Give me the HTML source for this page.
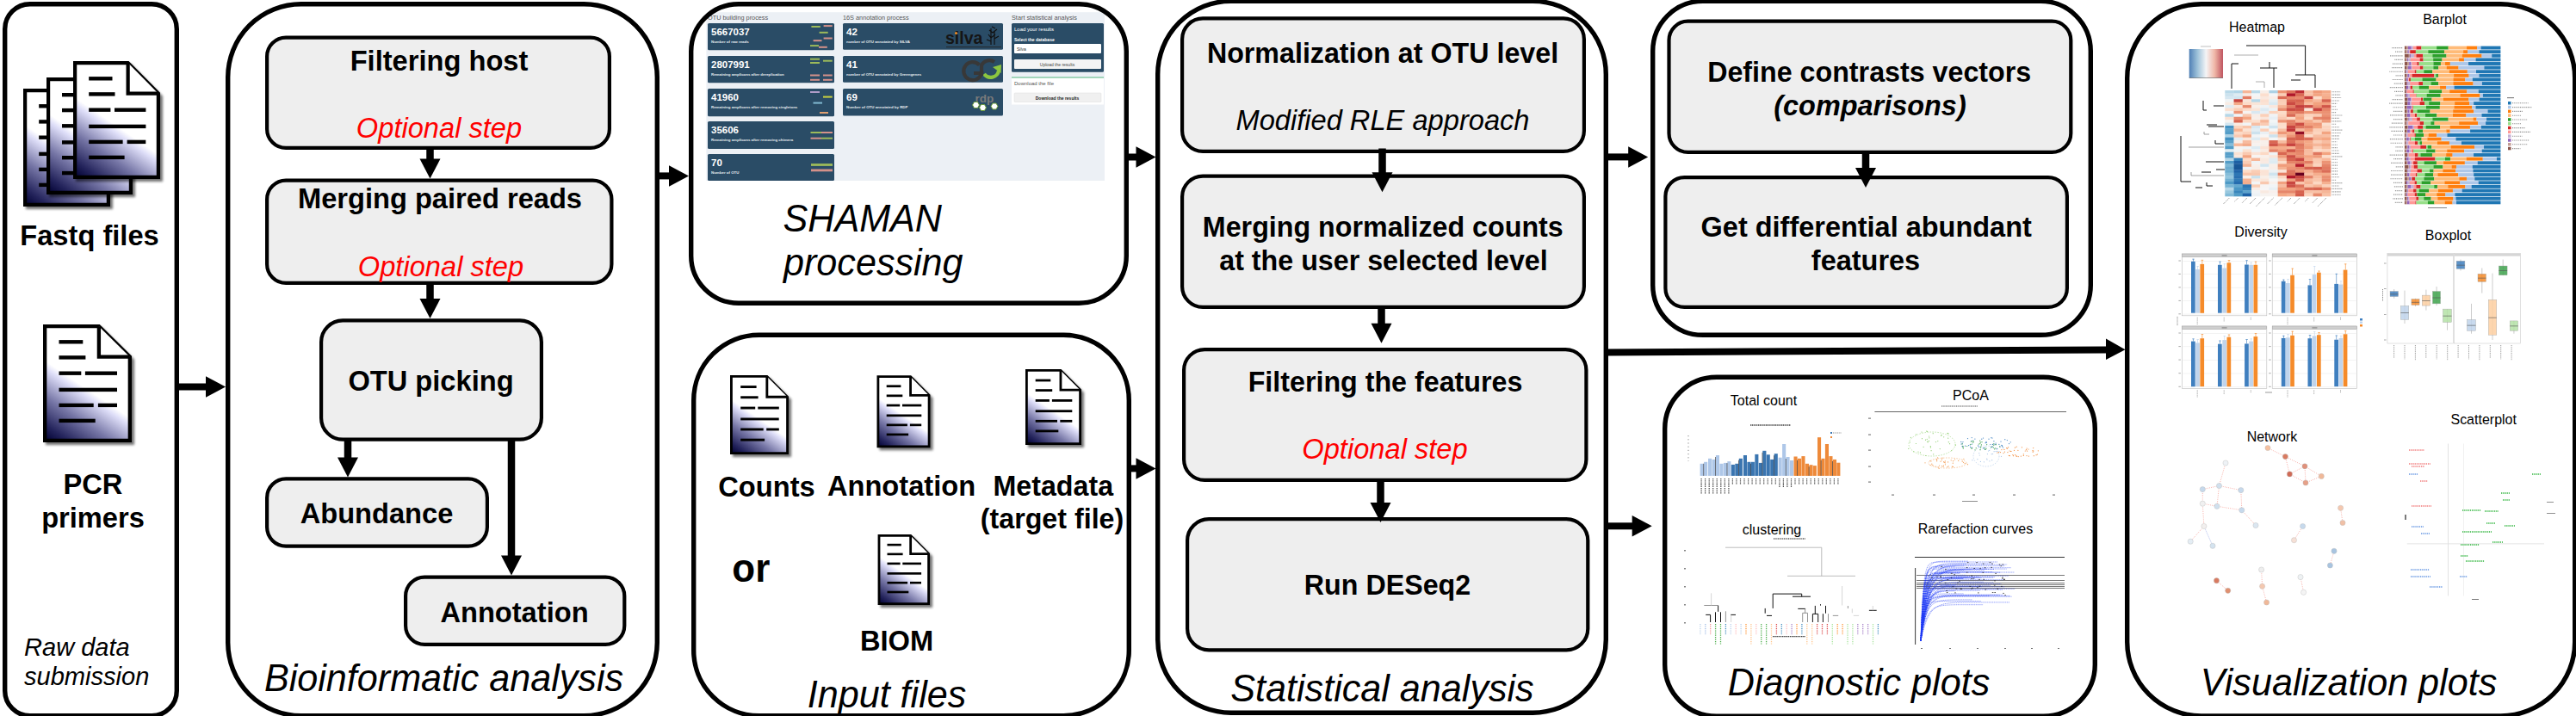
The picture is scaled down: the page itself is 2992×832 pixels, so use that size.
<!DOCTYPE html>
<html><head><meta charset="utf-8"><style>html,body{margin:0;padding:0;background:#fff;overflow:hidden}svg{display:block}</style></head><body><svg width="2992" height="832" viewBox="0 0 2992 832">
<defs>
<linearGradient id="docg" x1="0.28" y1="0.44" x2="0" y2="1">
<stop offset="0" stop-color="#ffffff"/>
<stop offset="0.1" stop-color="#dedef8"/>
<stop offset="0.45" stop-color="#7676a6"/>
<stop offset="0.8" stop-color="#24245c"/>
<stop offset="1" stop-color="#000032"/>
</linearGradient>
<clipPath id="p3clip"><rect x="805" y="7" width="501" height="343" rx="50" ry="50"/></clipPath>
<filter id="blur" x="-20%" y="-20%" width="140%" height="140%"><feGaussianBlur stdDeviation="1.5"/></filter>
<linearGradient id="hmkey" x1="0" y1="0" x2="1" y2="0">
<stop offset="0" stop-color="#4f7fb5"/>
<stop offset="0.25" stop-color="#9fc3da"/>
<stop offset="0.5" stop-color="#f4f4f6"/>
<stop offset="0.75" stop-color="#f0b8a8"/>
<stop offset="1" stop-color="#c05560"/>
</linearGradient>
</defs>
<rect x="0" y="0" width="2992" height="832" fill="#fff"/>
<rect x="5.7" y="4.7" width="199.6" height="827.0" rx="29" ry="29" fill="none" stroke="#000" stroke-width="5.4"/>
<path d="M30,106 L93.63,106 L131,143.675 L131,243 L30,243 Z" fill="#000" opacity="0.55" filter="url(#blur)"/>
<path d="M29.121,105.121 L90.63,105.121 L125.879,140.675 L125.879,237.879 L29.121,237.879 Z" fill="url(#docg)" stroke="#000" stroke-width="4.242" stroke-linejoin="miter"/>
<path d="M90.63,105.121 L90.63,140.675 L125.879,140.675" fill="#fff" stroke="#000" stroke-width="4.242"/>
<rect x="45.2" y="121.1" width="27.3" height="4.4" fill="#000"/>
<rect x="45.2" y="139.2" width="30.3" height="4.4" fill="#000"/>
<rect x="45.2" y="157.5" width="25.2" height="4.4" fill="#000"/>
<rect x="75.0" y="157.5" width="36.4" height="4.4" fill="#000"/>
<rect x="45.2" y="176.7" width="66.2" height="4.4" fill="#000"/>
<rect x="45.2" y="194.7" width="39.4" height="4.4" fill="#000"/>
<rect x="89.6" y="194.7" width="21.7" height="4.4" fill="#000"/>
<rect x="45.2" y="212.7" width="41.4" height="4.4" fill="#000"/>
<path d="M57,93 L120.0,93 L157,130.4 L157,229 L57,229 Z" fill="#000" opacity="0.55" filter="url(#blur)"/>
<path d="M56.1,92.1 L117.0,92.1 L151.9,127.4 L151.9,223.9 L56.1,223.9 Z" fill="url(#docg)" stroke="#000" stroke-width="4.2" stroke-linejoin="miter"/>
<path d="M117.0,92.1 L117.0,127.4 L151.9,127.4" fill="#fff" stroke="#000" stroke-width="4.2"/>
<rect x="72.0" y="108.0" width="27.0" height="4.4" fill="#000"/>
<rect x="72.0" y="125.9" width="30.0" height="4.4" fill="#000"/>
<rect x="72.0" y="144.1" width="25.0" height="4.4" fill="#000"/>
<rect x="101.5" y="144.1" width="36.0" height="4.4" fill="#000"/>
<rect x="72.0" y="163.2" width="65.5" height="4.4" fill="#000"/>
<rect x="72.0" y="181.0" width="39.0" height="4.4" fill="#000"/>
<rect x="116.0" y="181.0" width="21.5" height="4.4" fill="#000"/>
<rect x="72.0" y="198.9" width="41.0" height="4.4" fill="#000"/>
<path d="M88,74 L151.63,74 L189,111.67500000000001 L189,211 L88,211 Z" fill="#000" opacity="0.55" filter="url(#blur)"/>
<path d="M87.121,73.121 L148.63,73.121 L183.879,108.67500000000001 L183.879,205.879 L87.121,205.879 Z" fill="url(#docg)" stroke="#000" stroke-width="4.242" stroke-linejoin="miter"/>
<path d="M148.63,73.121 L148.63,108.67500000000001 L183.879,108.67500000000001" fill="#fff" stroke="#000" stroke-width="4.242"/>
<rect x="103.2" y="89.1" width="27.3" height="4.4" fill="#000"/>
<rect x="103.2" y="107.2" width="30.3" height="4.4" fill="#000"/>
<rect x="103.2" y="125.5" width="25.2" height="4.4" fill="#000"/>
<rect x="133.0" y="125.5" width="36.4" height="4.4" fill="#000"/>
<rect x="103.2" y="144.7" width="66.2" height="4.4" fill="#000"/>
<rect x="103.2" y="162.7" width="39.4" height="4.4" fill="#000"/>
<rect x="147.6" y="162.7" width="21.7" height="4.4" fill="#000"/>
<rect x="103.2" y="180.7" width="41.4" height="4.4" fill="#000"/>
<text x="104" y="285.3" font-family="Liberation Sans, sans-serif" font-size="32.64" font-weight="bold" font-style="normal" fill="#000" text-anchor="middle" transform="translate(0,285.3) scale(1,1.025) translate(0,-285.3)" >Fastq files</text>
<path d="M53,380 L117.89,380 L156,417.675 L156,517 L53,517 Z" fill="#000" opacity="0.55" filter="url(#blur)"/>
<path d="M52.163,379.163 L114.89,379.163 L150.837,414.675 L150.837,511.837 L52.163,511.837 Z" fill="url(#docg)" stroke="#000" stroke-width="4.3260000000000005" stroke-linejoin="miter"/>
<path d="M114.89,379.163 L114.89,414.675 L150.837,414.675" fill="#fff" stroke="#000" stroke-width="4.3260000000000005"/>
<rect x="68.5" y="395.1" width="27.8" height="4.4" fill="#000"/>
<rect x="68.5" y="413.2" width="30.9" height="4.4" fill="#000"/>
<rect x="68.5" y="431.5" width="25.8" height="4.4" fill="#000"/>
<rect x="98.9" y="431.5" width="37.1" height="4.4" fill="#000"/>
<rect x="68.5" y="450.7" width="67.5" height="4.4" fill="#000"/>
<rect x="68.5" y="468.7" width="40.2" height="4.4" fill="#000"/>
<rect x="113.9" y="468.7" width="22.1" height="4.4" fill="#000"/>
<rect x="68.5" y="486.7" width="42.2" height="4.4" fill="#000"/>
<text x="108" y="574.3" font-family="Liberation Sans, sans-serif" font-size="32.64" font-weight="bold" font-style="normal" fill="#000" text-anchor="middle" transform="translate(0,574.3) scale(1,1.025) translate(0,-574.3)" >PCR</text>
<text x="108" y="613.3" font-family="Liberation Sans, sans-serif" font-size="32.64" font-weight="bold" font-style="normal" fill="#000" text-anchor="middle" transform="translate(0,613.3) scale(1,1.025) translate(0,-613.3)" >primers</text>
<text x="28" y="762.3" font-family="Liberation Sans, sans-serif" font-size="29.07" font-weight="normal" font-style="italic" fill="#000" text-anchor="start" transform="translate(0,762.3) scale(1,1.025) translate(0,-762.3)" >Raw data</text>
<text x="28" y="796.3" font-family="Liberation Sans, sans-serif" font-size="29.07" font-weight="normal" font-style="italic" fill="#000" text-anchor="start" transform="translate(0,796.3) scale(1,1.025) translate(0,-796.3)" >submission</text>
<rect x="205" y="445.5" width="35" height="8" fill="#000"/>
<polygon points="239,437.25 239,461.75 262,449.5" fill="#000"/>
<rect x="264.7" y="4.7" width="498.6" height="827.0" rx="85" ry="85" fill="none" stroke="#000" stroke-width="5.4"/>
<rect x="310.1" y="43.6" width="397.8" height="128.3" rx="22" ry="22" fill="#eeeeee" stroke="#000" stroke-width="4.2"/>
<text x="510" y="81.8" font-family="Liberation Sans, sans-serif" font-size="32.64" font-weight="bold" font-style="normal" fill="#000" text-anchor="middle" transform="translate(0,81.8) scale(1,1.025) translate(0,-81.8)" >Filtering host</text>
<text x="510" y="160.3" font-family="Liberation Sans, sans-serif" font-size="32.64" font-weight="normal" font-style="italic" fill="#ff0000" text-anchor="middle" transform="translate(0,160.3) scale(1,1.025) translate(0,-160.3)" >Optional step</text>
<rect x="310.1" y="209.6" width="400.3" height="119.3" rx="22" ry="22" fill="#eeeeee" stroke="#000" stroke-width="4.2"/>
<text x="511" y="242.3" font-family="Liberation Sans, sans-serif" font-size="32.64" font-weight="bold" font-style="normal" fill="#000" text-anchor="middle" transform="translate(0,242.3) scale(1,1.025) translate(0,-242.3)" >Merging paired reads</text>
<text x="512" y="320.8" font-family="Liberation Sans, sans-serif" font-size="32.64" font-weight="normal" font-style="italic" fill="#ff0000" text-anchor="middle" transform="translate(0,320.8) scale(1,1.025) translate(0,-320.8)" >Optional step</text>
<rect x="373.1" y="372.40000000000003" width="255.8" height="138.29999999999995" rx="25" ry="25" fill="#eeeeee" stroke="#000" stroke-width="4.2"/>
<text x="500.5" y="454.3" font-family="Liberation Sans, sans-serif" font-size="32.64" font-weight="bold" font-style="normal" fill="#000" text-anchor="middle" transform="translate(0,454.3) scale(1,1.025) translate(0,-454.3)" >OTU picking</text>
<rect x="310.1" y="556.4" width="255.8" height="78.20000000000009" rx="22" ry="22" fill="#eeeeee" stroke="#000" stroke-width="4.2"/>
<text x="437.5" y="608.3" font-family="Liberation Sans, sans-serif" font-size="32.64" font-weight="bold" font-style="normal" fill="#000" text-anchor="middle" transform="translate(0,608.3) scale(1,1.025) translate(0,-608.3)" >Abundance</text>
<rect x="471.1" y="670.6" width="254.2" height="78.3" rx="22" ry="22" fill="#eeeeee" stroke="#000" stroke-width="4.2"/>
<text x="597.5" y="722.5999999999999" font-family="Liberation Sans, sans-serif" font-size="32.64" font-weight="bold" font-style="normal" fill="#000" text-anchor="middle" transform="translate(0,722.5999999999999) scale(1,1.025) translate(0,-722.5999999999999)" >Annotation</text>
<rect x="495.25" y="172" width="8.5" height="13.5" fill="#000"/>
<polygon points="487.5,184.5 511.5,184.5 499.5,207.5" fill="#000"/>
<rect x="495.25" y="329" width="8.5" height="19" fill="#000"/>
<polygon points="487.5,347 511.5,347 499.5,370" fill="#000"/>
<rect x="399.75" y="511" width="8.5" height="21.5" fill="#000"/>
<polygon points="392.0,531.5 416.0,531.5 404,554.5" fill="#000"/>
<rect x="589.75" y="511" width="8.5" height="135.5" fill="#000"/>
<polygon points="582.0,645.5 606.0,645.5 594,668.5" fill="#000"/>
<text x="515.5" y="803.2" font-family="Liberation Sans, sans-serif" font-size="43.13" font-weight="normal" font-style="italic" fill="#000" text-anchor="middle" transform="translate(0,803.2) scale(1,1.04) translate(0,-803.2)" >Bioinformatic analysis</text>
<rect x="763" y="200.4" width="15" height="8" fill="#000"/>
<polygon points="777,192.15 777,216.65 800,204.4" fill="#000"/>
<g clip-path="url(#p3clip)"><rect x="820.4" y="14.2" width="462.6" height="195.8" fill="#ecf0f5"/>
<text x="822" y="22.5" font-family="Liberation Sans, sans-serif" font-size="7.3" font-weight="normal" fill="#555" text-anchor="start">OTU building process</text>
<text x="979" y="22.5" font-family="Liberation Sans, sans-serif" font-size="7.3" font-weight="normal" fill="#555" text-anchor="start">16S annotation process</text>
<text x="1175" y="22.5" font-family="Liberation Sans, sans-serif" font-size="7.3" font-weight="normal" fill="#555" text-anchor="start">Start statistical analysis</text>
<rect x="822" y="27" width="147" height="31.200000000000003" rx="1.5" fill="#2a4c66"/>
<text x="826" y="41.2" font-family="Liberation Sans, sans-serif" font-size="11.5" font-weight="bold" fill="#fff" text-anchor="start">5667037</text>
<text x="826" y="49.5" font-family="Liberation Sans, sans-serif" font-size="4.4" font-weight="bold" fill="#e8ecf0" text-anchor="start">Number of raw reads</text>
<rect x="822" y="65" width="147" height="31.200000000000003" rx="1.5" fill="#2a4c66"/>
<text x="826" y="79.2" font-family="Liberation Sans, sans-serif" font-size="11.5" font-weight="bold" fill="#fff" text-anchor="start">2807991</text>
<text x="826" y="87.5" font-family="Liberation Sans, sans-serif" font-size="4.4" font-weight="bold" fill="#e8ecf0" text-anchor="start">Remaining amplicons after dereplication</text>
<rect x="822" y="103" width="147" height="32.19999999999999" rx="1.5" fill="#2a4c66"/>
<text x="826" y="117.2" font-family="Liberation Sans, sans-serif" font-size="11.5" font-weight="bold" fill="#fff" text-anchor="start">41960</text>
<text x="826" y="125.5" font-family="Liberation Sans, sans-serif" font-size="4.4" font-weight="bold" fill="#e8ecf0" text-anchor="start">Remaining amplicons after removing singletons</text>
<rect x="822" y="141" width="147" height="32" rx="1.5" fill="#2a4c66"/>
<text x="826" y="155.2" font-family="Liberation Sans, sans-serif" font-size="11.5" font-weight="bold" fill="#fff" text-anchor="start">35606</text>
<text x="826" y="163.5" font-family="Liberation Sans, sans-serif" font-size="4.4" font-weight="bold" fill="#e8ecf0" text-anchor="start">Remaining amplicons after removing chimera</text>
<rect x="822" y="179" width="147" height="31" rx="1.5" fill="#2a4c66"/>
<text x="826" y="193.2" font-family="Liberation Sans, sans-serif" font-size="11.5" font-weight="bold" fill="#fff" text-anchor="start">70</text>
<text x="826" y="201.5" font-family="Liberation Sans, sans-serif" font-size="4.4" font-weight="bold" fill="#e8ecf0" text-anchor="start">Number of OTU</text>
<rect x="942.4" y="30.0" width="10.399999999999977" height="2" fill="#9cba5a"/>
<rect x="956.6" y="29.1" width="10.100000000000023" height="2" fill="#d4918a"/>
<rect x="951.6" y="36.8" width="10.100000000000023" height="2" fill="#9cba5a"/>
<rect x="956.6" y="43.5" width="10.100000000000023" height="2" fill="#d4918a"/>
<rect x="944.6" y="46.2" width="9.899999999999977" height="2" fill="#d4918a"/>
<rect x="941" y="52.1" width="10" height="2" fill="#9cba5a"/>
<rect x="951" y="53.8" width="9.799999999999955" height="2" fill="#d4918a"/>
<rect x="941" y="67.7" width="11" height="2" fill="#9cba5a"/>
<rect x="941" y="72.0" width="11" height="2" fill="#9cba5a"/>
<rect x="956" y="69.7" width="10.700000000000045" height="2" fill="#9cba5a"/>
<rect x="941" y="86.5" width="11" height="2" fill="#d4918a"/>
<rect x="941" y="91.8" width="11" height="2" fill="#d4918a"/>
<rect x="956" y="86.5" width="10.700000000000045" height="2" fill="#d4918a"/>
<rect x="956" y="91.8" width="10.700000000000045" height="2" fill="#d4918a"/>
<rect x="941" y="106.0" width="11" height="2" fill="#b09cc8"/>
<rect x="956" y="111.6" width="10.700000000000045" height="2" fill="#c8d040"/>
<rect x="944.5" y="118.6" width="10.5" height="2" fill="#80b8d0"/>
<rect x="952" y="130.0" width="10" height="2" fill="#e0a070"/>
<rect x="941.5" y="153.0" width="12.5" height="2" fill="#9cba5a"/>
<rect x="954" y="153.0" width="13" height="2" fill="#d4918a"/>
<rect x="941.5" y="159.7" width="12.5" height="2" fill="#d4918a"/>
<rect x="954" y="159.7" width="13" height="2" fill="#9cba5a"/>
<rect x="942" y="190.1" width="25" height="2.8" fill="#9cba5a"/>
<rect x="942" y="196.5" width="25" height="2.8" fill="#d4918a"/>
<rect x="979" y="27" width="186" height="30.700000000000003" rx="1.5" fill="#2a4c66"/>
<text x="983" y="41.2" font-family="Liberation Sans, sans-serif" font-size="11.5" font-weight="bold" fill="#fff" text-anchor="start">42</text>
<text x="983" y="49.5" font-family="Liberation Sans, sans-serif" font-size="4.4" font-weight="bold" fill="#e8ecf0" text-anchor="start">number of OTU annotated by SILVA</text>
<rect x="979" y="65" width="186" height="30.700000000000003" rx="1.5" fill="#2a4c66"/>
<text x="983" y="79.2" font-family="Liberation Sans, sans-serif" font-size="11.5" font-weight="bold" fill="#fff" text-anchor="start">41</text>
<text x="983" y="87.5" font-family="Liberation Sans, sans-serif" font-size="4.4" font-weight="bold" fill="#e8ecf0" text-anchor="start">number of OTU annotated by Greengenes</text>
<rect x="979" y="103" width="186" height="31.599999999999994" rx="1.5" fill="#2a4c66"/>
<text x="983" y="117.2" font-family="Liberation Sans, sans-serif" font-size="11.5" font-weight="bold" fill="#fff" text-anchor="start">69</text>
<text x="983" y="125.5" font-family="Liberation Sans, sans-serif" font-size="4.4" font-weight="bold" fill="#e8ecf0" text-anchor="start">Number of OTU annotated by RDP</text>
<text x="1098" y="51" font-family="Liberation Sans, sans-serif" font-size="19.5" font-weight="bold" fill="#151515" text-anchor="start">silva</text>
<circle cx="1110.5" cy="38.5" r="1.5" fill="#f08a24"/>
<g stroke="#111" stroke-width="1.2" fill="none"><path d="M1151,52 L1151,33 M1155,52 L1155,36 M1148,40 L1151,44 L1156,40 M1146,46 L1151,48 M1155,45 L1160,42 M1149,35 L1153,38 L1158,34 M1152,31 L1156,33"/></g>
<rect x="1099" y="54" width="64" height="1.2" fill="#222" opacity="0.7"/>
<path d="M1137.5,75.5 A10.5,10.5 0 1 0 1140,85 L1131,85" fill="none" stroke="#383838" stroke-width="4.2"/>
<path d="M1158,76 A10,10 0 1 0 1160,85.5" fill="none" stroke="#383838" stroke-width="4.2" opacity="0"/>
<path d="M1143,86 A9.5,9.5 0 0 0 1160,82" fill="none" stroke="#8cc63f" stroke-width="4.2"/>
<path d="M1140,88 L1140,76 A10,10 0 0 1 1155,72" fill="none" stroke="#383838" stroke-width="4.2"/>
<polygon points="1153,78 1163,75 1162.5,85" fill="#8cc63f"/>
<text x="1132.5" y="119" font-family="Liberation Sans, sans-serif" font-size="13.5" font-weight="bold" fill="#7a7a7a" text-anchor="start">rdp</text>
<polygon points="1129.5,122 1131.5,118.5 1135.5,118.5 1137.5,122 1135.5,125.5 1131.5,125.5" fill="#fff" stroke="#6a9a3a" stroke-width="1"/>
<polygon points="1137.5,125 1139.5,121.5 1143.5,121.5 1145.5,125 1143.5,128.5 1139.5,128.5" fill="#fff" stroke="#6a9a3a" stroke-width="1"/>
<polygon points="1151,123.5 1153,120.0 1157,120.0 1159,123.5 1157,127.0 1153,127.0" fill="#fff" stroke="#6a9a3a" stroke-width="1"/>
<rect x="1175" y="27" width="107" height="56.7" rx="1.5" fill="#2a4c66"/>
<text x="1178" y="36" font-family="Liberation Sans, sans-serif" font-size="6" font-weight="normal" fill="#fff" text-anchor="start">Load your results</text>
<text x="1178" y="48" font-family="Liberation Sans, sans-serif" font-size="5" font-weight="bold" fill="#fff" text-anchor="start">Select the database</text>
<rect x="1178" y="51" width="101" height="11" rx="1" fill="#fff"/>
<text x="1181" y="58.5" font-family="Liberation Sans, sans-serif" font-size="5" font-weight="normal" fill="#333" text-anchor="start">Silva</text>
<rect x="1178" y="69" width="101" height="11" rx="1" fill="#f4f4f4"/>
<text x="1228" y="77" font-family="Liberation Sans, sans-serif" font-size="5" font-weight="normal" fill="#444" text-anchor="middle">Upload the results</text>
<rect x="1175" y="89.5" width="107" height="32" fill="#fff"/>
<rect x="1175" y="89.5" width="107" height="1" fill="#4caf7a"/>
<text x="1178" y="99" font-family="Liberation Sans, sans-serif" font-size="6" font-weight="normal" fill="#555" text-anchor="start">Download the file</text>
<rect x="1178" y="108" width="101" height="10.5" rx="1" fill="#f0f0f0" stroke="#ddd" stroke-width="0.5"/>
<text x="1228" y="115.5" font-family="Liberation Sans, sans-serif" font-size="5" font-weight="bold" fill="#222" text-anchor="middle">Download the results</text></g>
<rect x="802.7" y="4.7" width="505.6" height="347.6" rx="55" ry="55" fill="none" stroke="#000" stroke-width="5.4"/>
<text x="909.5" y="268.7" font-family="Liberation Sans, sans-serif" font-size="43.13" font-weight="normal" font-style="italic" fill="#000" text-anchor="start" transform="translate(0,268.7) scale(1,1.04) translate(0,-268.7)" >SHAMAN</text>
<text x="910" y="319.7" font-family="Liberation Sans, sans-serif" font-size="43.13" font-weight="normal" font-style="italic" fill="#000" text-anchor="start" transform="translate(0,319.7) scale(1,1.04) translate(0,-319.7)" >processing</text>
<rect x="1308" y="178.5" width="12.5" height="8" fill="#000"/>
<polygon points="1319.5,170.25 1319.5,194.75 1342.5,182.5" fill="#000"/>
<rect x="805.7" y="389.2" width="505.6" height="442.5" rx="76" ry="76" fill="none" stroke="#000" stroke-width="5.4"/>
<path d="M851,439 L893.84,439 L919,464.3 L919,531 L851,531 Z" fill="#000" opacity="0.55" filter="url(#blur)"/>
<path d="M849.428,437.428 L890.84,437.428 L914.572,461.3 L914.572,526.572 L849.428,526.572 Z" fill="url(#docg)" stroke="#000" stroke-width="2.8560000000000003" stroke-linejoin="miter"/>
<path d="M890.84,437.428 L890.84,461.3 L914.572,461.3" fill="#fff" stroke="#000" stroke-width="2.8560000000000003"/>
<rect x="860.2" y="448.1" width="18.4" height="2.9" fill="#000"/>
<rect x="860.2" y="460.3" width="20.4" height="2.9" fill="#000"/>
<rect x="860.2" y="472.6" width="17.0" height="2.9" fill="#000"/>
<rect x="880.3" y="472.6" width="24.5" height="2.9" fill="#000"/>
<rect x="860.2" y="485.5" width="44.5" height="2.9" fill="#000"/>
<rect x="860.2" y="497.5" width="26.5" height="2.9" fill="#000"/>
<rect x="890.2" y="497.5" width="14.6" height="2.9" fill="#000"/>
<rect x="860.2" y="509.7" width="27.9" height="2.9" fill="#000"/>
<path d="M1021.5,439.3 L1060.56,439.3 L1083.5,462.40000000000003 L1083.5,523.3 L1021.5,523.3 Z" fill="#000" opacity="0.55" filter="url(#blur)"/>
<path d="M1019.9,437.7 L1057.56,437.7 L1079.1,459.40000000000003 L1079.1,518.9 L1019.9,518.9 Z" fill="url(#docg)" stroke="#000" stroke-width="2.8" stroke-linejoin="miter"/>
<path d="M1057.56,437.7 L1057.56,459.40000000000003 L1079.1,459.40000000000003" fill="#fff" stroke="#000" stroke-width="2.8"/>
<rect x="1029.7" y="447.4" width="16.7" height="2.7" fill="#000"/>
<rect x="1029.7" y="458.5" width="18.6" height="2.7" fill="#000"/>
<rect x="1029.7" y="469.7" width="15.5" height="2.7" fill="#000"/>
<rect x="1048.0" y="469.7" width="22.3" height="2.7" fill="#000"/>
<rect x="1029.7" y="481.5" width="40.6" height="2.7" fill="#000"/>
<rect x="1029.7" y="492.5" width="24.2" height="2.7" fill="#000"/>
<rect x="1056.9" y="492.5" width="13.3" height="2.7" fill="#000"/>
<rect x="1029.7" y="503.6" width="25.4" height="2.7" fill="#000"/>
<path d="M1194,432 L1234.95,432 L1259,456.2 L1259,520 L1194,520 Z" fill="#000" opacity="0.55" filter="url(#blur)"/>
<path d="M1192.4,430.4 L1231.95,430.4 L1254.6,453.2 L1254.6,515.6 L1192.4,515.6 Z" fill="url(#docg)" stroke="#000" stroke-width="2.8" stroke-linejoin="miter"/>
<path d="M1231.95,430.4 L1231.95,453.2 L1254.6,453.2" fill="#fff" stroke="#000" stroke-width="2.8"/>
<rect x="1202.7" y="440.6" width="17.6" height="2.8" fill="#000"/>
<rect x="1202.7" y="452.2" width="19.5" height="2.8" fill="#000"/>
<rect x="1202.7" y="464.0" width="16.2" height="2.8" fill="#000"/>
<rect x="1221.9" y="464.0" width="23.4" height="2.8" fill="#000"/>
<rect x="1202.7" y="476.3" width="42.6" height="2.8" fill="#000"/>
<rect x="1202.7" y="487.9" width="25.3" height="2.8" fill="#000"/>
<rect x="1231.3" y="487.9" width="14.0" height="2.8" fill="#000"/>
<rect x="1202.7" y="499.5" width="26.6" height="2.8" fill="#000"/>
<path d="M1022.6,624 L1060.652,624 L1083.0,646.55 L1083.0,706 L1022.6,706 Z" fill="#000" opacity="0.55" filter="url(#blur)"/>
<path d="M1021.0,622.4 L1057.652,622.4 L1078.6,643.55 L1078.6,701.6 L1021.0,701.6 Z" fill="url(#docg)" stroke="#000" stroke-width="2.8" stroke-linejoin="miter"/>
<path d="M1057.652,622.4 L1057.652,643.55 L1078.6,643.55" fill="#fff" stroke="#000" stroke-width="2.8"/>
<rect x="1030.5" y="631.8" width="16.3" height="2.6" fill="#000"/>
<rect x="1030.5" y="642.6" width="18.1" height="2.6" fill="#000"/>
<rect x="1030.5" y="653.6" width="15.1" height="2.6" fill="#000"/>
<rect x="1048.3" y="653.6" width="21.7" height="2.6" fill="#000"/>
<rect x="1030.5" y="665.1" width="39.6" height="2.6" fill="#000"/>
<rect x="1030.5" y="675.9" width="23.6" height="2.6" fill="#000"/>
<rect x="1057.0" y="675.9" width="13.0" height="2.6" fill="#000"/>
<rect x="1030.5" y="686.7" width="24.8" height="2.6" fill="#000"/>
<text x="890.5" y="577.1999999999999" font-family="Liberation Sans, sans-serif" font-size="32.64" font-weight="bold" font-style="normal" fill="#000" text-anchor="middle" transform="translate(0,577.1999999999999) scale(1,1.025) translate(0,-577.1999999999999)" >Counts</text>
<text x="1047" y="576.4" font-family="Liberation Sans, sans-serif" font-size="32.64" font-weight="bold" font-style="normal" fill="#000" text-anchor="middle" transform="translate(0,576.4) scale(1,1.025) translate(0,-576.4)" >Annotation</text>
<text x="1223.3" y="575.9" font-family="Liberation Sans, sans-serif" font-size="32.23" font-weight="bold" font-style="normal" fill="#000" text-anchor="middle" transform="translate(0,575.9) scale(1,1.025) translate(0,-575.9)" >Metadata</text>
<text x="1222" y="614.0" font-family="Liberation Sans, sans-serif" font-size="32.23" font-weight="bold" font-style="normal" fill="#000" text-anchor="middle" transform="translate(0,614.0) scale(1,1.025) translate(0,-614.0)" >(target file)</text>
<text x="872.3" y="676.5" font-family="Liberation Sans, sans-serif" font-size="43.94" font-weight="bold" font-style="normal" fill="#000" text-anchor="middle" transform="translate(0,676.5) scale(1,1.04) translate(0,-676.5)" >or</text>
<text x="1041.5" y="756.3" font-family="Liberation Sans, sans-serif" font-size="32.64" font-weight="bold" font-style="normal" fill="#000" text-anchor="middle" transform="translate(0,756.3) scale(1,1.025) translate(0,-756.3)" >BIOM</text>
<text x="1030" y="821.7" font-family="Liberation Sans, sans-serif" font-size="43.13" font-weight="normal" font-style="italic" fill="#000" text-anchor="middle" transform="translate(0,821.7) scale(1,1.04) translate(0,-821.7)" >Input files</text>
<rect x="1311" y="540.4" width="9.5" height="8" fill="#000"/>
<polygon points="1319.5,532.15 1319.5,556.65 1342.5,544.4" fill="#000"/>
<rect x="1344.7" y="1.3000000000000003" width="520.6" height="827.0" rx="85" ry="85" fill="none" stroke="#000" stroke-width="5.4"/>
<rect x="1373.1" y="21.400000000000002" width="466.8" height="154.5" rx="24" ry="24" fill="#eeeeee" stroke="#000" stroke-width="4.2"/>
<text x="1606" y="73.3" font-family="Liberation Sans, sans-serif" font-size="32.23" font-weight="bold" font-style="normal" fill="#000" text-anchor="middle" transform="translate(0,73.3) scale(1,1.025) translate(0,-73.3)" >Normalization at OTU level</text>
<text x="1606" y="151.0" font-family="Liberation Sans, sans-serif" font-size="32.64" font-weight="normal" font-style="italic" fill="#000" text-anchor="middle" transform="translate(0,151.0) scale(1,1.025) translate(0,-151.0)" >Modified RLE approach</text>
<rect x="1373.1" y="204.6" width="466.8" height="152.3" rx="24" ry="24" fill="#eeeeee" stroke="#000" stroke-width="4.2"/>
<text x="1606.3" y="275.3" font-family="Liberation Sans, sans-serif" font-size="32.23" font-weight="bold" font-style="normal" fill="#000" text-anchor="middle" transform="translate(0,275.3) scale(1,1.025) translate(0,-275.3)" >Merging normalized counts</text>
<text x="1607" y="314.5" font-family="Liberation Sans, sans-serif" font-size="32.23" font-weight="bold" font-style="normal" fill="#000" text-anchor="middle" transform="translate(0,314.5) scale(1,1.025) translate(0,-314.5)" >at the user selected level</text>
<rect x="1375.1" y="406.1" width="467.3" height="151.8" rx="24" ry="24" fill="#eeeeee" stroke="#000" stroke-width="4.2"/>
<text x="1609" y="455.0" font-family="Liberation Sans, sans-serif" font-size="32.23" font-weight="bold" font-style="normal" fill="#000" text-anchor="middle" transform="translate(0,455.0) scale(1,1.025) translate(0,-455.0)" >Filtering the features</text>
<text x="1608.5" y="532.5999999999999" font-family="Liberation Sans, sans-serif" font-size="32.64" font-weight="normal" font-style="italic" fill="#ff0000" text-anchor="middle" transform="translate(0,532.5999999999999) scale(1,1.025) translate(0,-532.5999999999999)" >Optional step</text>
<rect x="1379.1" y="603.1" width="465.2000000000001" height="152.3" rx="25" ry="25" fill="#eeeeee" stroke="#000" stroke-width="4.2"/>
<text x="1611.5" y="691.1999999999999" font-family="Liberation Sans, sans-serif" font-size="32.23" font-weight="bold" font-style="normal" fill="#000" text-anchor="middle" transform="translate(0,691.1999999999999) scale(1,1.025) translate(0,-691.1999999999999)" >Run DESeq2</text>
<rect x="1601.25" y="172.5" width="8.5" height="28.69999999999999" fill="#000"/>
<polygon points="1593.5,200.2 1617.5,200.2 1605.5,223.2" fill="#000"/>
<rect x="1600.25" y="357" width="8.5" height="19.80000000000001" fill="#000"/>
<polygon points="1592.5,375.8 1616.5,375.8 1604.5,398.8" fill="#000"/>
<rect x="1599.25" y="558" width="8.5" height="27" fill="#000"/>
<polygon points="1591.5,584 1615.5,584 1603.5,607" fill="#000"/>
<text x="1605.5" y="814.6" font-family="Liberation Sans, sans-serif" font-size="43.13" font-weight="normal" font-style="italic" fill="#000" text-anchor="middle" transform="translate(0,814.6) scale(1,1.04) translate(0,-814.6)" >Statistical analysis</text>
<rect x="1866" y="178.4" width="26.200000000000045" height="8" fill="#000"/>
<polygon points="1891.2,170.15 1891.2,194.65 1914.2,182.4" fill="#000"/>
<rect x="1866" y="607.3" width="30.700000000000045" height="8" fill="#000"/>
<polygon points="1895.7,599.05 1895.7,623.55 1918.7,611.3" fill="#000"/>
<polygon points="1866,405.5 2447,402.4 2447,410.4 1866,413.5" fill="#000"/>
<polygon points="2446,393.5 2446,418 2468.5,406.2" fill="#000"/>
<rect x="1919.7" y="1.3000000000000003" width="508.6" height="388.0" rx="58" ry="58" fill="none" stroke="#000" stroke-width="5.4"/>
<rect x="1938.5" y="24.700000000000003" width="466.8" height="152.20000000000002" rx="22" ry="22" fill="#eeeeee" stroke="#000" stroke-width="4.2"/>
<text x="2171.2" y="95.3" font-family="Liberation Sans, sans-serif" font-size="32.23" font-weight="bold" font-style="normal" fill="#000" text-anchor="middle" transform="translate(0,95.3) scale(1,1.025) translate(0,-95.3)" >Define contrasts vectors</text>
<text x="2172" y="134.0" font-family="Liberation Sans, sans-serif" font-size="32.44" font-weight="bold" font-style="italic" fill="#000" text-anchor="middle" transform="translate(0,134.0) scale(1,1.025) translate(0,-134.0)" >(comparisons)</text>
<rect x="1934.3999999999999" y="206.1" width="466.50000000000006" height="150.8" rx="22" ry="22" fill="#eeeeee" stroke="#000" stroke-width="4.2"/>
<text x="2167.7" y="275.5" font-family="Liberation Sans, sans-serif" font-size="32.49" font-weight="bold" font-style="normal" fill="#000" text-anchor="middle" transform="translate(0,275.5) scale(1,1.025) translate(0,-275.5)" >Get differential abundant</text>
<text x="2167" y="313.8" font-family="Liberation Sans, sans-serif" font-size="32.49" font-weight="bold" font-style="normal" fill="#000" text-anchor="middle" transform="translate(0,313.8) scale(1,1.025) translate(0,-313.8)" >features</text>
<rect x="2162.75" y="177" width="8.5" height="19" fill="#000"/>
<polygon points="2155.0,195 2179.0,195 2167,218" fill="#000"/>
<rect x="1933.7" y="438.2" width="499.6" height="394.1" rx="60" ry="60" fill="none" stroke="#000" stroke-width="5.4"/>
<rect x="1974.6" y="538.8" width="4.1" height="14.1" fill="#aec7e8"/>
<rect x="1979.1" y="536.8" width="4.1" height="16.1" fill="#aec7e8"/>
<rect x="1978.5" y="538.8" width="0.6" height="14.1" fill="#222"/>
<rect x="1984.0" y="532.8" width="4.1" height="20.1" fill="#aec7e8"/>
<rect x="1988.5" y="533.9" width="4.1" height="19.0" fill="#aec7e8"/>
<rect x="1992.9" y="529.0" width="4.1" height="23.9" fill="#aec7e8"/>
<rect x="1992.3" y="531.0" width="0.6" height="21.9" fill="#222"/>
<rect x="1997.4" y="538.8" width="4.1" height="14.1" fill="#aec7e8"/>
<rect x="2001.9" y="537.9" width="4.1" height="15.0" fill="#aec7e8"/>
<rect x="2006.3" y="536.1" width="4.1" height="16.8" fill="#aec7e8"/>
<rect x="2005.7" y="538.1" width="0.6" height="14.8" fill="#222"/>
<rect x="2010.8" y="539.9" width="4.1" height="13.0" fill="#3a75b0"/>
<rect x="2015.3" y="538.8" width="4.1" height="14.1" fill="#3a75b0"/>
<rect x="2019.8" y="532.8" width="4.1" height="20.1" fill="#3a75b0"/>
<rect x="2019.2" y="534.8" width="0.6" height="18.1" fill="#222"/>
<rect x="2024.9" y="529.0" width="4.1" height="23.9" fill="#3a75b0"/>
<rect x="2029.4" y="536.8" width="4.1" height="16.1" fill="#3a75b0"/>
<rect x="2033.8" y="536.8" width="4.1" height="16.1" fill="#3a75b0"/>
<rect x="2033.2" y="538.8" width="0.6" height="14.1" fill="#222"/>
<rect x="2038.3" y="527.9" width="4.1" height="25.0" fill="#3a75b0"/>
<rect x="2042.8" y="537.9" width="4.1" height="15.0" fill="#3a75b0"/>
<rect x="2047.3" y="523.8" width="4.1" height="29.1" fill="#3a75b0"/>
<rect x="2046.7" y="525.8" width="0.6" height="27.1" fill="#222"/>
<rect x="2051.7" y="528.3" width="4.1" height="24.6" fill="#3a75b0"/>
<rect x="2056.2" y="533.9" width="4.1" height="19.0" fill="#3a75b0"/>
<rect x="2060.7" y="527.2" width="4.1" height="25.7" fill="#3a75b0"/>
<rect x="2060.1" y="529.2" width="0.6" height="23.7" fill="#222"/>
<rect x="2065.6" y="531.7" width="4.1" height="21.2" fill="#aec7e8"/>
<rect x="2070.1" y="516.0" width="4.1" height="36.9" fill="#aec7e8"/>
<rect x="2074.5" y="531.0" width="4.1" height="21.9" fill="#aec7e8"/>
<rect x="2073.9" y="533.0" width="0.6" height="19.9" fill="#222"/>
<rect x="2079.0" y="535.0" width="4.1" height="17.9" fill="#aec7e8"/>
<rect x="2083.5" y="530.5" width="4.1" height="22.4" fill="#ee8a3a"/>
<rect x="2087.9" y="532.8" width="4.1" height="20.1" fill="#ee8a3a"/>
<rect x="2087.3" y="534.8" width="0.6" height="18.1" fill="#222"/>
<rect x="2092.4" y="530.1" width="4.1" height="22.8" fill="#ee8a3a"/>
<rect x="2096.9" y="538.8" width="4.1" height="14.1" fill="#ee8a3a"/>
<rect x="2101.4" y="540.2" width="4.1" height="12.7" fill="#ee8a3a"/>
<rect x="2100.8" y="542.2" width="0.6" height="10.7" fill="#222"/>
<rect x="2105.8" y="541.1" width="4.1" height="11.8" fill="#ee8a3a"/>
<rect x="2111.0" y="508.2" width="4.1" height="44.7" fill="#ee8a3a"/>
<rect x="2115.4" y="532.8" width="4.1" height="20.1" fill="#ee8a3a"/>
<rect x="2114.8" y="534.8" width="0.6" height="18.1" fill="#222"/>
<rect x="2119.9" y="516.0" width="4.1" height="36.9" fill="#ee8a3a"/>
<rect x="2124.4" y="530.1" width="4.1" height="22.8" fill="#ee8a3a"/>
<rect x="2128.9" y="533.9" width="4.1" height="19.0" fill="#ee8a3a"/>
<rect x="2128.3" y="535.9" width="0.6" height="17.0" fill="#222"/>
<rect x="2133.3" y="537.7" width="4.1" height="15.2" fill="#ee8a3a"/>
<line x1="2033" y1="494" x2="2080" y2="494" stroke="#111" stroke-width="1.5" stroke-dasharray="1.2,0.6" opacity="0.8"/>
<rect x="2126" y="502" width="2" height="2" fill="#3a75b0"/><rect x="2126" y="507" width="2" height="2" fill="#ee8a3a"/>
<line x1="2129" y1="503" x2="2139" y2="503" stroke="#444" stroke-width="1" stroke-dasharray="1,0.7" opacity="0.6"/>
<line x1="1961" y1="506" x2="1961" y2="536" stroke="#333" stroke-width="1" stroke-dasharray="1.2,3" opacity="0.6"/>
<line x1="1976.1" y1="556" x2="1976.1" y2="574" stroke="#111" stroke-width="1.2" stroke-dasharray="1.3,0.9" opacity="0.8"/>
<line x1="1980.6" y1="556" x2="1980.6" y2="574" stroke="#111" stroke-width="1.2" stroke-dasharray="1.3,0.9" opacity="0.8"/>
<line x1="1985.2" y1="556" x2="1985.2" y2="574" stroke="#111" stroke-width="1.2" stroke-dasharray="1.3,0.9" opacity="0.8"/>
<line x1="1989.7" y1="556" x2="1989.7" y2="574" stroke="#111" stroke-width="1.2" stroke-dasharray="1.3,0.9" opacity="0.8"/>
<line x1="1994.2" y1="556" x2="1994.2" y2="574" stroke="#111" stroke-width="1.2" stroke-dasharray="1.3,0.9" opacity="0.8"/>
<line x1="1998.8" y1="556" x2="1998.8" y2="574" stroke="#111" stroke-width="1.2" stroke-dasharray="1.3,0.9" opacity="0.8"/>
<line x1="2003.3" y1="556" x2="2003.3" y2="574" stroke="#111" stroke-width="1.2" stroke-dasharray="1.3,0.9" opacity="0.8"/>
<line x1="2007.9" y1="556" x2="2007.9" y2="574" stroke="#111" stroke-width="1.2" stroke-dasharray="1.3,0.9" opacity="0.8"/>
<line x1="2012.4" y1="556" x2="2012.4" y2="563" stroke="#111" stroke-width="1.2" stroke-dasharray="1.3,0.9" opacity="0.8"/>
<line x1="2016.9" y1="556" x2="2016.9" y2="563" stroke="#111" stroke-width="1.2" stroke-dasharray="1.3,0.9" opacity="0.8"/>
<line x1="2021.5" y1="556" x2="2021.5" y2="563" stroke="#111" stroke-width="1.2" stroke-dasharray="1.3,0.9" opacity="0.8"/>
<line x1="2026.0" y1="556" x2="2026.0" y2="563" stroke="#111" stroke-width="1.2" stroke-dasharray="1.3,0.9" opacity="0.8"/>
<line x1="2030.6" y1="556" x2="2030.6" y2="563" stroke="#111" stroke-width="1.2" stroke-dasharray="1.3,0.9" opacity="0.8"/>
<line x1="2035.1" y1="556" x2="2035.1" y2="563" stroke="#111" stroke-width="1.2" stroke-dasharray="1.3,0.9" opacity="0.8"/>
<line x1="2039.6" y1="556" x2="2039.6" y2="563" stroke="#111" stroke-width="1.2" stroke-dasharray="1.3,0.9" opacity="0.8"/>
<line x1="2044.2" y1="556" x2="2044.2" y2="563" stroke="#111" stroke-width="1.2" stroke-dasharray="1.3,0.9" opacity="0.8"/>
<line x1="2048.7" y1="556" x2="2048.7" y2="563" stroke="#111" stroke-width="1.2" stroke-dasharray="1.3,0.9" opacity="0.8"/>
<line x1="2053.2" y1="556" x2="2053.2" y2="563" stroke="#111" stroke-width="1.2" stroke-dasharray="1.3,0.9" opacity="0.8"/>
<line x1="2057.8" y1="556" x2="2057.8" y2="563" stroke="#111" stroke-width="1.2" stroke-dasharray="1.3,0.9" opacity="0.8"/>
<line x1="2062.3" y1="556" x2="2062.3" y2="563" stroke="#111" stroke-width="1.2" stroke-dasharray="1.3,0.9" opacity="0.8"/>
<line x1="2066.9" y1="556" x2="2066.9" y2="566" stroke="#111" stroke-width="1.2" stroke-dasharray="1.3,0.9" opacity="0.8"/>
<line x1="2071.4" y1="556" x2="2071.4" y2="566" stroke="#111" stroke-width="1.2" stroke-dasharray="1.3,0.9" opacity="0.8"/>
<line x1="2075.9" y1="556" x2="2075.9" y2="566" stroke="#111" stroke-width="1.2" stroke-dasharray="1.3,0.9" opacity="0.8"/>
<line x1="2080.5" y1="556" x2="2080.5" y2="566" stroke="#111" stroke-width="1.2" stroke-dasharray="1.3,0.9" opacity="0.8"/>
<line x1="2085.0" y1="556" x2="2085.0" y2="563" stroke="#111" stroke-width="1.2" stroke-dasharray="1.3,0.9" opacity="0.8"/>
<line x1="2089.6" y1="556" x2="2089.6" y2="563" stroke="#111" stroke-width="1.2" stroke-dasharray="1.3,0.9" opacity="0.8"/>
<line x1="2094.1" y1="556" x2="2094.1" y2="563" stroke="#111" stroke-width="1.2" stroke-dasharray="1.3,0.9" opacity="0.8"/>
<line x1="2098.6" y1="556" x2="2098.6" y2="563" stroke="#111" stroke-width="1.2" stroke-dasharray="1.3,0.9" opacity="0.8"/>
<line x1="2103.2" y1="556" x2="2103.2" y2="563" stroke="#111" stroke-width="1.2" stroke-dasharray="1.3,0.9" opacity="0.8"/>
<line x1="2107.7" y1="556" x2="2107.7" y2="563" stroke="#111" stroke-width="1.2" stroke-dasharray="1.3,0.9" opacity="0.8"/>
<line x1="2112.2" y1="556" x2="2112.2" y2="563" stroke="#111" stroke-width="1.2" stroke-dasharray="1.3,0.9" opacity="0.8"/>
<line x1="2116.8" y1="556" x2="2116.8" y2="563" stroke="#111" stroke-width="1.2" stroke-dasharray="1.3,0.9" opacity="0.8"/>
<line x1="2121.3" y1="556" x2="2121.3" y2="563" stroke="#111" stroke-width="1.2" stroke-dasharray="1.3,0.9" opacity="0.8"/>
<line x1="2125.9" y1="556" x2="2125.9" y2="563" stroke="#111" stroke-width="1.2" stroke-dasharray="1.3,0.9" opacity="0.8"/>
<line x1="2130.4" y1="556" x2="2130.4" y2="563" stroke="#111" stroke-width="1.2" stroke-dasharray="1.3,0.9" opacity="0.8"/>
<line x1="2134.9" y1="556" x2="2134.9" y2="563" stroke="#111" stroke-width="1.2" stroke-dasharray="1.3,0.9" opacity="0.8"/>
<rect x="2177.4" y="478" width="222.6" height="1" fill="#666"/>
<line x1="2255" y1="472" x2="2297" y2="472" stroke="#222" stroke-width="1.5" stroke-dasharray="1,0.7" opacity="0.55"/>
<ellipse cx="2244" cy="516" rx="27" ry="14" fill="none" stroke="#a6d98c" stroke-width="0.7" stroke-dasharray="1.5,1.5"/>
<circle cx="2245.7" cy="527.8" r="0.6" fill="#8fce70"/>
<circle cx="2228.0" cy="525.1" r="0.6" fill="#8fce70"/>
<circle cx="2238.6" cy="513.1" r="0.6" fill="#8fce70"/>
<circle cx="2271.4" cy="517.2" r="0.6" fill="#8fce70"/>
<circle cx="2243.1" cy="523.7" r="0.6" fill="#8fce70"/>
<circle cx="2264.6" cy="515.7" r="0.6" fill="#8fce70"/>
<circle cx="2254.7" cy="506.5" r="0.6" fill="#8fce70"/>
<circle cx="2236.5" cy="511.2" r="0.6" fill="#8fce70"/>
<circle cx="2225.5" cy="504.8" r="0.6" fill="#8fce70"/>
<circle cx="2218.4" cy="514.0" r="0.6" fill="#8fce70"/>
<circle cx="2240.4" cy="512.4" r="0.6" fill="#8fce70"/>
<circle cx="2245.2" cy="503.7" r="0.6" fill="#8fce70"/>
<circle cx="2242.3" cy="518.7" r="0.6" fill="#8fce70"/>
<circle cx="2257.7" cy="507.8" r="0.6" fill="#8fce70"/>
<circle cx="2238.5" cy="501.3" r="0.6" fill="#8fce70"/>
<circle cx="2237.6" cy="501.0" r="0.6" fill="#8fce70"/>
<circle cx="2222.8" cy="524.8" r="0.6" fill="#8fce70"/>
<circle cx="2216.7" cy="521.3" r="0.6" fill="#8fce70"/>
<circle cx="2250.8" cy="512.6" r="0.6" fill="#8fce70"/>
<circle cx="2253.2" cy="521.6" r="0.6" fill="#8fce70"/>
<circle cx="2263.3" cy="513.7" r="0.6" fill="#8fce70"/>
<circle cx="2232.5" cy="509.7" r="0.6" fill="#8fce70"/>
<circle cx="2225.4" cy="515.5" r="0.6" fill="#8fce70"/>
<circle cx="2230.4" cy="525.9" r="0.6" fill="#8fce70"/>
<circle cx="2219.4" cy="508.3" r="0.6" fill="#8fce70"/>
<circle cx="2232.0" cy="502.0" r="0.6" fill="#8fce70"/>
<circle cx="2262.5" cy="503.5" r="0.6" fill="#8fce70"/>
<circle cx="2238.2" cy="510.3" r="0.6" fill="#8fce70"/>
<circle cx="2262.9" cy="503.9" r="0.6" fill="#8fce70"/>
<circle cx="2262.7" cy="509.2" r="0.6" fill="#8fce70"/>
<circle cx="2240.9" cy="508.8" r="0.6" fill="#8fce70"/>
<circle cx="2255.1" cy="505.4" r="0.6" fill="#8fce70"/>
<circle cx="2242.4" cy="519.9" r="0.6" fill="#8fce70"/>
<circle cx="2262.1" cy="503.4" r="0.6" fill="#8fce70"/>
<circle cx="2266.8" cy="523.6" r="0.6" fill="#8fce70"/>
<circle cx="2234.1" cy="519.3" r="0.6" fill="#8fce70"/>
<circle cx="2236.8" cy="529.5" r="0.6" fill="#8fce70"/>
<circle cx="2248.4" cy="513.6" r="0.6" fill="#8fce70"/>
<circle cx="2239.2" cy="513.8" r="0.6" fill="#8fce70"/>
<circle cx="2240.6" cy="507.0" r="0.6" fill="#8fce70"/>
<ellipse cx="2262" cy="538" rx="22" ry="6" fill="none" stroke="#f4b37a" stroke-width="0.7" stroke-dasharray="1.5,1.5"/>
<circle cx="2280.9" cy="533.3" r="0.6" fill="#f29a50"/>
<circle cx="2236.0" cy="537.8" r="0.6" fill="#f29a50"/>
<circle cx="2259.4" cy="539.8" r="0.6" fill="#f29a50"/>
<circle cx="2258.3" cy="537.3" r="0.6" fill="#f29a50"/>
<circle cx="2267.4" cy="542.2" r="0.6" fill="#f29a50"/>
<circle cx="2254.1" cy="536.2" r="0.6" fill="#f29a50"/>
<circle cx="2285.4" cy="539.7" r="0.6" fill="#f29a50"/>
<circle cx="2252.1" cy="544.3" r="0.6" fill="#f29a50"/>
<circle cx="2274.7" cy="535.4" r="0.6" fill="#f29a50"/>
<circle cx="2243.8" cy="539.2" r="0.6" fill="#f29a50"/>
<circle cx="2249.6" cy="533.8" r="0.6" fill="#f29a50"/>
<circle cx="2242.9" cy="536.0" r="0.6" fill="#f29a50"/>
<circle cx="2279.2" cy="536.2" r="0.6" fill="#f29a50"/>
<circle cx="2242.0" cy="540.5" r="0.6" fill="#f29a50"/>
<circle cx="2263.1" cy="541.8" r="0.6" fill="#f29a50"/>
<circle cx="2280.6" cy="537.3" r="0.6" fill="#f29a50"/>
<circle cx="2259.3" cy="537.8" r="0.6" fill="#f29a50"/>
<circle cx="2244.9" cy="540.7" r="0.6" fill="#f29a50"/>
<circle cx="2282.2" cy="538.7" r="0.6" fill="#f29a50"/>
<circle cx="2257.7" cy="536.7" r="0.6" fill="#f29a50"/>
<circle cx="2249.6" cy="534.6" r="0.6" fill="#f29a50"/>
<circle cx="2255.4" cy="534.2" r="0.6" fill="#f29a50"/>
<circle cx="2256.0" cy="532.2" r="0.6" fill="#f29a50"/>
<circle cx="2268.3" cy="538.2" r="0.6" fill="#f29a50"/>
<circle cx="2250.6" cy="531.9" r="0.6" fill="#f29a50"/>
<circle cx="2261.9" cy="542.7" r="0.6" fill="#f29a50"/>
<circle cx="2249.7" cy="535.8" r="0.6" fill="#f29a50"/>
<circle cx="2252.5" cy="541.0" r="0.6" fill="#f29a50"/>
<circle cx="2248.3" cy="542.0" r="0.6" fill="#f29a50"/>
<circle cx="2257.0" cy="542.1" r="0.6" fill="#f29a50"/>
<circle cx="2262.6" cy="536.9" r="0.6" fill="#f29a50"/>
<circle cx="2241.8" cy="535.5" r="0.6" fill="#f29a50"/>
<circle cx="2257.5" cy="541.1" r="0.6" fill="#f29a50"/>
<circle cx="2266.2" cy="534.8" r="0.6" fill="#f29a50"/>
<circle cx="2268.6" cy="542.3" r="0.6" fill="#f29a50"/>
<circle cx="2259.3" cy="535.9" r="0.6" fill="#f29a50"/>
<circle cx="2255.4" cy="541.6" r="0.6" fill="#f29a50"/>
<circle cx="2270.6" cy="534.0" r="0.6" fill="#f29a50"/>
<circle cx="2268.6" cy="535.7" r="0.6" fill="#f29a50"/>
<circle cx="2251.1" cy="542.8" r="0.6" fill="#f29a50"/>
<ellipse cx="2307" cy="530" rx="15" ry="12" fill="none" stroke="#b4cce8" stroke-width="0.7" stroke-dasharray="1.5,1.5"/>
<circle cx="2316.1" cy="524.7" r="0.6" fill="#a9c4e6"/>
<circle cx="2308.0" cy="534.1" r="0.6" fill="#a9c4e6"/>
<circle cx="2299.3" cy="529.0" r="0.6" fill="#a9c4e6"/>
<circle cx="2312.8" cy="519.7" r="0.6" fill="#a9c4e6"/>
<circle cx="2310.9" cy="535.8" r="0.6" fill="#a9c4e6"/>
<circle cx="2312.1" cy="521.0" r="0.6" fill="#a9c4e6"/>
<circle cx="2310.7" cy="523.4" r="0.6" fill="#a9c4e6"/>
<circle cx="2313.7" cy="534.7" r="0.6" fill="#a9c4e6"/>
<circle cx="2309.5" cy="524.0" r="0.6" fill="#a9c4e6"/>
<circle cx="2300.4" cy="536.4" r="0.6" fill="#a9c4e6"/>
<circle cx="2296.9" cy="533.7" r="0.6" fill="#a9c4e6"/>
<circle cx="2313.2" cy="527.7" r="0.6" fill="#a9c4e6"/>
<circle cx="2324.5" cy="530.3" r="0.6" fill="#a9c4e6"/>
<circle cx="2320.0" cy="521.8" r="0.6" fill="#a9c4e6"/>
<circle cx="2290.9" cy="534.7" r="0.6" fill="#a9c4e6"/>
<circle cx="2314.6" cy="527.5" r="0.6" fill="#a9c4e6"/>
<circle cx="2306.5" cy="519.0" r="0.6" fill="#a9c4e6"/>
<circle cx="2300.3" cy="522.6" r="0.6" fill="#a9c4e6"/>
<circle cx="2304.4" cy="536.8" r="0.6" fill="#a9c4e6"/>
<circle cx="2307.7" cy="533.1" r="0.6" fill="#a9c4e6"/>
<circle cx="2298.8" cy="526.6" r="0.6" fill="#a9c4e6"/>
<circle cx="2308.4" cy="527.6" r="0.6" fill="#a9c4e6"/>
<circle cx="2319.3" cy="524.3" r="0.6" fill="#a9c4e6"/>
<circle cx="2322.1" cy="524.8" r="0.6" fill="#a9c4e6"/>
<circle cx="2318.0" cy="524.6" r="0.6" fill="#a9c4e6"/>
<circle cx="2333.5" cy="515.6" r="0.6" fill="#3d80c0"/>
<circle cx="2314.3" cy="518.9" r="0.6" fill="#3d80c0"/>
<circle cx="2293.9" cy="510.1" r="0.6" fill="#3d80c0"/>
<circle cx="2279.4" cy="519.0" r="0.6" fill="#3d80c0"/>
<circle cx="2291.8" cy="512.0" r="0.6" fill="#3d80c0"/>
<circle cx="2305.5" cy="522.4" r="0.6" fill="#3d80c0"/>
<circle cx="2278.0" cy="516.0" r="0.6" fill="#3d80c0"/>
<circle cx="2297.5" cy="517.9" r="0.6" fill="#3d80c0"/>
<circle cx="2277.8" cy="513.4" r="0.6" fill="#3d80c0"/>
<circle cx="2319.5" cy="521.3" r="0.6" fill="#3d80c0"/>
<circle cx="2331.3" cy="511.6" r="0.6" fill="#3d80c0"/>
<circle cx="2307.2" cy="514.4" r="0.6" fill="#3d80c0"/>
<circle cx="2285.5" cy="509.6" r="0.6" fill="#3d80c0"/>
<circle cx="2321.9" cy="516.3" r="0.6" fill="#3d80c0"/>
<circle cx="2303.3" cy="520.8" r="0.6" fill="#3d80c0"/>
<circle cx="2286.5" cy="517.6" r="0.6" fill="#3d80c0"/>
<circle cx="2306.2" cy="514.7" r="0.6" fill="#3d80c0"/>
<circle cx="2316.7" cy="516.0" r="0.6" fill="#3d80c0"/>
<circle cx="2311.9" cy="516.5" r="0.6" fill="#3d80c0"/>
<circle cx="2335.2" cy="513.8" r="0.6" fill="#3d80c0"/>
<circle cx="2325.4" cy="517.9" r="0.6" fill="#3d80c0"/>
<circle cx="2298.8" cy="519.1" r="0.6" fill="#3d80c0"/>
<circle cx="2290.7" cy="520.2" r="0.6" fill="#3d80c0"/>
<circle cx="2289.6" cy="512.5" r="0.6" fill="#3d80c0"/>
<circle cx="2312.6" cy="519.3" r="0.6" fill="#3d80c0"/>
<circle cx="2323.0" cy="519.2" r="0.6" fill="#3d80c0"/>
<circle cx="2301.8" cy="510.2" r="0.6" fill="#3d80c0"/>
<circle cx="2317.9" cy="516.6" r="0.6" fill="#3d80c0"/>
<circle cx="2288.6" cy="519.4" r="0.6" fill="#3d80c0"/>
<circle cx="2310.0" cy="510.2" r="0.6" fill="#3d80c0"/>
<circle cx="2314.0" cy="509.0" r="0.6" fill="#3d80c0"/>
<circle cx="2288.2" cy="517.0" r="0.6" fill="#3d80c0"/>
<circle cx="2279.2" cy="515.2" r="0.6" fill="#3d80c0"/>
<circle cx="2282.6" cy="518.2" r="0.6" fill="#3d80c0"/>
<circle cx="2290.6" cy="516.0" r="0.6" fill="#3d80c0"/>
<circle cx="2280.0" cy="513.5" r="0.6" fill="#3d80c0"/>
<circle cx="2324.8" cy="517.3" r="0.6" fill="#3d80c0"/>
<circle cx="2279.2" cy="518.4" r="0.6" fill="#3d80c0"/>
<circle cx="2324.0" cy="513.1" r="0.6" fill="#3d80c0"/>
<circle cx="2328.8" cy="510.7" r="0.6" fill="#3d80c0"/>
<circle cx="2304.3" cy="520.4" r="0.6" fill="#3d80c0"/>
<circle cx="2326.6" cy="520.0" r="0.6" fill="#3d80c0"/>
<circle cx="2290.2" cy="508.6" r="0.6" fill="#3d80c0"/>
<circle cx="2312.9" cy="508.7" r="0.6" fill="#3d80c0"/>
<circle cx="2303.5" cy="509.0" r="0.6" fill="#3d80c0"/>
<circle cx="2325.6" cy="518.7" r="0.6" fill="#3d80c0"/>
<circle cx="2318.1" cy="515.1" r="0.6" fill="#3d80c0"/>
<circle cx="2307.0" cy="513.3" r="0.6" fill="#3d80c0"/>
<circle cx="2314.5" cy="516.4" r="0.6" fill="#3d80c0"/>
<circle cx="2315.9" cy="512.7" r="0.6" fill="#3d80c0"/>
<circle cx="2322.7" cy="518.8" r="0.6" fill="#3fa34d"/>
<circle cx="2316.6" cy="521.8" r="0.6" fill="#3fa34d"/>
<circle cx="2289.4" cy="513.1" r="0.6" fill="#3fa34d"/>
<circle cx="2318.2" cy="516.7" r="0.6" fill="#3fa34d"/>
<circle cx="2301.4" cy="516.9" r="0.6" fill="#3fa34d"/>
<circle cx="2302.0" cy="513.7" r="0.6" fill="#3fa34d"/>
<circle cx="2298.2" cy="516.1" r="0.6" fill="#3fa34d"/>
<circle cx="2299.8" cy="512.2" r="0.6" fill="#3fa34d"/>
<circle cx="2313.2" cy="519.3" r="0.6" fill="#3fa34d"/>
<circle cx="2279.1" cy="515.9" r="0.6" fill="#3fa34d"/>
<circle cx="2300.5" cy="520.5" r="0.6" fill="#3fa34d"/>
<circle cx="2300.0" cy="522.7" r="0.6" fill="#3fa34d"/>
<circle cx="2300.3" cy="514.2" r="0.6" fill="#3fa34d"/>
<circle cx="2289.4" cy="520.8" r="0.6" fill="#3fa34d"/>
<circle cx="2290.5" cy="521.1" r="0.6" fill="#3fa34d"/>
<circle cx="2315.3" cy="520.1" r="0.6" fill="#3fa34d"/>
<circle cx="2315.8" cy="517.3" r="0.6" fill="#3fa34d"/>
<circle cx="2299.8" cy="515.6" r="0.6" fill="#3fa34d"/>
<circle cx="2292.1" cy="513.1" r="0.6" fill="#3fa34d"/>
<circle cx="2291.7" cy="514.2" r="0.6" fill="#3fa34d"/>
<circle cx="2280.1" cy="518.5" r="0.6" fill="#3fa34d"/>
<circle cx="2307.7" cy="516.6" r="0.6" fill="#3fa34d"/>
<circle cx="2317.8" cy="520.9" r="0.6" fill="#3fa34d"/>
<circle cx="2315.6" cy="515.8" r="0.6" fill="#3fa34d"/>
<circle cx="2280.1" cy="519.8" r="0.6" fill="#3fa34d"/>
<circle cx="2305.1" cy="520.9" r="0.6" fill="#3fa34d"/>
<circle cx="2306.0" cy="522.4" r="0.6" fill="#3fa34d"/>
<circle cx="2295.2" cy="520.7" r="0.6" fill="#3fa34d"/>
<circle cx="2291.2" cy="512.5" r="0.6" fill="#3fa34d"/>
<circle cx="2294.0" cy="522.8" r="0.6" fill="#3fa34d"/>
<circle cx="2280.3" cy="520.9" r="0.6" fill="#3fa34d"/>
<circle cx="2288.9" cy="516.4" r="0.6" fill="#3fa34d"/>
<circle cx="2300.8" cy="518.9" r="0.6" fill="#3fa34d"/>
<circle cx="2284.7" cy="518.5" r="0.6" fill="#3fa34d"/>
<circle cx="2307.0" cy="521.2" r="0.6" fill="#3fa34d"/>
<circle cx="2334.2" cy="529.7" r="0.6" fill="#f08a3a"/>
<circle cx="2362.3" cy="529.7" r="0.6" fill="#f08a3a"/>
<circle cx="2323.5" cy="525.6" r="0.6" fill="#f08a3a"/>
<circle cx="2319.9" cy="526.1" r="0.6" fill="#f08a3a"/>
<circle cx="2354.1" cy="521.0" r="0.6" fill="#f08a3a"/>
<circle cx="2321.4" cy="525.6" r="0.6" fill="#f08a3a"/>
<circle cx="2356.0" cy="522.0" r="0.6" fill="#f08a3a"/>
<circle cx="2342.2" cy="519.2" r="0.6" fill="#f08a3a"/>
<circle cx="2331.9" cy="525.6" r="0.6" fill="#f08a3a"/>
<circle cx="2347.3" cy="530.1" r="0.6" fill="#f08a3a"/>
<circle cx="2332.6" cy="519.8" r="0.6" fill="#f08a3a"/>
<circle cx="2353.4" cy="522.7" r="0.6" fill="#f08a3a"/>
<circle cx="2350.3" cy="527.8" r="0.6" fill="#f08a3a"/>
<circle cx="2354.0" cy="529.6" r="0.6" fill="#f08a3a"/>
<circle cx="2361.7" cy="520.6" r="0.6" fill="#f08a3a"/>
<circle cx="2344.2" cy="530.6" r="0.6" fill="#f08a3a"/>
<circle cx="2337.9" cy="528.6" r="0.6" fill="#f08a3a"/>
<circle cx="2343.9" cy="523.3" r="0.6" fill="#f08a3a"/>
<circle cx="2366.4" cy="528.0" r="0.6" fill="#f08a3a"/>
<circle cx="2340.7" cy="528.5" r="0.6" fill="#f08a3a"/>
<circle cx="2324.9" cy="522.6" r="0.6" fill="#f08a3a"/>
<circle cx="2361.2" cy="525.2" r="0.6" fill="#f08a3a"/>
<circle cx="2327.0" cy="526.6" r="0.6" fill="#f08a3a"/>
<circle cx="2350.3" cy="529.4" r="0.6" fill="#f08a3a"/>
<circle cx="2361.8" cy="524.0" r="0.6" fill="#f08a3a"/>
<circle cx="2335.7" cy="524.4" r="0.6" fill="#f08a3a"/>
<circle cx="2341.5" cy="529.8" r="0.6" fill="#f08a3a"/>
<circle cx="2365.1" cy="528.7" r="0.6" fill="#f08a3a"/>
<circle cx="2352.3" cy="524.0" r="0.6" fill="#f08a3a"/>
<circle cx="2361.0" cy="523.7" r="0.6" fill="#f08a3a"/>
<circle cx="2348.4" cy="519.8" r="0.6" fill="#f08a3a"/>
<circle cx="2338.5" cy="529.7" r="0.6" fill="#f08a3a"/>
<circle cx="2330.7" cy="520.6" r="0.6" fill="#f08a3a"/>
<circle cx="2342.6" cy="530.2" r="0.6" fill="#f08a3a"/>
<circle cx="2367.3" cy="523.8" r="0.6" fill="#f08a3a"/>
<circle cx="2335.8" cy="524.5" r="0.6" fill="#f08a3a"/>
<circle cx="2328.4" cy="525.1" r="0.6" fill="#f08a3a"/>
<circle cx="2340.4" cy="520.2" r="0.6" fill="#f08a3a"/>
<circle cx="2334.1" cy="524.0" r="0.6" fill="#f08a3a"/>
<circle cx="2331.4" cy="521.2" r="0.6" fill="#f08a3a"/>
<circle cx="2356.4" cy="530.1" r="0.6" fill="#f08a3a"/>
<circle cx="2339.5" cy="523.3" r="0.6" fill="#f08a3a"/>
<circle cx="2354.6" cy="524.1" r="0.6" fill="#f08a3a"/>
<circle cx="2333.4" cy="529.4" r="0.6" fill="#f08a3a"/>
<circle cx="2327.9" cy="522.4" r="0.6" fill="#f08a3a"/>
<rect x="2170" y="485.5" width="3" height="1.2" fill="#444" opacity="0.7"/>
<rect x="2170" y="504.5" width="3" height="1.2" fill="#444" opacity="0.7"/>
<rect x="2170" y="522.5" width="3" height="1.2" fill="#444" opacity="0.7"/>
<rect x="2170" y="541.5" width="3" height="1.2" fill="#444" opacity="0.7"/>
<rect x="2170" y="559.5" width="3" height="1.2" fill="#444" opacity="0.7"/>
<rect x="2197" y="574.5" width="3" height="1.2" fill="#444" opacity="0.7"/>
<rect x="2245" y="574.5" width="3" height="1.2" fill="#444" opacity="0.7"/>
<rect x="2291" y="574.5" width="3" height="1.2" fill="#444" opacity="0.7"/>
<rect x="2338" y="574.5" width="3" height="1.2" fill="#444" opacity="0.7"/>
<rect x="2384" y="574.5" width="3" height="1.2" fill="#444" opacity="0.7"/>
<rect x="2279" y="582" width="18" height="1" fill="#444" opacity="0.6"/>
<g fill="none" stroke="#aaa" stroke-width="0.8"><path d="M2004,636.2 L2115.8,636.2 L2115.8,669.3 M2076,669.3 L2155,669.3"/></g>
<path d="M2059.2,690.1 L2059.2,706.9 M2059.2,690.1 L2092.7,690.1 M2092.7,690.1 L2092.7,693.2 M2082,693.2 L2103,693.2 M2050.2,706.9 L2050.2,712.7 M2052,715.4 L2058,715.4 M2088.3,707.4 L2097.1,707.4 M2108.3,703.9 L2108.3,713.4 M2105.4,713.4 L2111.7,713.4 M2105.4,713.4 L2105.4,723 M2111.7,713.4 L2111.7,723 M2120.5,703.9 L2120.5,712.7 M2117.4,713.2 L2117.4,723 M2114.5,702.2 L2114.5,703.6 M2170.9,709.3 L2179.7,709.3 M1995.6,703.5 L1995.6,710.8 M1981.2,714.4 L1986.6,714.4 M1986.6,714.4 L1986.6,723 M1992.5,711.3 L1992.5,723 M1998.5,711.3 L1998.5,723 M2010,714.4 L2016,714.4" fill="none" stroke="#111" stroke-width="1"/>
<path d="M1979.3,703.5 L1995.9,703.5 M2004.4,710.3 L2004.4,723 M2096.6,707.4 L2096.6,712.3 M2093.7,712.3 L2099.5,712.3 M2093.7,712.3 L2093.7,723 M2099.5,712.3 L2099.5,723 M2123.5,713.2 L2123.5,723 M2128.8,715.4 L2135.2,715.4 M2146.4,704 L2146.4,707" fill="none" stroke="#888" stroke-width="0.9"/>
<path d="M1987.6,689.3 L1987.6,703.5 M2139.6,681 L2139.6,703.5 M2010.6,714.4 L2010.6,723 M2152.8,715.4 L2159.1,715.4 M2175.3,704 L2175.3,709.3 M2151.3,707.4 L2151.3,712.3" fill="none" stroke="#ccc" stroke-width="0.8"/>
<line x1="1974.9" y1="725" x2="1974.9" y2="737.7" stroke="#aec7e8" stroke-width="1.3" stroke-dasharray="1.2,1.3" opacity="0.85"/>
<line x1="1980.8" y1="725" x2="1980.8" y2="737.7" stroke="#8fb0e0" stroke-width="1.3" stroke-dasharray="1.2,1.3" opacity="0.85"/>
<line x1="1986.7" y1="725" x2="1986.7" y2="737.7" stroke="#f08080" stroke-width="1.3" stroke-dasharray="1.2,1.3" opacity="0.85"/>
<line x1="1992.6" y1="725" x2="1992.6" y2="748.4" stroke="#2ca02c" stroke-width="1.3" stroke-dasharray="1.2,1.3" opacity="0.85"/>
<line x1="1998.5" y1="725" x2="1998.5" y2="748.4" stroke="#2ca02c" stroke-width="1.3" stroke-dasharray="1.2,1.3" opacity="0.85"/>
<line x1="2004.4" y1="725" x2="2004.4" y2="737.7" stroke="#1f77b4" stroke-width="1.3" stroke-dasharray="1.2,1.3" opacity="0.85"/>
<line x1="2010.3" y1="725" x2="2010.3" y2="737.7" stroke="#aec7e8" stroke-width="1.3" stroke-dasharray="1.2,1.3" opacity="0.85"/>
<line x1="2016.2" y1="725" x2="2016.2" y2="737.7" stroke="#ffb0b0" stroke-width="1.3" stroke-dasharray="1.2,1.3" opacity="0.85"/>
<line x1="2022.1" y1="725" x2="2022.1" y2="737.7" stroke="#aec7e8" stroke-width="1.3" stroke-dasharray="1.2,1.3" opacity="0.85"/>
<line x1="2028.0" y1="725" x2="2028.0" y2="737.7" stroke="#ff7f0e" stroke-width="1.3" stroke-dasharray="1.2,1.3" opacity="0.85"/>
<line x1="2033.9" y1="725" x2="2033.9" y2="748.4" stroke="#ffbb78" stroke-width="1.3" stroke-dasharray="1.2,1.3" opacity="0.85"/>
<line x1="2039.8" y1="725" x2="2039.8" y2="737.7" stroke="#ffb0b0" stroke-width="1.3" stroke-dasharray="1.2,1.3" opacity="0.85"/>
<line x1="2045.7" y1="725" x2="2045.7" y2="748.4" stroke="#2ca02c" stroke-width="1.3" stroke-dasharray="1.2,1.3" opacity="0.85"/>
<line x1="2051.6" y1="725" x2="2051.6" y2="748.4" stroke="#2ca02c" stroke-width="1.3" stroke-dasharray="1.2,1.3" opacity="0.85"/>
<line x1="2057.5" y1="725" x2="2057.5" y2="748.4" stroke="#ffbb78" stroke-width="1.3" stroke-dasharray="1.2,1.3" opacity="0.85"/>
<line x1="2063.4" y1="725" x2="2063.4" y2="737.7" stroke="#d62728" stroke-width="1.3" stroke-dasharray="1.2,1.3" opacity="0.85"/>
<line x1="2069.3" y1="725" x2="2069.3" y2="737.7" stroke="#1f77b4" stroke-width="1.3" stroke-dasharray="1.2,1.3" opacity="0.85"/>
<line x1="2075.2" y1="725" x2="2075.2" y2="737.7" stroke="#ffb0b0" stroke-width="1.3" stroke-dasharray="1.2,1.3" opacity="0.85"/>
<line x1="2081.1" y1="725" x2="2081.1" y2="737.7" stroke="#9467bd" stroke-width="1.3" stroke-dasharray="1.2,1.3" opacity="0.85"/>
<line x1="2087.0" y1="725" x2="2087.0" y2="737.7" stroke="#ff7f0e" stroke-width="1.3" stroke-dasharray="1.2,1.3" opacity="0.85"/>
<line x1="2092.9" y1="725" x2="2092.9" y2="737.7" stroke="#1f77b4" stroke-width="1.3" stroke-dasharray="1.2,1.3" opacity="0.85"/>
<line x1="2098.8" y1="725" x2="2098.8" y2="748.4" stroke="#ffbb78" stroke-width="1.3" stroke-dasharray="1.2,1.3" opacity="0.85"/>
<line x1="2104.7" y1="725" x2="2104.7" y2="748.4" stroke="#ffbb78" stroke-width="1.3" stroke-dasharray="1.2,1.3" opacity="0.85"/>
<line x1="2110.6" y1="725" x2="2110.6" y2="737.7" stroke="#d62728" stroke-width="1.3" stroke-dasharray="1.2,1.3" opacity="0.85"/>
<line x1="2116.5" y1="725" x2="2116.5" y2="737.7" stroke="#d62728" stroke-width="1.3" stroke-dasharray="1.2,1.3" opacity="0.85"/>
<line x1="2122.4" y1="725" x2="2122.4" y2="737.7" stroke="#d62728" stroke-width="1.3" stroke-dasharray="1.2,1.3" opacity="0.85"/>
<line x1="2128.3" y1="725" x2="2128.3" y2="748.4" stroke="#98df8a" stroke-width="1.3" stroke-dasharray="1.2,1.3" opacity="0.85"/>
<line x1="2134.2" y1="725" x2="2134.2" y2="737.7" stroke="#ff7f0e" stroke-width="1.3" stroke-dasharray="1.2,1.3" opacity="0.85"/>
<line x1="2140.1" y1="725" x2="2140.1" y2="737.7" stroke="#ff7f0e" stroke-width="1.3" stroke-dasharray="1.2,1.3" opacity="0.85"/>
<line x1="2146.0" y1="725" x2="2146.0" y2="748.4" stroke="#98df8a" stroke-width="1.3" stroke-dasharray="1.2,1.3" opacity="0.85"/>
<line x1="2151.9" y1="725" x2="2151.9" y2="748.4" stroke="#98df8a" stroke-width="1.3" stroke-dasharray="1.2,1.3" opacity="0.85"/>
<line x1="2157.8" y1="725" x2="2157.8" y2="737.7" stroke="#9467bd" stroke-width="1.3" stroke-dasharray="1.2,1.3" opacity="0.85"/>
<line x1="2163.7" y1="725" x2="2163.7" y2="737.7" stroke="#9467bd" stroke-width="1.3" stroke-dasharray="1.2,1.3" opacity="0.85"/>
<line x1="2169.6" y1="725" x2="2169.6" y2="737.7" stroke="#9467bd" stroke-width="1.3" stroke-dasharray="1.2,1.3" opacity="0.85"/>
<line x1="2175.5" y1="725" x2="2175.5" y2="748.4" stroke="#98df8a" stroke-width="1.3" stroke-dasharray="1.2,1.3" opacity="0.85"/>
<line x1="2181.4" y1="725" x2="2181.4" y2="737.7" stroke="#1f77b4" stroke-width="1.3" stroke-dasharray="1.2,1.3" opacity="0.85"/>
<line x1="2059" y1="739.6" x2="2097" y2="739.6" stroke="#111" stroke-width="1.3" stroke-dasharray="1.5,0.7" opacity="0.8"/>
<rect x="1956" y="639" width="2" height="1.5" fill="#333" opacity="0.6"/>
<rect x="1956" y="660" width="2" height="1.5" fill="#333" opacity="0.6"/>
<rect x="1956" y="681" width="2" height="1.5" fill="#333" opacity="0.6"/>
<rect x="1956" y="702" width="2" height="1.5" fill="#333" opacity="0.6"/>
<rect x="1956" y="723" width="2" height="1.5" fill="#333" opacity="0.6"/>
<line x1="2060" y1="626" x2="2097" y2="626" stroke="#111" stroke-width="1.3" stroke-dasharray="1,0.7" opacity="0.7"/>
<rect x="2224" y="647" width="174" height="1" fill="#333"/>
<rect x="2224.2" y="660" width="0.9" height="89" fill="#222"/>
<rect x="2226" y="668" width="172" height="0.8" fill="#555"/>
<rect x="2226" y="674" width="172" height="0.8" fill="#555"/>
<rect x="2226" y="677" width="172" height="0.8" fill="#555"/>
<rect x="2226" y="679" width="172" height="0.8" fill="#555"/>
<rect x="2226" y="681" width="172" height="0.8" fill="#555"/>
<rect x="2226" y="683" width="172" height="0.8" fill="#555"/>
<path d="M2231.0,745.0 L2231.1,743.7 L2231.4,739.9 L2231.8,734.0 L2232.4,726.5 L2233.2,718.0 L2234.2,709.2 L2235.3,700.5 L2236.6,692.5 L2238.1,685.5 L2239.8,679.6 L2241.7,674.9 L2243.7,671.2 L2245.9,668.5 L2248.3,666.6 L2250.8,665.2 L2253.6,664.4 L2256.5,663.8 L2259.5,663.4 L2262.8,663.2 L2266.2,663.1 L2269.9,663.0 L2273.6,663.0 L2277.6,663.0 L2281.8,663.0 L2286.1,663.0 L2290.6,663.0 L2295.2,663.0 L2300.1,663.0 L2305.1,663.0 M2231.0,745.0 L2231.1,743.8 L2231.5,740.2 L2232.0,734.7 L2232.8,727.7 L2233.9,719.9 L2235.1,711.9 L2236.6,704.2 L2238.3,697.2 L2240.3,691.2 L2242.4,686.3 L2244.8,682.5 L2247.4,679.6 L2250.3,677.5 L2253.4,676.1 L2256.7,675.1 L2260.2,674.5 L2264.0,674.2 L2268.0,674.0 L2272.2,673.8 L2276.7,673.8 L2281.4,673.7 L2286.3,673.7 L2291.4,673.7 L2296.8,673.7 L2302.4,673.7 L2308.2,673.7 L2314.3,673.7 L2320.5,673.7 L2327.1,673.7 M2231.0,745.0 L2231.1,741.8 L2231.5,732.8 L2232.0,720.0 L2232.9,705.6 L2233.9,691.8 L2235.2,680.3 L2236.7,671.5 L2238.4,665.5 L2240.4,661.8 L2242.6,659.6 L2245.0,658.5 L2247.7,658.0 L2250.6,657.7 L2253.7,657.6 L2257.0,657.6 L2260.6,657.6 L2264.5,657.6 L2268.5,657.6 L2272.8,657.6 L2277.3,657.6 L2282.0,657.6 L2287.0,657.6 L2292.2,657.6 L2297.7,657.6 L2303.3,657.6 L2309.2,657.6 L2315.4,657.6 L2321.7,657.6 L2328.3,657.6 M2231.0,745.0 L2231.1,744.0 L2231.4,741.2 L2231.9,736.7 L2232.6,730.9 L2233.5,724.0 L2234.7,716.5 L2236.0,708.8 L2237.5,701.3 L2239.2,694.2 L2241.1,687.7 L2243.3,682.1 L2245.6,677.2 L2248.2,673.3 L2250.9,670.1 L2253.8,667.6 L2257.0,665.8 L2260.3,664.4 L2263.9,663.4 L2267.6,662.7 L2271.6,662.3 L2275.8,662.0 L2280.1,661.8 L2284.7,661.6 L2289.5,661.6 L2294.4,661.5 L2299.6,661.5 L2305.0,661.5 L2310.6,661.5 L2316.4,661.5 M2231.0,745.0 L2231.0,744.5 L2231.2,743.2 L2231.4,741.0 L2231.8,738.0 L2232.2,734.5 L2232.7,730.5 L2233.3,726.2 L2234.0,721.8 L2234.8,717.3 L2235.7,713.0 L2236.7,709.0 L2237.8,705.2 L2239.0,701.9 L2240.2,698.9 L2241.6,696.4 L2243.0,694.3 L2244.6,692.5 L2246.3,691.1 L2248.0,689.9 L2249.8,689.1 L2251.8,688.4 L2253.8,687.9 L2255.9,687.5 L2258.1,687.2 L2260.4,687.0 L2262.8,686.9 L2265.3,686.8 L2267.9,686.7 L2270.6,686.7 M2231.0,745.0 L2231.1,744.1 L2231.3,741.6 L2231.7,737.6 L2232.3,732.6 L2233.0,726.8 L2234.0,720.6 L2235.0,714.6 L2236.2,708.9 L2237.6,703.9 L2239.2,699.5 L2240.9,696.0 L2242.8,693.1 L2244.8,691.0 L2247.1,689.4 L2249.4,688.3 L2252.0,687.5 L2254.7,687.0 L2257.6,686.7 L2260.6,686.5 L2263.8,686.4 L2267.1,686.3 L2270.7,686.3 L2274.4,686.2 L2278.2,686.2 L2282.2,686.2 L2286.4,686.2 L2290.7,686.2 L2295.2,686.2 L2299.9,686.2 M2231.0,745.0 L2231.1,743.7 L2231.4,739.9 L2231.9,734.0 L2232.6,726.5 L2233.6,718.2 L2234.7,709.7 L2236.0,701.6 L2237.5,694.3 L2239.3,688.0 L2241.2,683.0 L2243.4,679.0 L2245.7,676.1 L2248.3,674.0 L2251.0,672.6 L2254.0,671.7 L2257.2,671.1 L2260.6,670.8 L2264.1,670.6 L2267.9,670.5 L2271.9,670.4 L2276.1,670.4 L2280.5,670.4 L2285.1,670.4 L2289.9,670.4 L2294.9,670.4 L2300.1,670.4 L2305.6,670.4 L2311.2,670.4 L2317.0,670.4 M2231.0,745.0 L2231.1,743.9 L2231.5,740.7 L2232.1,735.6 L2232.9,729.0 L2234.0,721.4 L2235.3,713.2 L2236.8,705.0 L2238.6,697.1 L2240.6,689.8 L2242.9,683.5 L2245.3,678.0 L2248.1,673.6 L2251.0,670.1 L2254.2,667.4 L2257.7,665.4 L2261.3,663.9 L2265.3,662.9 L2269.4,662.2 L2273.8,661.8 L2278.4,661.5 L2283.3,661.3 L2288.4,661.2 L2293.7,661.1 L2299.3,661.1 L2305.1,661.1 L2311.1,661.1 L2317.4,661.1 L2323.9,661.1 L2330.7,661.1 M2231.0,745.0 L2231.0,744.3 L2231.2,742.3 L2231.4,739.0 L2231.8,734.7 L2232.2,729.7 L2232.7,724.1 L2233.4,718.4 L2234.1,712.7 L2234.9,707.3 L2235.8,702.4 L2236.8,698.0 L2237.9,694.2 L2239.1,691.0 L2240.4,688.5 L2241.8,686.4 L2243.3,684.9 L2244.9,683.7 L2246.6,682.9 L2248.3,682.2 L2250.2,681.8 L2252.2,681.5 L2254.3,681.3 L2256.4,681.2 L2258.7,681.1 L2261.0,681.1 L2263.5,681.1 L2266.0,681.1 L2268.7,681.0 L2271.4,681.0 M2231.0,745.0 L2231.1,743.0 L2231.5,737.2 L2232.2,728.4 L2233.1,717.9 L2234.2,707.0 L2235.7,696.6 L2237.3,687.6 L2239.3,680.3 L2241.5,674.9 L2243.9,671.0 L2246.6,668.5 L2249.6,666.9 L2252.9,666.0 L2256.3,665.5 L2260.1,665.2 L2264.1,665.1 L2268.4,665.0 L2272.9,665.0 L2277.7,665.0 L2282.7,665.0 L2288.0,665.0 L2293.6,665.0 L2299.4,665.0 L2305.5,665.0 L2311.8,665.0 L2318.4,665.0 L2325.3,665.0 L2332.4,665.0 L2339.8,665.0 M2231.0,745.0 L2231.1,744.4 L2231.3,742.5 L2231.8,739.5 L2232.4,735.6 L2233.1,730.9 L2234.0,725.7 L2235.1,720.3 L2236.4,714.9 L2237.9,709.6 L2239.5,704.8 L2241.2,700.3 L2243.2,696.5 L2245.3,693.1 L2247.6,690.4 L2250.0,688.1 L2252.7,686.4 L2255.5,685.0 L2258.4,684.0 L2261.6,683.2 L2264.9,682.7 L2268.3,682.3 L2272.0,682.0 L2275.8,681.9 L2279.8,681.7 L2283.9,681.7 L2288.2,681.6 L2292.7,681.6 L2297.4,681.6 L2302.2,681.6 M2231.0,745.0 L2231.1,744.0 L2231.5,741.0 L2232.0,736.4 L2232.8,730.6 L2233.8,724.1 L2235.1,717.4 L2236.5,711.0 L2238.2,705.1 L2240.1,700.1 L2242.3,695.9 L2244.7,692.6 L2247.3,690.2 L2250.1,688.4 L2253.1,687.2 L2256.4,686.4 L2259.9,685.8 L2263.6,685.5 L2267.6,685.3 L2271.8,685.2 L2276.2,685.2 L2280.8,685.1 L2285.6,685.1 L2290.7,685.1 L2296.0,685.1 L2301.6,685.1 L2307.3,685.1 L2313.3,685.1 L2319.5,685.1 L2325.9,685.1 M2231.0,745.0 L2231.1,744.2 L2231.4,741.7 L2232.0,737.8 L2232.8,732.8 L2233.8,726.9 L2235.0,720.6 L2236.4,714.2 L2238.1,708.0 L2240.0,702.2 L2242.1,697.1 L2244.4,692.7 L2247.0,689.1 L2249.8,686.2 L2252.8,683.9 L2256.0,682.2 L2259.4,681.0 L2263.1,680.1 L2267.0,679.5 L2271.1,679.0 L2275.4,678.8 L2280.0,678.6 L2284.7,678.5 L2289.7,678.4 L2294.9,678.4 L2300.4,678.4 L2306.1,678.4 L2311.9,678.4 L2318.0,678.4 L2324.4,678.4 M2231.0,745.0 L2231.0,743.7 L2231.2,740.0 L2231.4,734.1 L2231.8,726.5 L2232.2,717.9 L2232.7,708.9 L2233.3,699.9 L2234.0,691.5 L2234.8,684.0 L2235.7,677.6 L2236.7,672.3 L2237.8,668.2 L2239.0,665.0 L2240.2,662.7 L2241.6,661.1 L2243.1,659.9 L2244.6,659.2 L2246.3,658.7 L2248.0,658.4 L2249.8,658.3 L2251.8,658.1 L2253.8,658.1 L2255.9,658.1 L2258.1,658.0 L2260.4,658.0 L2262.8,658.0 L2265.3,658.0 L2267.9,658.0 L2270.6,658.0 M2231.0,745.0 L2231.1,744.2 L2231.2,741.9 L2231.5,738.2 L2231.9,733.4 L2232.5,727.7 L2233.1,721.4 L2233.9,714.9 L2234.8,708.5 L2235.8,702.4 L2236.9,696.8 L2238.1,691.8 L2239.5,687.5 L2241.0,683.9 L2242.6,681.0 L2244.3,678.7 L2246.1,676.9 L2248.1,675.5 L2250.1,674.6 L2252.3,673.9 L2254.6,673.4 L2257.1,673.0 L2259.6,672.8 L2262.3,672.7 L2265.0,672.6 L2267.9,672.5 L2270.9,672.5 L2274.1,672.5 L2277.3,672.5 L2280.7,672.5 M2231.0,745.0 L2231.1,743.2 L2231.3,738.0 L2231.7,730.2 L2232.3,720.7 L2233.0,710.7 L2233.9,701.1 L2234.9,692.6 L2236.1,685.7 L2237.5,680.5 L2239.0,676.6 L2240.7,674.1 L2242.5,672.4 L2244.5,671.4 L2246.7,670.9 L2249.0,670.6 L2251.5,670.4 L2254.2,670.3 L2257.0,670.3 L2259.9,670.3 L2263.1,670.3 L2266.3,670.3 L2269.8,670.3 L2273.4,670.3 L2277.2,670.3 L2281.1,670.3 L2285.2,670.3 L2289.4,670.3 L2293.8,670.3 L2298.4,670.3 M2231.0,745.0 L2231.1,744.3 L2231.3,742.1 L2231.6,738.5 L2232.1,733.8 L2232.7,728.2 L2233.5,722.0 L2234.4,715.3 L2235.4,708.6 L2236.6,701.9 L2237.9,695.6 L2239.4,689.8 L2241.0,684.5 L2242.7,680.0 L2244.6,676.0 L2246.6,672.8 L2248.8,670.1 L2251.1,667.9 L2253.5,666.3 L2256.1,665.0 L2258.8,664.0 L2261.6,663.3 L2264.6,662.8 L2267.7,662.5 L2271.0,662.2 L2274.4,662.1 L2278.0,661.9 L2281.6,661.9 L2285.5,661.8 L2289.4,661.8 M2231.0,745.0 L2231.1,744.2 L2231.4,741.7 L2231.9,737.8 L2232.6,732.7 L2233.5,726.7 L2234.6,720.3 L2235.9,713.8 L2237.4,707.5 L2239.1,701.6 L2241.0,696.4 L2243.1,691.9 L2245.5,688.1 L2248.0,685.1 L2250.7,682.7 L2253.6,680.9 L2256.7,679.6 L2260.0,678.6 L2263.5,678.0 L2267.2,677.5 L2271.2,677.2 L2275.3,677.0 L2279.6,676.9 L2284.1,676.8 L2288.8,676.8 L2293.7,676.8 L2298.9,676.8 L2304.2,676.8 L2309.7,676.8 L2315.4,676.8 M2231.0,745.0 L2231.1,743.5 L2231.3,739.0 L2231.6,732.0 L2232.0,723.1 L2232.6,713.1 L2233.3,702.8 L2234.2,692.9 L2235.2,683.8 L2236.3,675.9 L2237.5,669.4 L2238.9,664.3 L2240.4,660.4 L2242.0,657.5 L2243.8,655.5 L2245.7,654.2 L2247.7,653.3 L2249.9,652.8 L2252.1,652.5 L2254.6,652.3 L2257.1,652.2 L2259.8,652.1 L2262.6,652.1 L2265.5,652.1 L2268.6,652.1 L2271.8,652.1 L2275.1,652.1 L2278.6,652.1 L2282.2,652.1 L2285.9,652.1 M2231.0,745.0 L2231.0,743.9 L2231.2,740.7 L2231.4,735.8 L2231.8,729.6 L2232.2,722.5 L2232.8,715.2 L2233.4,708.2 L2234.2,701.8 L2235.0,696.2 L2236.0,691.6 L2237.0,688.0 L2238.2,685.2 L2239.4,683.2 L2240.8,681.8 L2242.2,680.8 L2243.8,680.2 L2245.4,679.8 L2247.2,679.6 L2249.0,679.5 L2250.9,679.4 L2253.0,679.3 L2255.1,679.3 L2257.4,679.3 L2259.7,679.3 L2262.2,679.3 L2264.7,679.3 L2267.4,679.3 L2270.1,679.3 L2272.9,679.3 M2231.0,745.0 L2231.1,743.8 L2231.3,740.2 L2231.7,734.6 L2232.3,727.5 L2233.1,719.6 L2234.0,711.4 L2235.1,703.5 L2236.3,696.3 L2237.7,690.1 L2239.3,684.9 L2241.1,680.9 L2243.0,677.8 L2245.0,675.6 L2247.3,674.0 L2249.7,673.0 L2252.3,672.3 L2255.0,671.9 L2257.9,671.7 L2261.0,671.5 L2264.2,671.5 L2267.7,671.4 L2271.2,671.4 L2275.0,671.4 L2278.9,671.4 L2282.9,671.4 L2287.2,671.4 L2291.6,671.4 L2296.2,671.4 L2300.9,671.4 M2231.0,745.0 L2231.1,744.5 L2231.2,742.9 L2231.5,740.4 L2231.9,737.1 L2232.5,733.0 L2233.1,728.4 L2233.9,723.4 L2234.7,718.1 L2235.7,712.8 L2236.8,707.7 L2238.1,702.7 L2239.4,698.0 L2240.9,693.8 L2242.4,689.9 L2244.1,686.6 L2245.9,683.7 L2247.9,681.2 L2249.9,679.2 L2252.1,677.5 L2254.3,676.2 L2256.7,675.1 L2259.2,674.3 L2261.9,673.7 L2264.6,673.2 L2267.5,672.9 L2270.4,672.6 L2273.5,672.5 L2276.8,672.3 L2280.1,672.2 M2231.0,745.0 L2231.1,744.2 L2231.2,741.9 L2231.5,738.3 L2231.9,733.7 L2232.5,728.4 L2233.1,722.8 L2233.9,717.2 L2234.8,712.0 L2235.8,707.2 L2236.9,703.1 L2238.1,699.7 L2239.5,696.9 L2241.0,694.8 L2242.6,693.2 L2244.3,692.1 L2246.1,691.3 L2248.0,690.8 L2250.1,690.4 L2252.3,690.2 L2254.6,690.1 L2257.0,690.0 L2259.6,690.0 L2262.2,689.9 L2265.0,689.9 L2267.9,689.9 L2270.9,689.9 L2274.0,689.9 L2277.3,689.9 L2280.6,689.9 M2231.0,745.0 L2231.1,744.4 L2231.5,742.5 L2232.1,739.6 L2233.0,735.9 L2234.1,731.6 L2235.4,727.0 L2237.0,722.5 L2238.8,718.2 L2240.9,714.3 L2243.2,710.9 L2245.8,708.0 L2248.6,705.8 L2251.7,704.0 L2255.0,702.7 L2258.5,701.7 L2262.3,701.1 L2266.4,700.6 L2270.7,700.3 L2275.2,700.1 L2280.0,700.0 L2285.0,699.9 L2290.2,699.9 L2295.7,699.9 L2301.5,699.9 L2307.5,699.9 L2313.7,699.9 L2320.2,699.9 L2327.0,699.9 L2333.9,699.9 M2231.0,745.0 L2231.1,742.2 L2231.5,734.6 L2232.2,724.0 L2233.1,712.8 L2234.2,703.0 L2235.7,695.4 L2237.4,690.3 L2239.3,687.3 L2241.5,685.6 L2244.0,684.8 L2246.7,684.5 L2249.7,684.4 L2252.9,684.3 L2256.4,684.3 L2260.2,684.3 L2264.2,684.3 L2268.5,684.3 L2273.0,684.3 L2277.8,684.3 L2282.9,684.3 L2288.2,684.3 L2293.8,684.3 L2299.6,684.3 L2305.7,684.3 L2312.1,684.3 L2318.7,684.3 L2325.6,684.3 L2332.7,684.3 L2340.1,684.3 M2231.0,745.0 L2231.1,744.2 L2231.4,741.9 L2231.9,738.2 L2232.5,733.5 L2233.4,727.9 L2234.5,721.9 L2235.7,715.8 L2237.2,709.8 L2238.8,704.3 L2240.6,699.3 L2242.6,695.0 L2244.9,691.4 L2247.3,688.5 L2249.9,686.2 L2252.7,684.4 L2255.6,683.1 L2258.8,682.2 L2262.2,681.5 L2265.7,681.1 L2269.5,680.8 L2273.4,680.6 L2277.6,680.5 L2281.9,680.4 L2286.4,680.4 L2291.1,680.3 L2296.1,680.3 L2301.2,680.3 L2306.4,680.3 L2311.9,680.3 M2231.0,745.0 L2231.1,743.4 L2231.3,738.8 L2231.6,731.7 L2232.0,722.9 L2232.6,713.4 L2233.3,704.0 L2234.1,695.4 L2235.0,688.0 L2236.1,682.0 L2237.3,677.5 L2238.6,674.2 L2240.0,671.9 L2241.6,670.4 L2243.3,669.5 L2245.1,668.9 L2247.0,668.6 L2249.1,668.4 L2251.3,668.4 L2253.6,668.3 L2256.0,668.3 L2258.6,668.3 L2261.3,668.3 L2264.1,668.3 L2267.0,668.3 L2270.1,668.3 L2273.3,668.3 L2276.6,668.3 L2280.0,668.3 L2283.6,668.3 M2231.0,745.0 L2231.1,743.5 L2231.5,739.3 L2232.1,733.1 L2233.0,725.7 L2234.1,718.2 L2235.5,711.4 L2237.2,705.6 L2239.0,701.2 L2241.2,698.1 L2243.6,696.0 L2246.2,694.7 L2249.1,694.0 L2252.2,693.6 L2255.6,693.3 L2259.3,693.2 L2263.2,693.2 L2267.3,693.2 L2271.7,693.2 L2276.3,693.2 L2281.2,693.2 L2286.4,693.2 L2291.8,693.2 L2297.4,693.2 L2303.4,693.2 L2309.5,693.2 L2315.9,693.2 L2322.6,693.2 L2329.5,693.2 L2336.6,693.2 M2231.0,745.0 L2231.0,744.4 L2231.2,742.8 L2231.4,740.1 L2231.8,736.5 L2232.2,732.2 L2232.7,727.5 L2233.3,722.4 L2234.0,717.2 L2234.8,712.0 L2235.7,707.1 L2236.7,702.6 L2237.8,698.5 L2239.0,694.8 L2240.2,691.7 L2241.6,689.1 L2243.1,686.9 L2244.6,685.2 L2246.3,683.8 L2248.0,682.8 L2249.9,682.0 L2251.8,681.4 L2253.8,680.9 L2255.9,680.6 L2258.2,680.4 L2260.5,680.3 L2262.9,680.2 L2265.4,680.1 L2268.0,680.1 L2270.7,680.0 M2231.0,745.0 L2231.1,743.4 L2231.3,738.8 L2231.7,731.8 L2232.2,723.1 L2232.9,713.9 L2233.7,704.8 L2234.7,696.6 L2235.8,689.6 L2237.1,684.1 L2238.5,680.0 L2240.0,677.0 L2241.8,675.1 L2243.6,673.8 L2245.7,673.0 L2247.8,672.6 L2250.1,672.4 L2252.6,672.2 L2255.2,672.2 L2258.0,672.1 L2260.9,672.1 L2264.0,672.1 L2267.2,672.1 L2270.6,672.1 L2274.1,672.1 L2277.7,672.1 L2281.5,672.1 L2285.5,672.1 L2289.6,672.1 L2293.9,672.1 M2231.0,745.0 L2231.1,744.3 L2231.4,742.2 L2231.9,738.9 L2232.5,734.7 L2233.4,729.9 L2234.4,724.7 L2235.7,719.5 L2237.1,714.5 L2238.7,709.9 L2240.5,706.0 L2242.5,702.6 L2244.7,699.9 L2247.1,697.8 L2249.6,696.1 L2252.4,694.9 L2255.4,694.1 L2258.5,693.5 L2261.8,693.1 L2265.3,692.9 L2269.1,692.7 L2273.0,692.6 L2277.0,692.6 L2281.3,692.5 L2285.8,692.5 L2290.5,692.5 L2295.3,692.5 L2300.3,692.5 L2305.6,692.5 L2311.0,692.5 M2231.0,745.0 L2231.1,741.0 L2231.5,730.2 L2232.1,715.2 L2233.0,699.4 L2234.1,685.6 L2235.5,675.0 L2237.1,667.9 L2239.0,663.7 L2241.1,661.5 L2243.5,660.4 L2246.1,660.0 L2249.0,659.8 L2252.1,659.7 L2255.5,659.7 L2259.1,659.7 L2263.0,659.7 L2267.1,659.7 L2271.5,659.7 L2276.1,659.7 L2281.0,659.7 L2286.1,659.7 L2291.5,659.7 L2297.1,659.7 L2303.0,659.7 L2309.1,659.7 L2315.5,659.7 L2322.1,659.7 L2329.0,659.7 L2336.1,659.7 M2231.0,745.0 L2231.1,744.5 L2231.3,742.9 L2231.8,740.3 L2232.4,737.1 L2233.1,733.3 L2234.1,729.2 L2235.2,725.1 L2236.5,721.2 L2237.9,717.5 L2239.6,714.3 L2241.4,711.5 L2243.4,709.2 L2245.5,707.4 L2247.8,706.0 L2250.3,705.0 L2253.0,704.2 L2255.8,703.7 L2258.8,703.3 L2262.0,703.1 L2265.3,702.9 L2268.8,702.8 L2272.5,702.7 L2276.4,702.7 L2280.4,702.7 L2284.6,702.7 L2289.0,702.7 L2293.5,702.7 L2298.2,702.7 L2303.1,702.7 M2231.0,745.0 L2231.1,742.5 L2231.4,735.3 L2231.8,724.8 L2232.5,712.4 L2233.3,700.0 L2234.3,688.9 L2235.5,679.7 L2236.9,672.8 L2238.4,668.0 L2240.2,664.9 L2242.1,663.1 L2244.2,662.0 L2246.5,661.5 L2249.0,661.2 L2251.6,661.1 L2254.5,661.0 L2257.5,661.0 L2260.7,661.0 L2264.1,661.0 L2267.6,661.0 L2271.4,661.0 L2275.3,661.0 L2279.5,661.0 L2283.8,661.0 L2288.3,661.0 L2292.9,661.0 L2297.8,661.0 L2302.8,661.0 L2308.0,661.0 M2231.0,745.0 L2231.1,744.1 L2231.5,741.6 L2232.0,737.7 L2232.8,732.8 L2233.9,727.1 L2235.1,721.3 L2236.6,715.6 L2238.3,710.3 L2240.3,705.7 L2242.4,701.9 L2244.8,698.8 L2247.5,696.5 L2250.3,694.7 L2253.4,693.5 L2256.7,692.6 L2260.2,692.1 L2264.0,691.7 L2268.0,691.5 L2272.2,691.4 L2276.7,691.3 L2281.4,691.2 L2286.3,691.2 L2291.4,691.2 L2296.8,691.2 L2302.4,691.2 L2308.2,691.2 L2314.3,691.2 L2320.6,691.2 L2327.1,691.2 M2231.0,745.0 L2231.1,743.9 L2231.5,740.7 L2232.1,735.7 L2232.9,729.3 L2234.0,721.9 L2235.4,714.1 L2236.9,706.4 L2238.8,699.1 L2240.8,692.6 L2243.1,686.9 L2245.7,682.3 L2248.5,678.5 L2251.5,675.7 L2254.8,673.6 L2258.3,672.1 L2262.1,671.0 L2266.1,670.3 L2270.3,669.9 L2274.8,669.6 L2279.5,669.4 L2284.5,669.3 L2289.7,669.3 L2295.2,669.2 L2300.9,669.2 L2306.9,669.2 L2313.0,669.2 L2319.5,669.2 L2326.2,669.2 L2333.1,669.2 M2231.0,745.0 L2231.1,743.7 L2231.4,740.0 L2231.9,734.3 L2232.6,726.9 L2233.5,718.6 L2234.6,710.0 L2235.8,701.5 L2237.3,693.7 L2239.0,686.8 L2240.9,681.0 L2243.0,676.3 L2245.2,672.7 L2247.7,670.0 L2250.4,668.1 L2253.2,666.8 L2256.3,665.9 L2259.6,665.4 L2263.0,665.0 L2266.7,664.8 L2270.5,664.7 L2274.6,664.6 L2278.8,664.6 L2283.3,664.6 L2287.9,664.6 L2292.8,664.6 L2297.8,664.6 L2303.1,664.6 L2308.5,664.6 L2314.1,664.5 M2231.0,745.0 L2231.1,742.6 L2231.4,735.8 L2231.9,726.0 L2232.6,714.6 L2233.5,703.4 L2234.6,693.6 L2235.9,685.7 L2237.4,680.0 L2239.1,676.2 L2241.0,673.9 L2243.1,672.5 L2245.4,671.8 L2247.9,671.4 L2250.6,671.3 L2253.5,671.2 L2256.6,671.2 L2259.9,671.2 L2263.5,671.2 L2267.2,671.2 L2271.1,671.2 L2275.2,671.2 L2279.5,671.2 L2284.0,671.2 L2288.7,671.2 L2293.6,671.2 L2298.7,671.2 L2304.0,671.2 L2309.5,671.2 L2315.2,671.2 M2231.0,745.0 L2231.1,743.8 L2231.4,740.5 L2232.0,735.5 L2232.7,729.3 L2233.7,722.6 L2234.9,715.9 L2236.3,709.9 L2238.0,704.7 L2239.8,700.6 L2241.9,697.5 L2244.2,695.2 L2246.7,693.7 L2249.4,692.7 L2252.3,692.1 L2255.5,691.8 L2258.9,691.6 L2262.5,691.5 L2266.3,691.4 L2270.3,691.4 L2274.6,691.4 L2279.0,691.4 L2283.7,691.4 L2288.6,691.3 L2293.7,691.3 L2299.1,691.3 L2304.6,691.3 L2310.4,691.3 L2316.4,691.3 L2322.6,691.3 M2231.0,745.0 L2231.1,742.2 L2231.4,734.2 L2232.0,722.8 L2232.8,709.9 L2233.8,697.5 L2235.0,686.9 L2236.4,678.7 L2238.1,673.1 L2239.9,669.4 L2242.0,667.3 L2244.3,666.2 L2246.9,665.6 L2249.6,665.4 L2252.6,665.3 L2255.8,665.2 L2259.2,665.2 L2262.9,665.2 L2266.7,665.2 L2270.8,665.2 L2275.1,665.2 L2279.6,665.2 L2284.4,665.2 L2289.4,665.2 L2294.5,665.2 L2299.9,665.2 L2305.6,665.2 L2311.4,665.2 L2317.5,665.2 L2323.8,665.2 M2231.0,745.0 L2231.1,744.0 L2231.3,741.1 L2231.6,736.4 L2232.0,730.3 L2232.6,723.2 L2233.3,715.3 L2234.1,707.2 L2235.0,699.2 L2236.1,691.6 L2237.3,684.7 L2238.6,678.5 L2240.0,673.2 L2241.6,668.8 L2243.3,665.3 L2245.1,662.5 L2247.1,660.4 L2249.1,658.8 L2251.3,657.6 L2253.6,656.8 L2256.1,656.2 L2258.6,655.8 L2261.3,655.6 L2264.2,655.4 L2267.1,655.3 L2270.2,655.3 L2273.4,655.2 L2276.7,655.2 L2280.2,655.2 L2283.7,655.2 M2231.0,745.0 L2231.1,744.4 L2231.3,742.8 L2231.6,740.1 L2232.0,736.5 L2232.6,732.1 L2233.3,727.2 L2234.2,721.8 L2235.2,716.3 L2236.3,710.8 L2237.5,705.4 L2238.9,700.3 L2240.4,695.5 L2242.0,691.3 L2243.7,687.5 L2245.6,684.2 L2247.7,681.4 L2249.8,679.1 L2252.1,677.2 L2254.5,675.7 L2257.0,674.5 L2259.7,673.5 L2262.5,672.8 L2265.4,672.3 L2268.5,671.9 L2271.7,671.6 L2275.0,671.4 L2278.4,671.3 L2282.0,671.2 L2285.7,671.1 M2231.0,745.0 L2231.1,744.2 L2231.2,742.0 L2231.5,738.4 L2232.0,733.6 L2232.5,727.9 L2233.2,721.5 L2233.9,714.6 L2234.9,707.6 L2235.9,700.8 L2237.0,694.2 L2238.3,688.1 L2239.7,682.5 L2241.2,677.7 L2242.8,673.4 L2244.5,669.9 L2246.4,667.0 L2248.4,664.6 L2250.5,662.8 L2252.7,661.4 L2255.1,660.3 L2257.5,659.5 L2260.1,658.9 L2262.8,658.5 L2265.7,658.2 L2268.6,658.0 L2271.7,657.8 L2274.9,657.7 L2278.2,657.7 L2281.6,657.6 M2231.0,745.0 L2231.1,743.8 L2231.5,740.4 L2232.1,735.2 L2233.0,728.9 L2234.1,722.1 L2235.4,715.5 L2237.0,709.5 L2238.9,704.5 L2241.0,700.6 L2243.3,697.7 L2245.9,695.7 L2248.7,694.4 L2251.8,693.5 L2255.2,693.0 L2258.7,692.7 L2262.6,692.6 L2266.6,692.5 L2270.9,692.5 L2275.5,692.5 L2280.3,692.4 L2285.4,692.4 L2290.7,692.4 L2296.2,692.4 L2302.0,692.4 L2308.0,692.4 L2314.3,692.4 L2320.9,692.4 L2327.6,692.4 L2334.7,692.4 M2231.0,745.0 L2231.1,743.6 L2231.5,739.7 L2232.0,733.8 L2232.8,726.4 L2233.9,718.5 L2235.2,710.7 L2236.7,703.6 L2238.4,697.5 L2240.3,692.7 L2242.5,689.0 L2245.0,686.4 L2247.6,684.6 L2250.5,683.4 L2253.6,682.7 L2257.0,682.3 L2260.5,682.1 L2264.4,682.0 L2268.4,681.9 L2272.7,681.9 L2277.2,681.8 L2281.9,681.8 L2286.9,681.8 L2292.1,681.8 L2297.5,681.8 L2303.1,681.8 L2309.0,681.8 L2315.1,681.8 L2321.5,681.8 L2328.1,681.8 M2231.0,745.0 L2231.1,744.5 L2231.3,742.9 L2231.6,740.4 L2232.1,737.1 L2232.8,733.2 L2233.5,729.0 L2234.5,724.6 L2235.5,720.3 L2236.7,716.2 L2238.1,712.5 L2239.5,709.2 L2241.2,706.4 L2242.9,704.1 L2244.8,702.2 L2246.9,700.7 L2249.1,699.6 L2251.4,698.7 L2253.9,698.1 L2256.5,697.7 L2259.2,697.4 L2262.1,697.2 L2265.2,697.1 L2268.3,697.0 L2271.7,696.9 L2275.1,696.9 L2278.7,696.9 L2282.5,696.9 L2286.3,696.9 L2290.4,696.9 M2231.0,745.0 L2231.1,743.7 L2231.5,739.8 L2232.1,733.7 L2232.9,726.0 L2234.0,717.1 L2235.3,707.8 L2236.8,698.6 L2238.6,690.0 L2240.7,682.4 L2242.9,675.8 L2245.4,670.5 L2248.2,666.3 L2251.2,663.0 L2254.4,660.7 L2257.8,659.1 L2261.5,657.9 L2265.5,657.2 L2269.7,656.7 L2274.1,656.4 L2278.7,656.2 L2283.6,656.1 L2288.8,656.1 L2294.1,656.1 L2299.7,656.0 L2305.6,656.0 L2311.7,656.0 L2318.0,656.0 L2324.5,656.0 L2331.4,656.0 M2231.0,745.0 L2231.1,743.9 L2231.3,740.9 L2231.7,736.3 L2232.3,730.7 L2233.1,724.7 L2234.0,718.8 L2235.1,713.6 L2236.3,709.2 L2237.7,705.8 L2239.3,703.2 L2241.0,701.4 L2242.9,700.3 L2245.0,699.5 L2247.2,699.1 L2249.6,698.8 L2252.2,698.7 L2255.0,698.6 L2257.9,698.6 L2260.9,698.6 L2264.2,698.6 L2267.5,698.6 L2271.1,698.6 L2274.8,698.6 L2278.7,698.6 L2282.8,698.6 L2287.0,698.6 L2291.4,698.6 L2296.0,698.6 L2300.7,698.6 M2231.0,745.0 L2231.1,744.1 L2231.3,741.5 L2231.8,737.3 L2232.4,731.9 L2233.2,725.6 L2234.1,719.0 L2235.3,712.2 L2236.6,705.7 L2238.0,699.8 L2239.7,694.6 L2241.5,690.1 L2243.5,686.5 L2245.7,683.6 L2248.0,681.4 L2250.5,679.7 L2253.2,678.6 L2256.1,677.7 L2259.1,677.2 L2262.3,676.8 L2265.7,676.6 L2269.3,676.4 L2273.0,676.4 L2276.9,676.3 L2281.0,676.3 L2285.3,676.3 L2289.7,676.2 L2294.3,676.2 L2299.1,676.2 L2304.0,676.2 M2231.0,745.0 L2231.0,744.3 L2231.2,742.1 L2231.4,738.6 L2231.8,733.9 L2232.2,728.3 L2232.7,722.1 L2233.4,715.5 L2234.1,708.7 L2234.9,702.1 L2235.8,695.8 L2236.9,689.9 L2238.0,684.6 L2239.2,680.0 L2240.5,676.0 L2241.9,672.7 L2243.4,670.0 L2245.0,667.8 L2246.7,666.1 L2248.5,664.8 L2250.4,663.8 L2252.4,663.1 L2254.5,662.6 L2256.6,662.2 L2258.9,662.0 L2261.3,661.8 L2263.8,661.7 L2266.3,661.6 L2269.0,661.5 L2271.8,661.5 M2231.0,745.0 L2231.1,741.5 L2231.4,731.9 L2232.0,718.1 L2232.7,702.7 L2233.7,688.2 L2234.8,676.1 L2236.2,667.0 L2237.8,660.9 L2239.6,657.1 L2241.6,655.0 L2243.9,653.9 L2246.3,653.4 L2249.0,653.2 L2251.9,653.1 L2255.0,653.0 L2258.3,653.0 L2261.8,653.0 L2265.5,653.0 L2269.4,653.0 L2273.6,653.0 L2278.0,653.0 L2282.5,653.0 L2287.3,653.0 L2292.3,653.0 L2297.6,653.0 L2303.0,653.0 L2308.6,653.0 L2314.5,653.0 L2320.6,653.0 M2231.0,745.0 L2231.1,743.4 L2231.2,738.8 L2231.5,731.7 L2231.9,722.9 L2232.4,713.4 L2232.9,703.9 L2233.6,695.1 L2234.5,687.4 L2235.4,681.2 L2236.4,676.4 L2237.5,672.9 L2238.8,670.5 L2240.1,668.8 L2241.6,667.8 L2243.2,667.2 L2244.8,666.8 L2246.6,666.6 L2248.5,666.5 L2250.5,666.5 L2252.6,666.4 L2254.8,666.4 L2257.2,666.4 L2259.6,666.4 L2262.1,666.4 L2264.8,666.4 L2267.5,666.4 L2270.4,666.4 L2273.4,666.4 L2276.5,666.4 M2231.0,745.0 L2231.1,743.9 L2231.2,740.8 L2231.5,735.9 L2231.9,729.6 L2232.4,722.2 L2233.0,714.4 L2233.7,706.5 L2234.5,699.0 L2235.4,692.1 L2236.5,686.1 L2237.6,681.0 L2238.9,676.8 L2240.2,673.6 L2241.7,671.1 L2243.3,669.3 L2245.0,668.0 L2246.8,667.0 L2248.7,666.4 L2250.7,666.0 L2252.8,665.8 L2255.0,665.6 L2257.4,665.5 L2259.8,665.5 L2262.4,665.5 L2265.1,665.4 L2267.9,665.4 L2270.7,665.4 L2273.7,665.4 L2276.8,665.4 M2231.0,745.0 L2231.1,743.4 L2231.4,738.6 L2231.9,731.3 L2232.6,722.1 L2233.5,711.8 L2234.6,701.4 L2235.9,691.5 L2237.4,682.7 L2239.0,675.3 L2240.9,669.3 L2243.0,664.7 L2245.3,661.3 L2247.8,659.0 L2250.5,657.4 L2253.3,656.4 L2256.4,655.8 L2259.7,655.4 L2263.2,655.2 L2266.8,655.1 L2270.7,655.0 L2274.8,655.0 L2279.1,655.0 L2283.5,655.0 L2288.2,655.0 L2293.1,655.0 L2298.1,655.0 L2303.4,655.0 L2308.8,655.0 L2314.5,655.0 M2231.0,745.0 L2231.1,744.3 L2231.2,742.2 L2231.5,738.8 L2232.0,734.3 L2232.5,728.9 L2233.2,722.9 L2233.9,716.4 L2234.8,709.9 L2235.8,703.3 L2237.0,697.1 L2238.2,691.3 L2239.6,686.1 L2241.1,681.4 L2242.7,677.4 L2244.5,674.0 L2246.3,671.2 L2248.3,669.0 L2250.4,667.2 L2252.6,665.8 L2254.9,664.7 L2257.4,663.9 L2260.0,663.4 L2262.7,662.9 L2265.5,662.7 L2268.4,662.5 L2271.5,662.3 L2274.6,662.2 L2277.9,662.2 L2281.3,662.1" fill="none" stroke="#1f3af5" stroke-width="0.55" stroke-dasharray="1.2,0.7" opacity="0.9"/>
<rect x="2283.8" y="659.1" width="1.6" height="1" fill="#111" opacity="0.7"/>
<rect x="2242.9" y="670.9" width="1.6" height="1" fill="#111" opacity="0.7"/>
<rect x="2304.8" y="659.2" width="1.6" height="1" fill="#111" opacity="0.7"/>
<rect x="2266.0" y="665.8" width="1.6" height="1" fill="#111" opacity="0.7"/>
<rect x="2303.4" y="672.8" width="1.6" height="1" fill="#111" opacity="0.7"/>
<rect x="2296.1" y="682.2" width="1.6" height="1" fill="#111" opacity="0.7"/>
<rect x="2276.6" y="683.7" width="1.6" height="1" fill="#111" opacity="0.7"/>
<rect x="2321.7" y="655.5" width="1.6" height="1" fill="#111" opacity="0.7"/>
<rect x="2324.1" y="680.9" width="1.6" height="1" fill="#111" opacity="0.7"/>
<rect x="2253.4" y="670.1" width="1.6" height="1" fill="#111" opacity="0.7"/>
<rect x="2297.0" y="688.4" width="1.6" height="1" fill="#111" opacity="0.7"/>
<rect x="2275.2" y="674.8" width="1.6" height="1" fill="#111" opacity="0.7"/>
<rect x="2319.4" y="683.9" width="1.6" height="1" fill="#111" opacity="0.7"/>
<rect x="2325.1" y="670.5" width="1.6" height="1" fill="#111" opacity="0.7"/>
<rect x="2299.3" y="660.2" width="1.6" height="1" fill="#111" opacity="0.7"/>
<rect x="2305.5" y="684.7" width="1.6" height="1" fill="#111" opacity="0.7"/>
<rect x="2298.5" y="680.7" width="1.6" height="1" fill="#111" opacity="0.7"/>
<rect x="2260.8" y="688.0" width="1.6" height="1" fill="#111" opacity="0.7"/>
<rect x="2328.3" y="691.1" width="1.6" height="1" fill="#111" opacity="0.7"/>
<rect x="2289.3" y="683.6" width="1.6" height="1" fill="#111" opacity="0.7"/>
<rect x="2270.2" y="688.4" width="1.6" height="1" fill="#111" opacity="0.7"/>
<rect x="2317.3" y="665.9" width="1.6" height="1" fill="#111" opacity="0.7"/>
<rect x="2249.3" y="669.6" width="1.6" height="1" fill="#111" opacity="0.7"/>
<rect x="2290.4" y="682.7" width="1.6" height="1" fill="#111" opacity="0.7"/>
<rect x="2284.9" y="653.1" width="1.6" height="1" fill="#111" opacity="0.7"/>
<rect x="2313.2" y="654.6" width="1.6" height="1" fill="#111" opacity="0.7"/>
<rect x="2312.4" y="658.9" width="1.6" height="1" fill="#111" opacity="0.7"/>
<rect x="2271.5" y="683.5" width="1.6" height="1" fill="#111" opacity="0.7"/>
<rect x="2254.4" y="657.9" width="1.6" height="1" fill="#111" opacity="0.7"/>
<rect x="2287.5" y="680.9" width="1.6" height="1" fill="#111" opacity="0.7"/>
<rect x="2315.9" y="679.6" width="1.6" height="1" fill="#111" opacity="0.7"/>
<rect x="2325.2" y="671.7" width="1.6" height="1" fill="#111" opacity="0.7"/>
<rect x="2325.5" y="655.4" width="1.6" height="1" fill="#111" opacity="0.7"/>
<rect x="2261.5" y="673.1" width="1.6" height="1" fill="#111" opacity="0.7"/>
<rect x="2267.5" y="681.2" width="1.6" height="1" fill="#111" opacity="0.7"/>
<rect x="2298.2" y="672.9" width="1.6" height="1" fill="#111" opacity="0.7"/>
<rect x="2316.2" y="674.4" width="1.6" height="1" fill="#111" opacity="0.7"/>
<rect x="2269.4" y="667.2" width="1.6" height="1" fill="#111" opacity="0.7"/>
<rect x="2316.4" y="688.0" width="1.6" height="1" fill="#111" opacity="0.7"/>
<rect x="2260.3" y="686.0" width="1.6" height="1" fill="#111" opacity="0.7"/>
<rect x="2327.2" y="673.0" width="1.6" height="1" fill="#111" opacity="0.7"/>
<rect x="2292.4" y="660.0" width="1.6" height="1" fill="#111" opacity="0.7"/>
<rect x="2289.2" y="672.1" width="1.6" height="1" fill="#111" opacity="0.7"/>
<rect x="2295.3" y="653.1" width="1.6" height="1" fill="#111" opacity="0.7"/>
<rect x="2327.3" y="672.6" width="1.6" height="1" fill="#111" opacity="0.7"/>
<rect x="2277.3" y="684.0" width="1.6" height="1" fill="#111" opacity="0.7"/>
<rect x="2291.5" y="671.6" width="1.6" height="1" fill="#111" opacity="0.7"/>
<rect x="2302.8" y="654.6" width="1.6" height="1" fill="#111" opacity="0.7"/>
<rect x="2289.4" y="668.6" width="1.6" height="1" fill="#111" opacity="0.7"/>
<rect x="2326.2" y="688.9" width="1.6" height="1" fill="#111" opacity="0.7"/>
<rect x="2265.7" y="670.9" width="1.6" height="1" fill="#111" opacity="0.7"/>
<rect x="2253.2" y="669.3" width="1.6" height="1" fill="#111" opacity="0.7"/>
<rect x="2313.8" y="688.0" width="1.6" height="1" fill="#111" opacity="0.7"/>
<rect x="2283.9" y="664.7" width="1.6" height="1" fill="#111" opacity="0.7"/>
<rect x="2258.8" y="676.7" width="1.6" height="1" fill="#111" opacity="0.7"/>
<rect x="2323.4" y="657.2" width="1.6" height="1" fill="#111" opacity="0.7"/>
<rect x="2310.6" y="652.9" width="1.6" height="1" fill="#111" opacity="0.7"/>
<rect x="2259.1" y="661.1" width="1.6" height="1" fill="#111" opacity="0.7"/>
<rect x="2302.5" y="664.9" width="1.6" height="1" fill="#111" opacity="0.7"/>
<rect x="2273.3" y="676.8" width="1.6" height="1" fill="#111" opacity="0.7"/>
<rect x="2231" y="753" width="2" height="1" fill="#333" opacity="0.7"/>
<rect x="2264" y="753" width="2" height="1" fill="#333" opacity="0.7"/>
<rect x="2296" y="753" width="2" height="1" fill="#333" opacity="0.7"/>
<rect x="2328" y="753" width="2" height="1" fill="#333" opacity="0.7"/>
<rect x="2359" y="753" width="2" height="1" fill="#333" opacity="0.7"/>
<rect x="2390" y="753" width="2" height="1" fill="#333" opacity="0.7"/>
<text x="2048.5" y="470.8" font-family="Liberation Sans, sans-serif" font-size="16.00" font-weight="normal" font-style="normal" fill="#000" text-anchor="middle" transform="translate(0,470.8) scale(1,1.02) translate(0,-470.8)" >Total count</text>
<text x="2289" y="464.9" font-family="Liberation Sans, sans-serif" font-size="16.00" font-weight="normal" font-style="normal" fill="#000" text-anchor="middle" transform="translate(0,464.9) scale(1,1.02) translate(0,-464.9)" >PCoA</text>
<text x="2058" y="621.3" font-family="Liberation Sans, sans-serif" font-size="16.00" font-weight="normal" font-style="normal" fill="#000" text-anchor="middle" transform="translate(0,621.3) scale(1,1.02) translate(0,-621.3)" >clustering</text>
<text x="2294.5" y="620.1" font-family="Liberation Sans, sans-serif" font-size="16.00" font-weight="normal" font-style="normal" fill="#000" text-anchor="middle" transform="translate(0,620.1) scale(1,1.02) translate(0,-620.1)" >Rarefaction curves</text>
<text x="2159" y="807.7" font-family="Liberation Sans, sans-serif" font-size="43.13" font-weight="normal" font-style="italic" fill="#000" text-anchor="middle" transform="translate(0,807.7) scale(1,1.04) translate(0,-807.7)" >Diagnostic plots</text>
<rect x="2470.7" y="4.7" width="520.0000000000001" height="827.2" rx="86" ry="86" fill="none" stroke="#000" stroke-width="5.4"/>
<rect x="2542.7" y="57" width="39.3" height="33.5" fill="url(#hmkey)"/>
<rect x="2556" y="53.5" width="12" height="1" fill="#444" opacity="0.35"/><rect x="2542.7" y="90" width="39.3" height="0.8" fill="#333" opacity="0.6"/>
<rect x="2584.30" y="105.00" width="10.52" height="3.72" fill="rgb(185, 217, 233)"/>
<rect x="2594.53" y="105.00" width="10.52" height="3.72" fill="rgb(177, 213, 231)"/>
<rect x="2604.75" y="105.00" width="10.52" height="3.72" fill="rgb(246, 182, 151)"/>
<rect x="2614.98" y="105.00" width="10.52" height="3.72" fill="rgb(187, 218, 233)"/>
<rect x="2625.20" y="105.00" width="10.52" height="3.72" fill="rgb(248, 238, 232)"/>
<rect x="2635.43" y="105.00" width="10.52" height="3.72" fill="rgb(173, 210, 229)"/>
<rect x="2645.65" y="105.00" width="10.52" height="3.72" fill="rgb(237, 150, 118)"/>
<rect x="2655.88" y="105.00" width="10.52" height="3.72" fill="rgb(222, 114, 91)"/>
<rect x="2666.10" y="105.00" width="10.52" height="3.72" fill="rgb(189, 46, 53)"/>
<rect x="2676.32" y="105.00" width="10.52" height="3.72" fill="rgb(248, 193, 166)"/>
<rect x="2686.55" y="105.00" width="10.52" height="3.72" fill="rgb(239, 154, 121)"/>
<rect x="2696.78" y="105.00" width="10.52" height="3.72" fill="rgb(244, 169, 135)"/>
<rect x="2584.30" y="108.42" width="10.52" height="3.72" fill="rgb(203, 226, 238)"/>
<rect x="2594.53" y="108.42" width="10.52" height="3.72" fill="rgb(222, 235, 242)"/>
<rect x="2604.75" y="108.42" width="10.52" height="3.72" fill="rgb(249, 234, 226)"/>
<rect x="2614.98" y="108.42" width="10.52" height="3.72" fill="rgb(243, 245, 246)"/>
<rect x="2625.20" y="108.42" width="10.52" height="3.72" fill="rgb(252, 223, 206)"/>
<rect x="2635.43" y="108.42" width="10.52" height="3.72" fill="rgb(244, 245, 246)"/>
<rect x="2645.65" y="108.42" width="10.52" height="3.72" fill="rgb(250, 206, 182)"/>
<rect x="2655.88" y="108.42" width="10.52" height="3.72" fill="rgb(176, 23, 42)"/>
<rect x="2666.10" y="108.42" width="10.52" height="3.72" fill="rgb(218, 107, 85)"/>
<rect x="2676.32" y="108.42" width="10.52" height="3.72" fill="rgb(249, 196, 170)"/>
<rect x="2686.55" y="108.42" width="10.52" height="3.72" fill="rgb(243, 164, 129)"/>
<rect x="2696.78" y="108.42" width="10.52" height="3.72" fill="rgb(246, 177, 146)"/>
<rect x="2584.30" y="111.83" width="10.52" height="3.72" fill="rgb(214, 231, 241)"/>
<rect x="2594.53" y="111.83" width="10.52" height="3.72" fill="rgb(209, 229, 240)"/>
<rect x="2604.75" y="111.83" width="10.52" height="3.72" fill="rgb(227, 125, 99)"/>
<rect x="2614.98" y="111.83" width="10.52" height="3.72" fill="rgb(247, 242, 239)"/>
<rect x="2625.20" y="111.83" width="10.52" height="3.72" fill="rgb(250, 232, 222)"/>
<rect x="2635.43" y="111.83" width="10.52" height="3.72" fill="rgb(249, 237, 230)"/>
<rect x="2645.65" y="111.83" width="10.52" height="3.72" fill="rgb(219, 109, 87)"/>
<rect x="2655.88" y="111.83" width="10.52" height="3.72" fill="rgb(230, 133, 105)"/>
<rect x="2666.10" y="111.83" width="10.52" height="3.72" fill="rgb(232, 137, 109)"/>
<rect x="2676.32" y="111.83" width="10.52" height="3.72" fill="rgb(199, 66, 63)"/>
<rect x="2686.55" y="111.83" width="10.52" height="3.72" fill="rgb(252, 220, 201)"/>
<rect x="2696.78" y="111.83" width="10.52" height="3.72" fill="rgb(245, 172, 139)"/>
<rect x="2584.30" y="115.25" width="10.52" height="3.72" fill="rgb(240, 244, 245)"/>
<rect x="2594.53" y="115.25" width="10.52" height="3.72" fill="rgb(200, 68, 63)"/>
<rect x="2604.75" y="115.25" width="10.52" height="3.72" fill="rgb(250, 229, 216)"/>
<rect x="2614.98" y="115.25" width="10.52" height="3.72" fill="rgb(182, 215, 232)"/>
<rect x="2625.20" y="115.25" width="10.52" height="3.72" fill="rgb(251, 223, 207)"/>
<rect x="2635.43" y="115.25" width="10.52" height="3.72" fill="rgb(230, 239, 243)"/>
<rect x="2645.65" y="115.25" width="10.52" height="3.72" fill="rgb(250, 205, 181)"/>
<rect x="2655.88" y="115.25" width="10.52" height="3.72" fill="rgb(217, 102, 82)"/>
<rect x="2666.10" y="115.25" width="10.52" height="3.72" fill="rgb(215, 99, 79)"/>
<rect x="2676.32" y="115.25" width="10.52" height="3.72" fill="rgb(244, 165, 130)"/>
<rect x="2686.55" y="115.25" width="10.52" height="3.72" fill="rgb(247, 185, 156)"/>
<rect x="2696.78" y="115.25" width="10.52" height="3.72" fill="rgb(215, 100, 80)"/>
<rect x="2584.30" y="118.67" width="10.52" height="3.72" fill="rgb(249, 236, 228)"/>
<rect x="2594.53" y="118.67" width="10.52" height="3.72" fill="rgb(244, 169, 135)"/>
<rect x="2604.75" y="118.67" width="10.52" height="3.72" fill="rgb(252, 220, 201)"/>
<rect x="2614.98" y="118.67" width="10.52" height="3.72" fill="rgb(250, 229, 216)"/>
<rect x="2625.20" y="118.67" width="10.52" height="3.72" fill="rgb(251, 227, 212)"/>
<rect x="2635.43" y="118.67" width="10.52" height="3.72" fill="rgb(217, 233, 241)"/>
<rect x="2645.65" y="118.67" width="10.52" height="3.72" fill="rgb(251, 208, 185)"/>
<rect x="2655.88" y="118.67" width="10.52" height="3.72" fill="rgb(203, 75, 67)"/>
<rect x="2666.10" y="118.67" width="10.52" height="3.72" fill="rgb(221, 114, 90)"/>
<rect x="2676.32" y="118.67" width="10.52" height="3.72" fill="rgb(247, 187, 158)"/>
<rect x="2686.55" y="118.67" width="10.52" height="3.72" fill="rgb(242, 162, 127)"/>
<rect x="2696.78" y="118.67" width="10.52" height="3.72" fill="rgb(241, 159, 125)"/>
<rect x="2584.30" y="122.08" width="10.52" height="3.72" fill="rgb(224, 236, 242)"/>
<rect x="2594.53" y="122.08" width="10.52" height="3.72" fill="rgb(250, 228, 216)"/>
<rect x="2604.75" y="122.08" width="10.52" height="3.72" fill="rgb(232, 138, 109)"/>
<rect x="2614.98" y="122.08" width="10.52" height="3.72" fill="rgb(248, 239, 233)"/>
<rect x="2625.20" y="122.08" width="10.52" height="3.72" fill="rgb(240, 243, 245)"/>
<rect x="2635.43" y="122.08" width="10.52" height="3.72" fill="rgb(250, 231, 221)"/>
<rect x="2645.65" y="122.08" width="10.52" height="3.72" fill="rgb(246, 181, 150)"/>
<rect x="2655.88" y="122.08" width="10.52" height="3.72" fill="rgb(225, 122, 97)"/>
<rect x="2666.10" y="122.08" width="10.52" height="3.72" fill="rgb(196, 61, 60)"/>
<rect x="2676.32" y="122.08" width="10.52" height="3.72" fill="rgb(204, 76, 67)"/>
<rect x="2686.55" y="122.08" width="10.52" height="3.72" fill="rgb(236, 147, 116)"/>
<rect x="2696.78" y="122.08" width="10.52" height="3.72" fill="rgb(209, 86, 72)"/>
<rect x="2584.30" y="125.50" width="10.52" height="3.72" fill="rgb(251, 224, 208)"/>
<rect x="2594.53" y="125.50" width="10.52" height="3.72" fill="rgb(250, 206, 182)"/>
<rect x="2604.75" y="125.50" width="10.52" height="3.72" fill="rgb(252, 221, 203)"/>
<rect x="2614.98" y="125.50" width="10.52" height="3.72" fill="rgb(250, 228, 215)"/>
<rect x="2625.20" y="125.50" width="10.52" height="3.72" fill="rgb(220, 234, 242)"/>
<rect x="2635.43" y="125.50" width="10.52" height="3.72" fill="rgb(236, 242, 245)"/>
<rect x="2645.65" y="125.50" width="10.52" height="3.72" fill="rgb(233, 141, 111)"/>
<rect x="2655.88" y="125.50" width="10.52" height="3.72" fill="rgb(203, 75, 67)"/>
<rect x="2666.10" y="125.50" width="10.52" height="3.72" fill="rgb(207, 83, 70)"/>
<rect x="2676.32" y="125.50" width="10.52" height="3.72" fill="rgb(250, 231, 219)"/>
<rect x="2686.55" y="125.50" width="10.52" height="3.72" fill="rgb(198, 65, 62)"/>
<rect x="2696.78" y="125.50" width="10.52" height="3.72" fill="rgb(230, 133, 105)"/>
<rect x="2584.30" y="128.92" width="10.52" height="3.72" fill="rgb(243, 245, 246)"/>
<rect x="2594.53" y="128.92" width="10.52" height="3.72" fill="rgb(237, 149, 118)"/>
<rect x="2604.75" y="128.92" width="10.52" height="3.72" fill="rgb(247, 243, 240)"/>
<rect x="2614.98" y="128.92" width="10.52" height="3.72" fill="rgb(217, 232, 241)"/>
<rect x="2625.20" y="128.92" width="10.52" height="3.72" fill="rgb(232, 239, 244)"/>
<rect x="2635.43" y="128.92" width="10.52" height="3.72" fill="rgb(251, 211, 188)"/>
<rect x="2645.65" y="128.92" width="10.52" height="3.72" fill="rgb(252, 220, 200)"/>
<rect x="2655.88" y="128.92" width="10.52" height="3.72" fill="rgb(230, 134, 106)"/>
<rect x="2666.10" y="128.92" width="10.52" height="3.72" fill="rgb(224, 121, 96)"/>
<rect x="2676.32" y="128.92" width="10.52" height="3.72" fill="rgb(238, 153, 120)"/>
<rect x="2686.55" y="128.92" width="10.52" height="3.72" fill="rgb(237, 149, 118)"/>
<rect x="2696.78" y="128.92" width="10.52" height="3.72" fill="rgb(235, 146, 115)"/>
<rect x="2584.30" y="132.33" width="10.52" height="3.72" fill="rgb(182, 215, 232)"/>
<rect x="2594.53" y="132.33" width="10.52" height="3.72" fill="rgb(241, 244, 246)"/>
<rect x="2604.75" y="132.33" width="10.52" height="3.72" fill="rgb(249, 199, 174)"/>
<rect x="2614.98" y="132.33" width="10.52" height="3.72" fill="rgb(248, 237, 231)"/>
<rect x="2625.20" y="132.33" width="10.52" height="3.72" fill="rgb(251, 208, 185)"/>
<rect x="2635.43" y="132.33" width="10.52" height="3.72" fill="rgb(240, 243, 245)"/>
<rect x="2645.65" y="132.33" width="10.52" height="3.72" fill="rgb(252, 213, 191)"/>
<rect x="2655.88" y="132.33" width="10.52" height="3.72" fill="rgb(217, 105, 84)"/>
<rect x="2666.10" y="132.33" width="10.52" height="3.72" fill="rgb(245, 176, 144)"/>
<rect x="2676.32" y="132.33" width="10.52" height="3.72" fill="rgb(251, 212, 190)"/>
<rect x="2686.55" y="132.33" width="10.52" height="3.72" fill="rgb(250, 205, 182)"/>
<rect x="2696.78" y="132.33" width="10.52" height="3.72" fill="rgb(235, 145, 114)"/>
<rect x="2584.30" y="135.75" width="10.52" height="3.72" fill="rgb(251, 225, 210)"/>
<rect x="2594.53" y="135.75" width="10.52" height="3.72" fill="rgb(232, 137, 109)"/>
<rect x="2604.75" y="135.75" width="10.52" height="3.72" fill="rgb(244, 165, 130)"/>
<rect x="2614.98" y="135.75" width="10.52" height="3.72" fill="rgb(248, 238, 232)"/>
<rect x="2625.20" y="135.75" width="10.52" height="3.72" fill="rgb(250, 230, 219)"/>
<rect x="2635.43" y="135.75" width="10.52" height="3.72" fill="rgb(232, 239, 244)"/>
<rect x="2645.65" y="135.75" width="10.52" height="3.72" fill="rgb(250, 201, 177)"/>
<rect x="2655.88" y="135.75" width="10.52" height="3.72" fill="rgb(252, 217, 197)"/>
<rect x="2666.10" y="135.75" width="10.52" height="3.72" fill="rgb(243, 163, 129)"/>
<rect x="2676.32" y="135.75" width="10.52" height="3.72" fill="rgb(252, 220, 200)"/>
<rect x="2686.55" y="135.75" width="10.52" height="3.72" fill="rgb(230, 134, 106)"/>
<rect x="2696.78" y="135.75" width="10.52" height="3.72" fill="rgb(228, 128, 101)"/>
<rect x="2584.30" y="139.17" width="10.52" height="3.72" fill="rgb(247, 243, 240)"/>
<rect x="2594.53" y="139.17" width="10.52" height="3.72" fill="rgb(216, 102, 81)"/>
<rect x="2604.75" y="139.17" width="10.52" height="3.72" fill="rgb(252, 216, 195)"/>
<rect x="2614.98" y="139.17" width="10.52" height="3.72" fill="rgb(252, 223, 206)"/>
<rect x="2625.20" y="139.17" width="10.52" height="3.72" fill="rgb(246, 182, 152)"/>
<rect x="2635.43" y="139.17" width="10.52" height="3.72" fill="rgb(242, 245, 246)"/>
<rect x="2645.65" y="139.17" width="10.52" height="3.72" fill="rgb(237, 150, 119)"/>
<rect x="2655.88" y="139.17" width="10.52" height="3.72" fill="rgb(229, 131, 103)"/>
<rect x="2666.10" y="139.17" width="10.52" height="3.72" fill="rgb(246, 178, 147)"/>
<rect x="2676.32" y="139.17" width="10.52" height="3.72" fill="rgb(245, 171, 138)"/>
<rect x="2686.55" y="139.17" width="10.52" height="3.72" fill="rgb(249, 199, 173)"/>
<rect x="2696.78" y="139.17" width="10.52" height="3.72" fill="rgb(238, 153, 120)"/>
<rect x="2584.30" y="142.58" width="10.52" height="3.72" fill="rgb(212, 230, 240)"/>
<rect x="2594.53" y="142.58" width="10.52" height="3.72" fill="rgb(249, 234, 225)"/>
<rect x="2604.75" y="142.58" width="10.52" height="3.72" fill="rgb(241, 244, 246)"/>
<rect x="2614.98" y="142.58" width="10.52" height="3.72" fill="rgb(248, 191, 164)"/>
<rect x="2625.20" y="142.58" width="10.52" height="3.72" fill="rgb(250, 203, 179)"/>
<rect x="2635.43" y="142.58" width="10.52" height="3.72" fill="rgb(234, 241, 244)"/>
<rect x="2645.65" y="142.58" width="10.52" height="3.72" fill="rgb(252, 221, 203)"/>
<rect x="2655.88" y="142.58" width="10.52" height="3.72" fill="rgb(225, 123, 98)"/>
<rect x="2666.10" y="142.58" width="10.52" height="3.72" fill="rgb(205, 78, 68)"/>
<rect x="2676.32" y="142.58" width="10.52" height="3.72" fill="rgb(241, 159, 126)"/>
<rect x="2686.55" y="142.58" width="10.52" height="3.72" fill="rgb(239, 153, 121)"/>
<rect x="2696.78" y="142.58" width="10.52" height="3.72" fill="rgb(251, 224, 207)"/>
<rect x="2584.30" y="146.00" width="10.52" height="3.72" fill="rgb(68, 147, 195)"/>
<rect x="2594.53" y="146.00" width="10.52" height="3.72" fill="rgb(251, 212, 190)"/>
<rect x="2604.75" y="146.00" width="10.52" height="3.72" fill="rgb(249, 197, 170)"/>
<rect x="2614.98" y="146.00" width="10.52" height="3.72" fill="rgb(215, 231, 241)"/>
<rect x="2625.20" y="146.00" width="10.52" height="3.72" fill="rgb(240, 244, 245)"/>
<rect x="2635.43" y="146.00" width="10.52" height="3.72" fill="rgb(206, 227, 239)"/>
<rect x="2645.65" y="146.00" width="10.52" height="3.72" fill="rgb(252, 223, 206)"/>
<rect x="2655.88" y="146.00" width="10.52" height="3.72" fill="rgb(200, 69, 64)"/>
<rect x="2666.10" y="146.00" width="10.52" height="3.72" fill="rgb(224, 119, 95)"/>
<rect x="2676.32" y="146.00" width="10.52" height="3.72" fill="rgb(227, 128, 101)"/>
<rect x="2686.55" y="146.00" width="10.52" height="3.72" fill="rgb(243, 163, 128)"/>
<rect x="2696.78" y="146.00" width="10.52" height="3.72" fill="rgb(251, 212, 191)"/>
<rect x="2584.30" y="149.42" width="10.52" height="3.72" fill="rgb(92, 163, 203)"/>
<rect x="2594.53" y="149.42" width="10.52" height="3.72" fill="rgb(246, 178, 146)"/>
<rect x="2604.75" y="149.42" width="10.52" height="3.72" fill="rgb(251, 226, 211)"/>
<rect x="2614.98" y="149.42" width="10.52" height="3.72" fill="rgb(226, 237, 243)"/>
<rect x="2625.20" y="149.42" width="10.52" height="3.72" fill="rgb(251, 207, 184)"/>
<rect x="2635.43" y="149.42" width="10.52" height="3.72" fill="rgb(245, 246, 246)"/>
<rect x="2645.65" y="149.42" width="10.52" height="3.72" fill="rgb(248, 192, 164)"/>
<rect x="2655.88" y="149.42" width="10.52" height="3.72" fill="rgb(193, 54, 57)"/>
<rect x="2666.10" y="149.42" width="10.52" height="3.72" fill="rgb(247, 184, 155)"/>
<rect x="2676.32" y="149.42" width="10.52" height="3.72" fill="rgb(241, 159, 125)"/>
<rect x="2686.55" y="149.42" width="10.52" height="3.72" fill="rgb(251, 208, 185)"/>
<rect x="2696.78" y="149.42" width="10.52" height="3.72" fill="rgb(251, 209, 187)"/>
<rect x="2584.30" y="152.83" width="10.52" height="3.72" fill="rgb(83, 157, 200)"/>
<rect x="2594.53" y="152.83" width="10.52" height="3.72" fill="rgb(252, 218, 198)"/>
<rect x="2604.75" y="152.83" width="10.52" height="3.72" fill="rgb(251, 210, 188)"/>
<rect x="2614.98" y="152.83" width="10.52" height="3.72" fill="rgb(204, 226, 238)"/>
<rect x="2625.20" y="152.83" width="10.52" height="3.72" fill="rgb(234, 240, 244)"/>
<rect x="2635.43" y="152.83" width="10.52" height="3.72" fill="rgb(252, 221, 203)"/>
<rect x="2645.65" y="152.83" width="10.52" height="3.72" fill="rgb(238, 152, 120)"/>
<rect x="2655.88" y="152.83" width="10.52" height="3.72" fill="rgb(245, 171, 138)"/>
<rect x="2666.10" y="152.83" width="10.52" height="3.72" fill="rgb(147, 14, 38)"/>
<rect x="2676.32" y="152.83" width="10.52" height="3.72" fill="rgb(247, 188, 160)"/>
<rect x="2686.55" y="152.83" width="10.52" height="3.72" fill="rgb(252, 213, 191)"/>
<rect x="2696.78" y="152.83" width="10.52" height="3.72" fill="rgb(243, 164, 129)"/>
<rect x="2584.30" y="156.25" width="10.52" height="3.72" fill="rgb(169, 208, 228)"/>
<rect x="2594.53" y="156.25" width="10.52" height="3.72" fill="rgb(250, 201, 176)"/>
<rect x="2604.75" y="156.25" width="10.52" height="3.72" fill="rgb(244, 168, 134)"/>
<rect x="2614.98" y="156.25" width="10.52" height="3.72" fill="rgb(241, 244, 246)"/>
<rect x="2625.20" y="156.25" width="10.52" height="3.72" fill="rgb(247, 246, 245)"/>
<rect x="2635.43" y="156.25" width="10.52" height="3.72" fill="rgb(204, 226, 238)"/>
<rect x="2645.65" y="156.25" width="10.52" height="3.72" fill="rgb(248, 194, 167)"/>
<rect x="2655.88" y="156.25" width="10.52" height="3.72" fill="rgb(237, 150, 119)"/>
<rect x="2666.10" y="156.25" width="10.52" height="3.72" fill="rgb(215, 98, 78)"/>
<rect x="2676.32" y="156.25" width="10.52" height="3.72" fill="rgb(252, 220, 200)"/>
<rect x="2686.55" y="156.25" width="10.52" height="3.72" fill="rgb(247, 188, 160)"/>
<rect x="2696.78" y="156.25" width="10.52" height="3.72" fill="rgb(248, 191, 163)"/>
<rect x="2584.30" y="159.67" width="10.52" height="3.72" fill="rgb(65, 144, 193)"/>
<rect x="2594.53" y="159.67" width="10.52" height="3.72" fill="rgb(226, 237, 243)"/>
<rect x="2604.75" y="159.67" width="10.52" height="3.72" fill="rgb(250, 230, 219)"/>
<rect x="2614.98" y="159.67" width="10.52" height="3.72" fill="rgb(222, 235, 242)"/>
<rect x="2625.20" y="159.67" width="10.52" height="3.72" fill="rgb(251, 225, 209)"/>
<rect x="2635.43" y="159.67" width="10.52" height="3.72" fill="rgb(245, 246, 246)"/>
<rect x="2645.65" y="159.67" width="10.52" height="3.72" fill="rgb(250, 229, 217)"/>
<rect x="2655.88" y="159.67" width="10.52" height="3.72" fill="rgb(215, 100, 80)"/>
<rect x="2666.10" y="159.67" width="10.52" height="3.72" fill="rgb(214, 96, 77)"/>
<rect x="2676.32" y="159.67" width="10.52" height="3.72" fill="rgb(220, 111, 89)"/>
<rect x="2686.55" y="159.67" width="10.52" height="3.72" fill="rgb(246, 177, 145)"/>
<rect x="2696.78" y="159.67" width="10.52" height="3.72" fill="rgb(244, 167, 132)"/>
<rect x="2584.30" y="163.08" width="10.52" height="3.72" fill="rgb(90, 161, 202)"/>
<rect x="2594.53" y="163.08" width="10.52" height="3.72" fill="rgb(248, 237, 231)"/>
<rect x="2604.75" y="163.08" width="10.52" height="3.72" fill="rgb(247, 187, 159)"/>
<rect x="2614.98" y="163.08" width="10.52" height="3.72" fill="rgb(248, 239, 234)"/>
<rect x="2625.20" y="163.08" width="10.52" height="3.72" fill="rgb(248, 240, 235)"/>
<rect x="2635.43" y="163.08" width="10.52" height="3.72" fill="rgb(217, 104, 83)"/>
<rect x="2645.65" y="163.08" width="10.52" height="3.72" fill="rgb(247, 188, 160)"/>
<rect x="2655.88" y="163.08" width="10.52" height="3.72" fill="rgb(221, 112, 89)"/>
<rect x="2666.10" y="163.08" width="10.52" height="3.72" fill="rgb(238, 152, 120)"/>
<rect x="2676.32" y="163.08" width="10.52" height="3.72" fill="rgb(244, 168, 134)"/>
<rect x="2686.55" y="163.08" width="10.52" height="3.72" fill="rgb(250, 206, 182)"/>
<rect x="2696.78" y="163.08" width="10.52" height="3.72" fill="rgb(248, 189, 161)"/>
<rect x="2584.30" y="166.50" width="10.52" height="3.72" fill="rgb(134, 189, 218)"/>
<rect x="2594.53" y="166.50" width="10.52" height="3.72" fill="rgb(247, 183, 154)"/>
<rect x="2604.75" y="166.50" width="10.52" height="3.72" fill="rgb(244, 169, 136)"/>
<rect x="2614.98" y="166.50" width="10.52" height="3.72" fill="rgb(247, 242, 239)"/>
<rect x="2625.20" y="166.50" width="10.52" height="3.72" fill="rgb(248, 239, 233)"/>
<rect x="2635.43" y="166.50" width="10.52" height="3.72" fill="rgb(208, 84, 71)"/>
<rect x="2645.65" y="166.50" width="10.52" height="3.72" fill="rgb(231, 136, 107)"/>
<rect x="2655.88" y="166.50" width="10.52" height="3.72" fill="rgb(199, 66, 63)"/>
<rect x="2666.10" y="166.50" width="10.52" height="3.72" fill="rgb(223, 118, 94)"/>
<rect x="2676.32" y="166.50" width="10.52" height="3.72" fill="rgb(244, 169, 135)"/>
<rect x="2686.55" y="166.50" width="10.52" height="3.72" fill="rgb(246, 182, 152)"/>
<rect x="2696.78" y="166.50" width="10.52" height="3.72" fill="rgb(244, 169, 136)"/>
<rect x="2584.30" y="169.92" width="10.52" height="3.72" fill="rgb(81, 156, 199)"/>
<rect x="2594.53" y="169.92" width="10.52" height="3.72" fill="rgb(247, 244, 242)"/>
<rect x="2604.75" y="169.92" width="10.52" height="3.72" fill="rgb(240, 243, 245)"/>
<rect x="2614.98" y="169.92" width="10.52" height="3.72" fill="rgb(222, 235, 242)"/>
<rect x="2625.20" y="169.92" width="10.52" height="3.72" fill="rgb(251, 227, 214)"/>
<rect x="2635.43" y="169.92" width="10.52" height="3.72" fill="rgb(245, 171, 137)"/>
<rect x="2645.65" y="169.92" width="10.52" height="3.72" fill="rgb(245, 172, 139)"/>
<rect x="2655.88" y="169.92" width="10.52" height="3.72" fill="rgb(246, 179, 147)"/>
<rect x="2666.10" y="169.92" width="10.52" height="3.72" fill="rgb(227, 126, 100)"/>
<rect x="2676.32" y="169.92" width="10.52" height="3.72" fill="rgb(242, 160, 126)"/>
<rect x="2686.55" y="169.92" width="10.52" height="3.72" fill="rgb(251, 207, 184)"/>
<rect x="2696.78" y="169.92" width="10.52" height="3.72" fill="rgb(247, 185, 155)"/>
<rect x="2584.30" y="173.33" width="10.52" height="3.72" fill="rgb(223, 236, 242)"/>
<rect x="2594.53" y="173.33" width="10.52" height="3.72" fill="rgb(239, 243, 245)"/>
<rect x="2604.75" y="173.33" width="10.52" height="3.72" fill="rgb(251, 225, 209)"/>
<rect x="2614.98" y="173.33" width="10.52" height="3.72" fill="rgb(238, 242, 245)"/>
<rect x="2625.20" y="173.33" width="10.52" height="3.72" fill="rgb(249, 235, 226)"/>
<rect x="2635.43" y="173.33" width="10.52" height="3.72" fill="rgb(229, 131, 104)"/>
<rect x="2645.65" y="173.33" width="10.52" height="3.72" fill="rgb(239, 154, 121)"/>
<rect x="2655.88" y="173.33" width="10.52" height="3.72" fill="rgb(209, 86, 72)"/>
<rect x="2666.10" y="173.33" width="10.52" height="3.72" fill="rgb(228, 128, 101)"/>
<rect x="2676.32" y="173.33" width="10.52" height="3.72" fill="rgb(247, 188, 160)"/>
<rect x="2686.55" y="173.33" width="10.52" height="3.72" fill="rgb(252, 220, 200)"/>
<rect x="2696.78" y="173.33" width="10.52" height="3.72" fill="rgb(252, 213, 191)"/>
<rect x="2584.30" y="176.75" width="10.52" height="3.72" fill="rgb(87, 159, 201)"/>
<rect x="2594.53" y="176.75" width="10.52" height="3.72" fill="rgb(251, 226, 211)"/>
<rect x="2604.75" y="176.75" width="10.52" height="3.72" fill="rgb(250, 201, 176)"/>
<rect x="2614.98" y="176.75" width="10.52" height="3.72" fill="rgb(251, 227, 214)"/>
<rect x="2625.20" y="176.75" width="10.52" height="3.72" fill="rgb(252, 217, 197)"/>
<rect x="2635.43" y="176.75" width="10.52" height="3.72" fill="rgb(239, 243, 245)"/>
<rect x="2645.65" y="176.75" width="10.52" height="3.72" fill="rgb(217, 103, 82)"/>
<rect x="2655.88" y="176.75" width="10.52" height="3.72" fill="rgb(236, 147, 116)"/>
<rect x="2666.10" y="176.75" width="10.52" height="3.72" fill="rgb(232, 138, 109)"/>
<rect x="2676.32" y="176.75" width="10.52" height="3.72" fill="rgb(248, 191, 163)"/>
<rect x="2686.55" y="176.75" width="10.52" height="3.72" fill="rgb(224, 119, 95)"/>
<rect x="2696.78" y="176.75" width="10.52" height="3.72" fill="rgb(243, 164, 129)"/>
<rect x="2584.30" y="180.17" width="10.52" height="3.72" fill="rgb(87, 159, 201)"/>
<rect x="2594.53" y="180.17" width="10.52" height="3.72" fill="rgb(250, 231, 221)"/>
<rect x="2604.75" y="180.17" width="10.52" height="3.72" fill="rgb(243, 164, 129)"/>
<rect x="2614.98" y="180.17" width="10.52" height="3.72" fill="rgb(247, 244, 243)"/>
<rect x="2625.20" y="180.17" width="10.52" height="3.72" fill="rgb(248, 240, 235)"/>
<rect x="2635.43" y="180.17" width="10.52" height="3.72" fill="rgb(250, 229, 217)"/>
<rect x="2645.65" y="180.17" width="10.52" height="3.72" fill="rgb(239, 154, 121)"/>
<rect x="2655.88" y="180.17" width="10.52" height="3.72" fill="rgb(205, 79, 69)"/>
<rect x="2666.10" y="180.17" width="10.52" height="3.72" fill="rgb(235, 144, 114)"/>
<rect x="2676.32" y="180.17" width="10.52" height="3.72" fill="rgb(244, 165, 130)"/>
<rect x="2686.55" y="180.17" width="10.52" height="3.72" fill="rgb(239, 155, 122)"/>
<rect x="2696.78" y="180.17" width="10.52" height="3.72" fill="rgb(252, 221, 203)"/>
<rect x="2584.30" y="183.58" width="10.52" height="3.72" fill="rgb(180, 214, 231)"/>
<rect x="2594.53" y="183.58" width="10.52" height="3.72" fill="rgb(55, 131, 187)"/>
<rect x="2604.75" y="183.58" width="10.52" height="3.72" fill="rgb(252, 217, 197)"/>
<rect x="2614.98" y="183.58" width="10.52" height="3.72" fill="rgb(247, 183, 153)"/>
<rect x="2625.20" y="183.58" width="10.52" height="3.72" fill="rgb(249, 233, 223)"/>
<rect x="2635.43" y="183.58" width="10.52" height="3.72" fill="rgb(225, 236, 242)"/>
<rect x="2645.65" y="183.58" width="10.52" height="3.72" fill="rgb(248, 194, 167)"/>
<rect x="2655.88" y="183.58" width="10.52" height="3.72" fill="rgb(214, 97, 78)"/>
<rect x="2666.10" y="183.58" width="10.52" height="3.72" fill="rgb(201, 71, 65)"/>
<rect x="2676.32" y="183.58" width="10.52" height="3.72" fill="rgb(246, 177, 146)"/>
<rect x="2686.55" y="183.58" width="10.52" height="3.72" fill="rgb(250, 201, 176)"/>
<rect x="2696.78" y="183.58" width="10.52" height="3.72" fill="rgb(247, 184, 155)"/>
<rect x="2584.30" y="187.00" width="10.52" height="3.72" fill="rgb(83, 157, 200)"/>
<rect x="2594.53" y="187.00" width="10.52" height="3.72" fill="rgb(30, 96, 164)"/>
<rect x="2604.75" y="187.00" width="10.52" height="3.72" fill="rgb(250, 206, 182)"/>
<rect x="2614.98" y="187.00" width="10.52" height="3.72" fill="rgb(240, 243, 245)"/>
<rect x="2625.20" y="187.00" width="10.52" height="3.72" fill="rgb(249, 234, 226)"/>
<rect x="2635.43" y="187.00" width="10.52" height="3.72" fill="rgb(222, 235, 242)"/>
<rect x="2645.65" y="187.00" width="10.52" height="3.72" fill="rgb(252, 221, 202)"/>
<rect x="2655.88" y="187.00" width="10.52" height="3.72" fill="rgb(229, 132, 104)"/>
<rect x="2666.10" y="187.00" width="10.52" height="3.72" fill="rgb(226, 125, 99)"/>
<rect x="2676.32" y="187.00" width="10.52" height="3.72" fill="rgb(227, 126, 100)"/>
<rect x="2686.55" y="187.00" width="10.52" height="3.72" fill="rgb(250, 202, 178)"/>
<rect x="2696.78" y="187.00" width="10.52" height="3.72" fill="rgb(236, 148, 117)"/>
<rect x="2584.30" y="190.42" width="10.52" height="3.72" fill="rgb(124, 183, 214)"/>
<rect x="2594.53" y="190.42" width="10.52" height="3.72" fill="rgb(25, 87, 151)"/>
<rect x="2604.75" y="190.42" width="10.52" height="3.72" fill="rgb(246, 179, 148)"/>
<rect x="2614.98" y="190.42" width="10.52" height="3.72" fill="rgb(248, 239, 234)"/>
<rect x="2625.20" y="190.42" width="10.52" height="3.72" fill="rgb(209, 229, 240)"/>
<rect x="2635.43" y="190.42" width="10.52" height="3.72" fill="rgb(248, 238, 232)"/>
<rect x="2645.65" y="190.42" width="10.52" height="3.72" fill="rgb(240, 156, 123)"/>
<rect x="2655.88" y="190.42" width="10.52" height="3.72" fill="rgb(241, 160, 126)"/>
<rect x="2666.10" y="190.42" width="10.52" height="3.72" fill="rgb(180, 29, 45)"/>
<rect x="2676.32" y="190.42" width="10.52" height="3.72" fill="rgb(244, 170, 136)"/>
<rect x="2686.55" y="190.42" width="10.52" height="3.72" fill="rgb(251, 211, 189)"/>
<rect x="2696.78" y="190.42" width="10.52" height="3.72" fill="rgb(229, 132, 104)"/>
<rect x="2584.30" y="193.83" width="10.52" height="3.72" fill="rgb(107, 172, 208)"/>
<rect x="2594.53" y="193.83" width="10.52" height="3.72" fill="rgb(24, 86, 150)"/>
<rect x="2604.75" y="193.83" width="10.52" height="3.72" fill="rgb(240, 243, 245)"/>
<rect x="2614.98" y="193.83" width="10.52" height="3.72" fill="rgb(248, 238, 231)"/>
<rect x="2625.20" y="193.83" width="10.52" height="3.72" fill="rgb(243, 245, 246)"/>
<rect x="2635.43" y="193.83" width="10.52" height="3.72" fill="rgb(248, 237, 231)"/>
<rect x="2645.65" y="193.83" width="10.52" height="3.72" fill="rgb(246, 178, 146)"/>
<rect x="2655.88" y="193.83" width="10.52" height="3.72" fill="rgb(236, 147, 116)"/>
<rect x="2666.10" y="193.83" width="10.52" height="3.72" fill="rgb(230, 134, 106)"/>
<rect x="2676.32" y="193.83" width="10.52" height="3.72" fill="rgb(214, 97, 78)"/>
<rect x="2686.55" y="193.83" width="10.52" height="3.72" fill="rgb(212, 93, 75)"/>
<rect x="2696.78" y="193.83" width="10.52" height="3.72" fill="rgb(226, 123, 98)"/>
<rect x="2584.30" y="197.25" width="10.52" height="3.72" fill="rgb(107, 172, 208)"/>
<rect x="2594.53" y="197.25" width="10.52" height="3.72" fill="rgb(31, 99, 168)"/>
<rect x="2604.75" y="197.25" width="10.52" height="3.72" fill="rgb(252, 219, 199)"/>
<rect x="2614.98" y="197.25" width="10.52" height="3.72" fill="rgb(250, 205, 181)"/>
<rect x="2625.20" y="197.25" width="10.52" height="3.72" fill="rgb(251, 227, 213)"/>
<rect x="2635.43" y="197.25" width="10.52" height="3.72" fill="rgb(235, 241, 244)"/>
<rect x="2645.65" y="197.25" width="10.52" height="3.72" fill="rgb(251, 227, 214)"/>
<rect x="2655.88" y="197.25" width="10.52" height="3.72" fill="rgb(222, 115, 92)"/>
<rect x="2666.10" y="197.25" width="10.52" height="3.72" fill="rgb(237, 149, 118)"/>
<rect x="2676.32" y="197.25" width="10.52" height="3.72" fill="rgb(245, 175, 143)"/>
<rect x="2686.55" y="197.25" width="10.52" height="3.72" fill="rgb(232, 137, 109)"/>
<rect x="2696.78" y="197.25" width="10.52" height="3.72" fill="rgb(219, 109, 87)"/>
<rect x="2584.30" y="200.67" width="10.52" height="3.72" fill="rgb(133, 189, 217)"/>
<rect x="2594.53" y="200.67" width="10.52" height="3.72" fill="rgb(45, 118, 180)"/>
<rect x="2604.75" y="200.67" width="10.52" height="3.72" fill="rgb(249, 197, 171)"/>
<rect x="2614.98" y="200.67" width="10.52" height="3.72" fill="rgb(249, 200, 175)"/>
<rect x="2625.20" y="200.67" width="10.52" height="3.72" fill="rgb(250, 228, 215)"/>
<rect x="2635.43" y="200.67" width="10.52" height="3.72" fill="rgb(207, 228, 239)"/>
<rect x="2645.65" y="200.67" width="10.52" height="3.72" fill="rgb(228, 128, 102)"/>
<rect x="2655.88" y="200.67" width="10.52" height="3.72" fill="rgb(221, 112, 89)"/>
<rect x="2666.10" y="200.67" width="10.52" height="3.72" fill="rgb(103, 0, 31)"/>
<rect x="2676.32" y="200.67" width="10.52" height="3.72" fill="rgb(248, 192, 165)"/>
<rect x="2686.55" y="200.67" width="10.52" height="3.72" fill="rgb(245, 173, 141)"/>
<rect x="2696.78" y="200.67" width="10.52" height="3.72" fill="rgb(244, 170, 136)"/>
<rect x="2584.30" y="204.08" width="10.52" height="3.72" fill="rgb(146, 197, 222)"/>
<rect x="2594.53" y="204.08" width="10.52" height="3.72" fill="rgb(40, 111, 176)"/>
<rect x="2604.75" y="204.08" width="10.52" height="3.72" fill="rgb(248, 239, 233)"/>
<rect x="2614.98" y="204.08" width="10.52" height="3.72" fill="rgb(201, 225, 237)"/>
<rect x="2625.20" y="204.08" width="10.52" height="3.72" fill="rgb(248, 238, 231)"/>
<rect x="2635.43" y="204.08" width="10.52" height="3.72" fill="rgb(230, 239, 243)"/>
<rect x="2645.65" y="204.08" width="10.52" height="3.72" fill="rgb(251, 212, 190)"/>
<rect x="2655.88" y="204.08" width="10.52" height="3.72" fill="rgb(177, 23, 42)"/>
<rect x="2666.10" y="204.08" width="10.52" height="3.72" fill="rgb(202, 72, 65)"/>
<rect x="2676.32" y="204.08" width="10.52" height="3.72" fill="rgb(228, 129, 102)"/>
<rect x="2686.55" y="204.08" width="10.52" height="3.72" fill="rgb(247, 188, 159)"/>
<rect x="2696.78" y="204.08" width="10.52" height="3.72" fill="rgb(235, 144, 114)"/>
<rect x="2584.30" y="207.50" width="10.52" height="3.72" fill="rgb(115, 177, 211)"/>
<rect x="2594.53" y="207.50" width="10.52" height="3.72" fill="rgb(48, 122, 182)"/>
<rect x="2604.75" y="207.50" width="10.52" height="3.72" fill="rgb(246, 178, 147)"/>
<rect x="2614.98" y="207.50" width="10.52" height="3.72" fill="rgb(250, 231, 220)"/>
<rect x="2625.20" y="207.50" width="10.52" height="3.72" fill="rgb(250, 230, 218)"/>
<rect x="2635.43" y="207.50" width="10.52" height="3.72" fill="rgb(246, 246, 246)"/>
<rect x="2645.65" y="207.50" width="10.52" height="3.72" fill="rgb(250, 231, 220)"/>
<rect x="2655.88" y="207.50" width="10.52" height="3.72" fill="rgb(240, 157, 124)"/>
<rect x="2666.10" y="207.50" width="10.52" height="3.72" fill="rgb(212, 92, 75)"/>
<rect x="2676.32" y="207.50" width="10.52" height="3.72" fill="rgb(247, 188, 160)"/>
<rect x="2686.55" y="207.50" width="10.52" height="3.72" fill="rgb(249, 198, 172)"/>
<rect x="2696.78" y="207.50" width="10.52" height="3.72" fill="rgb(233, 141, 112)"/>
<rect x="2584.30" y="210.92" width="10.52" height="3.72" fill="rgb(78, 154, 198)"/>
<rect x="2594.53" y="210.92" width="10.52" height="3.72" fill="rgb(38, 109, 175)"/>
<rect x="2604.75" y="210.92" width="10.52" height="3.72" fill="rgb(245, 174, 141)"/>
<rect x="2614.98" y="210.92" width="10.52" height="3.72" fill="rgb(243, 245, 246)"/>
<rect x="2625.20" y="210.92" width="10.52" height="3.72" fill="rgb(249, 200, 175)"/>
<rect x="2635.43" y="210.92" width="10.52" height="3.72" fill="rgb(248, 240, 235)"/>
<rect x="2645.65" y="210.92" width="10.52" height="3.72" fill="rgb(242, 162, 128)"/>
<rect x="2655.88" y="210.92" width="10.52" height="3.72" fill="rgb(201, 71, 65)"/>
<rect x="2666.10" y="210.92" width="10.52" height="3.72" fill="rgb(249, 198, 173)"/>
<rect x="2676.32" y="210.92" width="10.52" height="3.72" fill="rgb(246, 178, 147)"/>
<rect x="2686.55" y="210.92" width="10.52" height="3.72" fill="rgb(252, 216, 195)"/>
<rect x="2696.78" y="210.92" width="10.52" height="3.72" fill="rgb(245, 176, 144)"/>
<rect x="2584.30" y="214.33" width="10.52" height="3.72" fill="rgb(120, 181, 213)"/>
<rect x="2594.53" y="214.33" width="10.52" height="3.72" fill="rgb(100, 168, 206)"/>
<rect x="2604.75" y="214.33" width="10.52" height="3.72" fill="rgb(45, 118, 180)"/>
<rect x="2614.98" y="214.33" width="10.52" height="3.72" fill="rgb(250, 206, 182)"/>
<rect x="2625.20" y="214.33" width="10.52" height="3.72" fill="rgb(247, 245, 244)"/>
<rect x="2635.43" y="214.33" width="10.52" height="3.72" fill="rgb(241, 244, 246)"/>
<rect x="2645.65" y="214.33" width="10.52" height="3.72" fill="rgb(247, 188, 160)"/>
<rect x="2655.88" y="214.33" width="10.52" height="3.72" fill="rgb(205, 79, 69)"/>
<rect x="2666.10" y="214.33" width="10.52" height="3.72" fill="rgb(221, 112, 89)"/>
<rect x="2676.32" y="214.33" width="10.52" height="3.72" fill="rgb(249, 197, 171)"/>
<rect x="2686.55" y="214.33" width="10.52" height="3.72" fill="rgb(246, 182, 151)"/>
<rect x="2696.78" y="214.33" width="10.52" height="3.72" fill="rgb(251, 209, 186)"/>
<rect x="2584.30" y="217.75" width="10.52" height="3.72" fill="rgb(182, 215, 232)"/>
<rect x="2594.53" y="217.75" width="10.52" height="3.72" fill="rgb(74, 151, 197)"/>
<rect x="2604.75" y="217.75" width="10.52" height="3.72" fill="rgb(56, 132, 187)"/>
<rect x="2614.98" y="217.75" width="10.52" height="3.72" fill="rgb(248, 237, 231)"/>
<rect x="2625.20" y="217.75" width="10.52" height="3.72" fill="rgb(247, 246, 246)"/>
<rect x="2635.43" y="217.75" width="10.52" height="3.72" fill="rgb(233, 240, 244)"/>
<rect x="2645.65" y="217.75" width="10.52" height="3.72" fill="rgb(243, 162, 128)"/>
<rect x="2655.88" y="217.75" width="10.52" height="3.72" fill="rgb(241, 159, 125)"/>
<rect x="2666.10" y="217.75" width="10.52" height="3.72" fill="rgb(235, 145, 114)"/>
<rect x="2676.32" y="217.75" width="10.52" height="3.72" fill="rgb(218, 107, 85)"/>
<rect x="2686.55" y="217.75" width="10.52" height="3.72" fill="rgb(216, 101, 80)"/>
<rect x="2696.78" y="217.75" width="10.52" height="3.72" fill="rgb(235, 144, 114)"/>
<rect x="2584.30" y="221.17" width="10.52" height="3.72" fill="rgb(152, 200, 223)"/>
<rect x="2594.53" y="221.17" width="10.52" height="3.72" fill="rgb(57, 134, 188)"/>
<rect x="2604.75" y="221.17" width="10.52" height="3.72" fill="rgb(93, 163, 204)"/>
<rect x="2614.98" y="221.17" width="10.52" height="3.72" fill="rgb(241, 244, 246)"/>
<rect x="2625.20" y="221.17" width="10.52" height="3.72" fill="rgb(249, 234, 225)"/>
<rect x="2635.43" y="221.17" width="10.52" height="3.72" fill="rgb(248, 240, 236)"/>
<rect x="2645.65" y="221.17" width="10.52" height="3.72" fill="rgb(230, 134, 106)"/>
<rect x="2655.88" y="221.17" width="10.52" height="3.72" fill="rgb(230, 134, 106)"/>
<rect x="2666.10" y="221.17" width="10.52" height="3.72" fill="rgb(215, 99, 79)"/>
<rect x="2676.32" y="221.17" width="10.52" height="3.72" fill="rgb(248, 193, 166)"/>
<rect x="2686.55" y="221.17" width="10.52" height="3.72" fill="rgb(248, 193, 166)"/>
<rect x="2696.78" y="221.17" width="10.52" height="3.72" fill="rgb(246, 182, 152)"/>
<rect x="2584.30" y="224.58" width="10.52" height="3.72" fill="rgb(130, 187, 216)"/>
<rect x="2594.53" y="224.58" width="10.52" height="3.72" fill="rgb(81, 156, 199)"/>
<rect x="2604.75" y="224.58" width="10.52" height="3.72" fill="rgb(31, 99, 167)"/>
<rect x="2614.98" y="224.58" width="10.52" height="3.72" fill="rgb(237, 242, 245)"/>
<rect x="2625.20" y="224.58" width="10.52" height="3.72" fill="rgb(247, 243, 240)"/>
<rect x="2635.43" y="224.58" width="10.52" height="3.72" fill="rgb(247, 243, 240)"/>
<rect x="2645.65" y="224.58" width="10.52" height="3.72" fill="rgb(244, 167, 132)"/>
<rect x="2655.88" y="224.58" width="10.52" height="3.72" fill="rgb(245, 176, 145)"/>
<rect x="2666.10" y="224.58" width="10.52" height="3.72" fill="rgb(212, 93, 75)"/>
<rect x="2676.32" y="224.58" width="10.52" height="3.72" fill="rgb(251, 211, 188)"/>
<rect x="2686.55" y="224.58" width="10.52" height="3.72" fill="rgb(232, 139, 110)"/>
<rect x="2696.78" y="224.58" width="10.52" height="3.72" fill="rgb(248, 193, 166)"/>
<g fill="none" stroke="#111" stroke-width="1"><path d="M2609,53 L2677.6,53 L2677.6,87 M2666,87 L2689,87 L2689,102 M2661,93 L2672,93 M2592,103 L2592,74 L2600,74 M2625,79 L2645,79 M2636,72 L2636,79 M2641,79 L2641,102"/></g>
<g fill="none" stroke="#999" stroke-width="0.8"><path d="M2595,64 L2623,64 M2620,95 L2630,95 L2630,102"/></g>
<g fill="none" stroke="#111" stroke-width="1"><path d="M2533,158 L2533,211 L2545,211 M2559,117 L2559,128 L2563,128 M2571,123 L2583,123 M2563,145 L2575,145 M2565,147 L2583,147 M2573,163 L2573,167 L2583,167 M2562,188 L2583,188 M2557,200 L2568,200 M2563,212 L2563,216 L2570,216 M2550,218 L2558,218 M2574,197 L2584,197"/></g>
<g fill="none" stroke="#888" stroke-width="0.8"><path d="M2560,153 L2560,156 L2566,156 M2542,171 L2583,171 M2545,200 L2545,204 L2583,204"/></g>
<line x1="2708.5" y1="106.7" x2="2718.2" y2="106.7" stroke="#222" stroke-width="1.1" stroke-dasharray="1,0.8" opacity="0.5"/>
<line x1="2708.5" y1="110.1" x2="2718.1" y2="110.1" stroke="#222" stroke-width="1.1" stroke-dasharray="1,0.8" opacity="0.5"/>
<line x1="2708.5" y1="113.5" x2="2719.4" y2="113.5" stroke="#222" stroke-width="1.1" stroke-dasharray="1,0.8" opacity="0.5"/>
<line x1="2708.5" y1="117.0" x2="2716.7" y2="117.0" stroke="#222" stroke-width="1.1" stroke-dasharray="1,0.8" opacity="0.5"/>
<line x1="2708.5" y1="120.4" x2="2714.3" y2="120.4" stroke="#222" stroke-width="1.1" stroke-dasharray="1,0.8" opacity="0.5"/>
<line x1="2708.5" y1="123.8" x2="2713.8" y2="123.8" stroke="#222" stroke-width="1.1" stroke-dasharray="1,0.8" opacity="0.5"/>
<line x1="2708.5" y1="127.2" x2="2715.1" y2="127.2" stroke="#222" stroke-width="1.1" stroke-dasharray="1,0.8" opacity="0.5"/>
<line x1="2708.5" y1="130.6" x2="2713.8" y2="130.6" stroke="#222" stroke-width="1.1" stroke-dasharray="1,0.8" opacity="0.5"/>
<line x1="2708.5" y1="134.0" x2="2720.6" y2="134.0" stroke="#222" stroke-width="1.1" stroke-dasharray="1,0.8" opacity="0.5"/>
<line x1="2708.5" y1="137.4" x2="2717.3" y2="137.4" stroke="#222" stroke-width="1.1" stroke-dasharray="1,0.8" opacity="0.5"/>
<line x1="2708.5" y1="140.9" x2="2719.6" y2="140.9" stroke="#222" stroke-width="1.1" stroke-dasharray="1,0.8" opacity="0.5"/>
<line x1="2708.5" y1="144.3" x2="2713.5" y2="144.3" stroke="#222" stroke-width="1.1" stroke-dasharray="1,0.8" opacity="0.5"/>
<line x1="2708.5" y1="147.7" x2="2717.3" y2="147.7" stroke="#222" stroke-width="1.1" stroke-dasharray="1,0.8" opacity="0.5"/>
<line x1="2708.5" y1="151.1" x2="2720.6" y2="151.1" stroke="#222" stroke-width="1.1" stroke-dasharray="1,0.8" opacity="0.5"/>
<line x1="2708.5" y1="154.5" x2="2718.5" y2="154.5" stroke="#222" stroke-width="1.1" stroke-dasharray="1,0.8" opacity="0.5"/>
<line x1="2708.5" y1="157.9" x2="2716.9" y2="157.9" stroke="#222" stroke-width="1.1" stroke-dasharray="1,0.8" opacity="0.5"/>
<line x1="2708.5" y1="161.4" x2="2717.2" y2="161.4" stroke="#222" stroke-width="1.1" stroke-dasharray="1,0.8" opacity="0.5"/>
<line x1="2708.5" y1="164.8" x2="2714.3" y2="164.8" stroke="#222" stroke-width="1.1" stroke-dasharray="1,0.8" opacity="0.5"/>
<line x1="2708.5" y1="168.2" x2="2714.7" y2="168.2" stroke="#222" stroke-width="1.1" stroke-dasharray="1,0.8" opacity="0.5"/>
<line x1="2708.5" y1="171.6" x2="2714.8" y2="171.6" stroke="#222" stroke-width="1.1" stroke-dasharray="1,0.8" opacity="0.5"/>
<line x1="2708.5" y1="175.0" x2="2716.5" y2="175.0" stroke="#222" stroke-width="1.1" stroke-dasharray="1,0.8" opacity="0.5"/>
<line x1="2708.5" y1="178.4" x2="2716.6" y2="178.4" stroke="#222" stroke-width="1.1" stroke-dasharray="1,0.8" opacity="0.5"/>
<line x1="2708.5" y1="181.9" x2="2720.5" y2="181.9" stroke="#222" stroke-width="1.1" stroke-dasharray="1,0.8" opacity="0.5"/>
<line x1="2708.5" y1="185.3" x2="2714.7" y2="185.3" stroke="#222" stroke-width="1.1" stroke-dasharray="1,0.8" opacity="0.5"/>
<line x1="2708.5" y1="188.7" x2="2715.5" y2="188.7" stroke="#222" stroke-width="1.1" stroke-dasharray="1,0.8" opacity="0.5"/>
<line x1="2708.5" y1="192.1" x2="2715.7" y2="192.1" stroke="#222" stroke-width="1.1" stroke-dasharray="1,0.8" opacity="0.5"/>
<line x1="2708.5" y1="195.5" x2="2714.8" y2="195.5" stroke="#222" stroke-width="1.1" stroke-dasharray="1,0.8" opacity="0.5"/>
<line x1="2708.5" y1="198.9" x2="2715.8" y2="198.9" stroke="#222" stroke-width="1.1" stroke-dasharray="1,0.8" opacity="0.5"/>
<line x1="2708.5" y1="202.4" x2="2715.4" y2="202.4" stroke="#222" stroke-width="1.1" stroke-dasharray="1,0.8" opacity="0.5"/>
<line x1="2708.5" y1="205.8" x2="2717.4" y2="205.8" stroke="#222" stroke-width="1.1" stroke-dasharray="1,0.8" opacity="0.5"/>
<line x1="2708.5" y1="209.2" x2="2713.8" y2="209.2" stroke="#222" stroke-width="1.1" stroke-dasharray="1,0.8" opacity="0.5"/>
<line x1="2708.5" y1="212.6" x2="2720.9" y2="212.6" stroke="#222" stroke-width="1.1" stroke-dasharray="1,0.8" opacity="0.5"/>
<line x1="2708.5" y1="216.0" x2="2716.5" y2="216.0" stroke="#222" stroke-width="1.1" stroke-dasharray="1,0.8" opacity="0.5"/>
<line x1="2708.5" y1="219.4" x2="2721.0" y2="219.4" stroke="#222" stroke-width="1.1" stroke-dasharray="1,0.8" opacity="0.5"/>
<line x1="2708.5" y1="222.9" x2="2719.0" y2="222.9" stroke="#222" stroke-width="1.1" stroke-dasharray="1,0.8" opacity="0.5"/>
<line x1="2708.5" y1="226.3" x2="2718.9" y2="226.3" stroke="#222" stroke-width="1.1" stroke-dasharray="1,0.8" opacity="0.5"/>
<line x1="2589.4" y1="230" x2="2582.4" y2="237.0" stroke="#222" stroke-width="1" stroke-dasharray="1,0.8" opacity="0.55"/>
<line x1="2599.6" y1="230" x2="2595.4" y2="234.2" stroke="#222" stroke-width="1" stroke-dasharray="1,0.8" opacity="0.55"/>
<line x1="2609.9" y1="230" x2="2604.3" y2="235.6" stroke="#222" stroke-width="1" stroke-dasharray="1,0.8" opacity="0.55"/>
<line x1="2620.1" y1="230" x2="2613.1" y2="237.0" stroke="#222" stroke-width="1" stroke-dasharray="1,0.8" opacity="0.55"/>
<line x1="2630.3" y1="230" x2="2620.5" y2="239.8" stroke="#222" stroke-width="1" stroke-dasharray="1,0.8" opacity="0.55"/>
<line x1="2640.5" y1="230" x2="2633.5" y2="237.0" stroke="#222" stroke-width="1" stroke-dasharray="1,0.8" opacity="0.55"/>
<line x1="2650.8" y1="230" x2="2642.4" y2="238.4" stroke="#222" stroke-width="1" stroke-dasharray="1,0.8" opacity="0.55"/>
<line x1="2661.0" y1="230" x2="2656.8" y2="234.2" stroke="#222" stroke-width="1" stroke-dasharray="1,0.8" opacity="0.55"/>
<line x1="2671.2" y1="230" x2="2664.2" y2="237.0" stroke="#222" stroke-width="1" stroke-dasharray="1,0.8" opacity="0.55"/>
<line x1="2681.4" y1="230" x2="2677.2" y2="234.2" stroke="#222" stroke-width="1" stroke-dasharray="1,0.8" opacity="0.55"/>
<line x1="2691.7" y1="230" x2="2686.1" y2="235.6" stroke="#222" stroke-width="1" stroke-dasharray="1,0.8" opacity="0.55"/>
<line x1="2701.9" y1="230" x2="2692.1" y2="239.8" stroke="#222" stroke-width="1" stroke-dasharray="1,0.8" opacity="0.55"/>
<rect x="2792.90" y="53.60" width="2.15" height="3.91" fill="#8c564b"/>
<rect x="2794.85" y="53.60" width="2.23" height="3.91" fill="#c49c94"/>
<rect x="2796.88" y="53.60" width="3.93" height="3.91" fill="#9467bd"/>
<rect x="2800.61" y="53.60" width="2.31" height="3.91" fill="#c5b0d5"/>
<rect x="2802.72" y="53.60" width="4.01" height="3.91" fill="#ff9896"/>
<rect x="2806.53" y="53.60" width="6.02" height="3.91" fill="#d62728"/>
<rect x="2812.35" y="53.60" width="17.99" height="3.91" fill="#98df8a"/>
<rect x="2830.14" y="53.60" width="13.67" height="3.91" fill="#2ca02c"/>
<rect x="2843.61" y="53.60" width="21.65" height="3.91" fill="#ffbb78"/>
<rect x="2865.06" y="53.60" width="12.23" height="3.91" fill="#ff7f0e"/>
<rect x="2877.09" y="53.60" width="4.71" height="3.91" fill="#aec7e8"/>
<rect x="2881.60" y="53.60" width="22.80" height="3.91" fill="#1f77b4"/>
<line x1="2778.3" y1="55.60" x2="2791" y2="55.60" stroke="#222" stroke-width="1.2" stroke-dasharray="1,0.8" opacity="0.5"/>
<rect x="2792.90" y="58.21" width="1.69" height="3.91" fill="#8c564b"/>
<rect x="2794.39" y="58.21" width="2.28" height="3.91" fill="#c49c94"/>
<rect x="2796.47" y="58.21" width="1.42" height="3.91" fill="#9467bd"/>
<rect x="2797.68" y="58.21" width="1.11" height="3.91" fill="#c5b0d5"/>
<rect x="2798.60" y="58.21" width="0.86" height="3.91" fill="#ff9896"/>
<rect x="2799.26" y="58.21" width="6.73" height="3.91" fill="#d62728"/>
<rect x="2805.79" y="58.21" width="14.70" height="3.91" fill="#98df8a"/>
<rect x="2820.30" y="58.21" width="18.85" height="3.91" fill="#2ca02c"/>
<rect x="2838.95" y="58.21" width="22.37" height="3.91" fill="#ffbb78"/>
<rect x="2861.11" y="58.21" width="5.11" height="3.91" fill="#ff7f0e"/>
<rect x="2866.02" y="58.21" width="13.60" height="3.91" fill="#aec7e8"/>
<rect x="2879.42" y="58.21" width="24.98" height="3.91" fill="#1f77b4"/>
<line x1="2782.1" y1="60.21" x2="2791" y2="60.21" stroke="#222" stroke-width="1.2" stroke-dasharray="1,0.8" opacity="0.5"/>
<rect x="2792.90" y="62.82" width="5.00" height="3.91" fill="#8c564b"/>
<rect x="2797.70" y="62.82" width="1.42" height="3.91" fill="#c49c94"/>
<rect x="2798.91" y="62.82" width="1.22" height="3.91" fill="#9467bd"/>
<rect x="2799.94" y="62.82" width="4.25" height="3.91" fill="#c5b0d5"/>
<rect x="2803.99" y="62.82" width="2.67" height="3.91" fill="#ff9896"/>
<rect x="2806.46" y="62.82" width="7.86" height="3.91" fill="#d62728"/>
<rect x="2814.12" y="62.82" width="11.43" height="3.91" fill="#98df8a"/>
<rect x="2825.35" y="62.82" width="16.27" height="3.91" fill="#2ca02c"/>
<rect x="2841.41" y="62.82" width="18.70" height="3.91" fill="#ffbb78"/>
<rect x="2859.91" y="62.82" width="22.77" height="3.91" fill="#ff7f0e"/>
<rect x="2882.48" y="62.82" width="11.95" height="3.91" fill="#aec7e8"/>
<rect x="2894.22" y="62.82" width="10.18" height="3.91" fill="#1f77b4"/>
<line x1="2776.1" y1="64.82" x2="2791" y2="64.82" stroke="#222" stroke-width="1.2" stroke-dasharray="1,0.8" opacity="0.5"/>
<rect x="2792.90" y="67.43" width="1.69" height="3.91" fill="#8c564b"/>
<rect x="2794.39" y="67.43" width="1.79" height="3.91" fill="#c49c94"/>
<rect x="2795.98" y="67.43" width="1.05" height="3.91" fill="#9467bd"/>
<rect x="2796.83" y="67.43" width="3.15" height="3.91" fill="#c5b0d5"/>
<rect x="2799.78" y="67.43" width="11.10" height="3.91" fill="#ff9896"/>
<rect x="2810.69" y="67.43" width="4.04" height="3.91" fill="#d62728"/>
<rect x="2814.52" y="67.43" width="11.83" height="3.91" fill="#98df8a"/>
<rect x="2826.15" y="67.43" width="10.50" height="3.91" fill="#2ca02c"/>
<rect x="2836.45" y="67.43" width="19.84" height="3.91" fill="#ffbb78"/>
<rect x="2856.09" y="67.43" width="5.99" height="3.91" fill="#ff7f0e"/>
<rect x="2861.88" y="67.43" width="13.90" height="3.91" fill="#aec7e8"/>
<rect x="2875.58" y="67.43" width="28.82" height="3.91" fill="#1f77b4"/>
<line x1="2781.4" y1="69.43" x2="2791" y2="69.43" stroke="#222" stroke-width="1.2" stroke-dasharray="1,0.8" opacity="0.5"/>
<rect x="2792.90" y="72.04" width="3.42" height="3.91" fill="#8c564b"/>
<rect x="2796.12" y="72.04" width="2.21" height="3.91" fill="#c49c94"/>
<rect x="2798.14" y="72.04" width="2.06" height="3.91" fill="#9467bd"/>
<rect x="2799.99" y="72.04" width="1.44" height="3.91" fill="#c5b0d5"/>
<rect x="2801.23" y="72.04" width="6.34" height="3.91" fill="#ff9896"/>
<rect x="2807.37" y="72.04" width="2.39" height="3.91" fill="#d62728"/>
<rect x="2809.55" y="72.04" width="17.11" height="3.91" fill="#98df8a"/>
<rect x="2826.46" y="72.04" width="8.60" height="3.91" fill="#2ca02c"/>
<rect x="2834.86" y="72.04" width="5.37" height="3.91" fill="#ffbb78"/>
<rect x="2840.03" y="72.04" width="5.92" height="3.91" fill="#ff7f0e"/>
<rect x="2845.75" y="72.04" width="21.50" height="3.91" fill="#aec7e8"/>
<rect x="2867.04" y="72.04" width="37.36" height="3.91" fill="#1f77b4"/>
<line x1="2779.0" y1="74.04" x2="2791" y2="74.04" stroke="#222" stroke-width="1.2" stroke-dasharray="1,0.8" opacity="0.5"/>
<rect x="2792.90" y="76.65" width="2.74" height="3.91" fill="#8c564b"/>
<rect x="2795.44" y="76.65" width="1.61" height="3.91" fill="#c49c94"/>
<rect x="2796.84" y="76.65" width="4.03" height="3.91" fill="#9467bd"/>
<rect x="2800.67" y="76.65" width="1.05" height="3.91" fill="#c5b0d5"/>
<rect x="2801.52" y="76.65" width="9.54" height="3.91" fill="#ff9896"/>
<rect x="2810.87" y="76.65" width="3.76" height="3.91" fill="#d62728"/>
<rect x="2814.42" y="76.65" width="12.14" height="3.91" fill="#98df8a"/>
<rect x="2826.37" y="76.65" width="5.99" height="3.91" fill="#2ca02c"/>
<rect x="2832.16" y="76.65" width="9.88" height="3.91" fill="#ffbb78"/>
<rect x="2841.84" y="76.65" width="13.83" height="3.91" fill="#ff7f0e"/>
<rect x="2855.48" y="76.65" width="30.12" height="3.91" fill="#aec7e8"/>
<rect x="2885.39" y="76.65" width="19.01" height="3.91" fill="#1f77b4"/>
<line x1="2778.2" y1="78.65" x2="2791" y2="78.65" stroke="#222" stroke-width="1.2" stroke-dasharray="1,0.8" opacity="0.5"/>
<rect x="2792.90" y="81.26" width="1.59" height="3.91" fill="#8c564b"/>
<rect x="2794.29" y="81.26" width="0.38" height="3.91" fill="#c49c94"/>
<rect x="2794.47" y="81.26" width="0.43" height="3.91" fill="#9467bd"/>
<rect x="2794.70" y="81.26" width="2.31" height="3.91" fill="#c5b0d5"/>
<rect x="2796.80" y="81.26" width="8.24" height="3.91" fill="#ff9896"/>
<rect x="2804.84" y="81.26" width="1.82" height="3.91" fill="#d62728"/>
<rect x="2806.46" y="81.26" width="9.04" height="3.91" fill="#98df8a"/>
<rect x="2815.30" y="81.26" width="10.09" height="3.91" fill="#2ca02c"/>
<rect x="2825.19" y="81.26" width="19.93" height="3.91" fill="#ffbb78"/>
<rect x="2844.92" y="81.26" width="20.97" height="3.91" fill="#ff7f0e"/>
<rect x="2865.69" y="81.26" width="10.51" height="3.91" fill="#aec7e8"/>
<rect x="2876.00" y="81.26" width="28.40" height="3.91" fill="#1f77b4"/>
<line x1="2775.3" y1="83.26" x2="2791" y2="83.26" stroke="#222" stroke-width="1.2" stroke-dasharray="1,0.8" opacity="0.5"/>
<rect x="2792.90" y="85.87" width="2.10" height="3.91" fill="#8c564b"/>
<rect x="2794.80" y="85.87" width="1.74" height="3.91" fill="#c49c94"/>
<rect x="2796.34" y="85.87" width="1.91" height="3.91" fill="#9467bd"/>
<rect x="2798.05" y="85.87" width="1.18" height="3.91" fill="#c5b0d5"/>
<rect x="2799.03" y="85.87" width="2.78" height="3.91" fill="#ff9896"/>
<rect x="2801.61" y="85.87" width="25.79" height="3.91" fill="#d62728"/>
<rect x="2827.20" y="85.87" width="2.32" height="3.91" fill="#98df8a"/>
<rect x="2829.32" y="85.87" width="2.79" height="3.91" fill="#2ca02c"/>
<rect x="2831.91" y="85.87" width="18.41" height="3.91" fill="#ffbb78"/>
<rect x="2850.12" y="85.87" width="17.64" height="3.91" fill="#ff7f0e"/>
<rect x="2867.56" y="85.87" width="12.07" height="3.91" fill="#aec7e8"/>
<rect x="2879.43" y="85.87" width="24.97" height="3.91" fill="#1f77b4"/>
<line x1="2782.6" y1="87.87" x2="2791" y2="87.87" stroke="#222" stroke-width="1.2" stroke-dasharray="1,0.8" opacity="0.5"/>
<rect x="2792.90" y="90.48" width="1.74" height="3.91" fill="#8c564b"/>
<rect x="2794.44" y="90.48" width="0.79" height="3.91" fill="#c49c94"/>
<rect x="2795.03" y="90.48" width="1.90" height="3.91" fill="#9467bd"/>
<rect x="2796.73" y="90.48" width="0.72" height="3.91" fill="#c5b0d5"/>
<rect x="2797.25" y="90.48" width="1.05" height="3.91" fill="#ff9896"/>
<rect x="2798.10" y="90.48" width="1.92" height="3.91" fill="#d62728"/>
<rect x="2799.81" y="90.48" width="13.89" height="3.91" fill="#98df8a"/>
<rect x="2813.50" y="90.48" width="16.20" height="3.91" fill="#2ca02c"/>
<rect x="2829.50" y="90.48" width="20.16" height="3.91" fill="#ffbb78"/>
<rect x="2849.46" y="90.48" width="13.94" height="3.91" fill="#ff7f0e"/>
<rect x="2863.20" y="90.48" width="8.88" height="3.91" fill="#aec7e8"/>
<rect x="2871.88" y="90.48" width="32.52" height="3.91" fill="#1f77b4"/>
<line x1="2778.8" y1="92.48" x2="2791" y2="92.48" stroke="#222" stroke-width="1.2" stroke-dasharray="1,0.8" opacity="0.5"/>
<rect x="2792.90" y="95.09" width="2.82" height="3.91" fill="#8c564b"/>
<rect x="2795.52" y="95.09" width="0.26" height="3.91" fill="#c49c94"/>
<rect x="2795.58" y="95.09" width="1.10" height="3.91" fill="#9467bd"/>
<rect x="2796.48" y="95.09" width="2.88" height="3.91" fill="#c5b0d5"/>
<rect x="2799.16" y="95.09" width="10.37" height="3.91" fill="#ff9896"/>
<rect x="2809.33" y="95.09" width="4.90" height="3.91" fill="#d62728"/>
<rect x="2814.03" y="95.09" width="9.81" height="3.91" fill="#98df8a"/>
<rect x="2823.64" y="95.09" width="8.69" height="3.91" fill="#2ca02c"/>
<rect x="2832.13" y="95.09" width="17.47" height="3.91" fill="#ffbb78"/>
<rect x="2849.40" y="95.09" width="23.31" height="3.91" fill="#ff7f0e"/>
<rect x="2872.51" y="95.09" width="10.62" height="3.91" fill="#aec7e8"/>
<rect x="2882.93" y="95.09" width="21.47" height="3.91" fill="#1f77b4"/>
<line x1="2780.8" y1="97.09" x2="2791" y2="97.09" stroke="#222" stroke-width="1.2" stroke-dasharray="1,0.8" opacity="0.5"/>
<rect x="2792.90" y="99.70" width="2.24" height="3.91" fill="#8c564b"/>
<rect x="2794.94" y="99.70" width="0.22" height="3.91" fill="#c49c94"/>
<rect x="2794.95" y="99.70" width="2.40" height="3.91" fill="#9467bd"/>
<rect x="2797.15" y="99.70" width="2.50" height="3.91" fill="#c5b0d5"/>
<rect x="2799.45" y="99.70" width="0.43" height="3.91" fill="#ff9896"/>
<rect x="2799.67" y="99.70" width="2.58" height="3.91" fill="#d62728"/>
<rect x="2802.06" y="99.70" width="7.95" height="3.91" fill="#98df8a"/>
<rect x="2809.81" y="99.70" width="11.37" height="3.91" fill="#2ca02c"/>
<rect x="2820.98" y="99.70" width="13.26" height="3.91" fill="#ffbb78"/>
<rect x="2834.04" y="99.70" width="7.15" height="3.91" fill="#ff7f0e"/>
<rect x="2840.99" y="99.70" width="9.77" height="3.91" fill="#aec7e8"/>
<rect x="2850.56" y="99.70" width="53.84" height="3.91" fill="#1f77b4"/>
<line x1="2775.8" y1="101.70" x2="2791" y2="101.70" stroke="#222" stroke-width="1.2" stroke-dasharray="1,0.8" opacity="0.5"/>
<rect x="2792.90" y="104.31" width="1.91" height="3.91" fill="#8c564b"/>
<rect x="2794.61" y="104.31" width="0.46" height="3.91" fill="#c49c94"/>
<rect x="2794.86" y="104.31" width="0.71" height="3.91" fill="#9467bd"/>
<rect x="2795.37" y="104.31" width="0.30" height="3.91" fill="#c5b0d5"/>
<rect x="2795.47" y="104.31" width="7.42" height="3.91" fill="#ff9896"/>
<rect x="2802.69" y="104.31" width="1.15" height="3.91" fill="#d62728"/>
<rect x="2803.64" y="104.31" width="17.72" height="3.91" fill="#98df8a"/>
<rect x="2821.17" y="104.31" width="15.25" height="3.91" fill="#2ca02c"/>
<rect x="2836.22" y="104.31" width="9.17" height="3.91" fill="#ffbb78"/>
<rect x="2845.19" y="104.31" width="20.20" height="3.91" fill="#ff7f0e"/>
<rect x="2865.19" y="104.31" width="13.85" height="3.91" fill="#aec7e8"/>
<rect x="2878.84" y="104.31" width="25.56" height="3.91" fill="#1f77b4"/>
<line x1="2781.2" y1="106.31" x2="2791" y2="106.31" stroke="#222" stroke-width="1.2" stroke-dasharray="1,0.8" opacity="0.5"/>
<rect x="2792.90" y="108.92" width="1.70" height="3.91" fill="#8c564b"/>
<rect x="2794.40" y="108.92" width="0.61" height="3.91" fill="#c49c94"/>
<rect x="2794.81" y="108.92" width="1.90" height="3.91" fill="#9467bd"/>
<rect x="2796.51" y="108.92" width="2.60" height="3.91" fill="#c5b0d5"/>
<rect x="2798.91" y="108.92" width="7.63" height="3.91" fill="#ff9896"/>
<rect x="2806.34" y="108.92" width="0.46" height="3.91" fill="#d62728"/>
<rect x="2806.60" y="108.92" width="12.20" height="3.91" fill="#98df8a"/>
<rect x="2818.60" y="108.92" width="16.22" height="3.91" fill="#2ca02c"/>
<rect x="2834.62" y="108.92" width="23.00" height="3.91" fill="#ffbb78"/>
<rect x="2857.43" y="108.92" width="23.16" height="3.91" fill="#ff7f0e"/>
<rect x="2880.38" y="108.92" width="3.77" height="3.91" fill="#aec7e8"/>
<rect x="2883.95" y="108.92" width="20.45" height="3.91" fill="#1f77b4"/>
<line x1="2782.5" y1="110.92" x2="2791" y2="110.92" stroke="#222" stroke-width="1.2" stroke-dasharray="1,0.8" opacity="0.5"/>
<rect x="2792.90" y="113.53" width="3.46" height="3.91" fill="#8c564b"/>
<rect x="2796.16" y="113.53" width="0.65" height="3.91" fill="#c49c94"/>
<rect x="2796.61" y="113.53" width="3.87" height="3.91" fill="#9467bd"/>
<rect x="2800.28" y="113.53" width="1.18" height="3.91" fill="#c5b0d5"/>
<rect x="2801.25" y="113.53" width="10.97" height="3.91" fill="#ff9896"/>
<rect x="2812.03" y="113.53" width="2.22" height="3.91" fill="#d62728"/>
<rect x="2814.05" y="113.53" width="1.01" height="3.91" fill="#98df8a"/>
<rect x="2814.86" y="113.53" width="9.79" height="3.91" fill="#2ca02c"/>
<rect x="2824.45" y="113.53" width="13.73" height="3.91" fill="#ffbb78"/>
<rect x="2837.98" y="113.53" width="29.60" height="3.91" fill="#ff7f0e"/>
<rect x="2867.38" y="113.53" width="12.43" height="3.91" fill="#aec7e8"/>
<rect x="2879.61" y="113.53" width="24.79" height="3.91" fill="#1f77b4"/>
<line x1="2778.6" y1="115.53" x2="2791" y2="115.53" stroke="#222" stroke-width="1.2" stroke-dasharray="1,0.8" opacity="0.5"/>
<rect x="2792.90" y="118.14" width="3.43" height="3.91" fill="#8c564b"/>
<rect x="2796.13" y="118.14" width="0.42" height="3.91" fill="#c49c94"/>
<rect x="2796.35" y="118.14" width="2.88" height="3.91" fill="#9467bd"/>
<rect x="2799.04" y="118.14" width="1.90" height="3.91" fill="#c5b0d5"/>
<rect x="2800.74" y="118.14" width="10.04" height="3.91" fill="#ff9896"/>
<rect x="2810.58" y="118.14" width="5.60" height="3.91" fill="#d62728"/>
<rect x="2815.98" y="118.14" width="5.39" height="3.91" fill="#98df8a"/>
<rect x="2821.17" y="118.14" width="13.36" height="3.91" fill="#2ca02c"/>
<rect x="2834.33" y="118.14" width="16.99" height="3.91" fill="#ffbb78"/>
<rect x="2851.12" y="118.14" width="17.32" height="3.91" fill="#ff7f0e"/>
<rect x="2868.24" y="118.14" width="5.11" height="3.91" fill="#aec7e8"/>
<rect x="2873.16" y="118.14" width="31.24" height="3.91" fill="#1f77b4"/>
<line x1="2775.2" y1="120.14" x2="2791" y2="120.14" stroke="#222" stroke-width="1.2" stroke-dasharray="1,0.8" opacity="0.5"/>
<rect x="2792.90" y="122.75" width="2.33" height="3.91" fill="#8c564b"/>
<rect x="2795.03" y="122.75" width="0.99" height="3.91" fill="#c49c94"/>
<rect x="2795.82" y="122.75" width="5.15" height="3.91" fill="#9467bd"/>
<rect x="2800.77" y="122.75" width="0.60" height="3.91" fill="#c5b0d5"/>
<rect x="2801.17" y="122.75" width="1.34" height="3.91" fill="#ff9896"/>
<rect x="2802.31" y="122.75" width="0.66" height="3.91" fill="#d62728"/>
<rect x="2802.77" y="122.75" width="15.42" height="3.91" fill="#98df8a"/>
<rect x="2817.99" y="122.75" width="15.95" height="3.91" fill="#2ca02c"/>
<rect x="2833.73" y="122.75" width="16.91" height="3.91" fill="#ffbb78"/>
<rect x="2850.44" y="122.75" width="20.97" height="3.91" fill="#ff7f0e"/>
<rect x="2871.21" y="122.75" width="4.48" height="3.91" fill="#aec7e8"/>
<rect x="2875.48" y="122.75" width="28.92" height="3.91" fill="#1f77b4"/>
<line x1="2779.5" y1="124.75" x2="2791" y2="124.75" stroke="#222" stroke-width="1.2" stroke-dasharray="1,0.8" opacity="0.5"/>
<rect x="2792.90" y="127.36" width="2.77" height="3.91" fill="#8c564b"/>
<rect x="2795.47" y="127.36" width="1.18" height="3.91" fill="#c49c94"/>
<rect x="2796.45" y="127.36" width="2.23" height="3.91" fill="#9467bd"/>
<rect x="2798.48" y="127.36" width="1.05" height="3.91" fill="#c5b0d5"/>
<rect x="2799.33" y="127.36" width="0.94" height="3.91" fill="#ff9896"/>
<rect x="2800.07" y="127.36" width="2.94" height="3.91" fill="#d62728"/>
<rect x="2802.81" y="127.36" width="4.88" height="3.91" fill="#98df8a"/>
<rect x="2807.49" y="127.36" width="15.17" height="3.91" fill="#2ca02c"/>
<rect x="2822.46" y="127.36" width="26.92" height="3.91" fill="#ffbb78"/>
<rect x="2849.18" y="127.36" width="24.09" height="3.91" fill="#ff7f0e"/>
<rect x="2873.08" y="127.36" width="16.65" height="3.91" fill="#aec7e8"/>
<rect x="2889.53" y="127.36" width="14.87" height="3.91" fill="#1f77b4"/>
<line x1="2779.9" y1="129.36" x2="2791" y2="129.36" stroke="#222" stroke-width="1.2" stroke-dasharray="1,0.8" opacity="0.5"/>
<rect x="2792.90" y="131.97" width="2.01" height="3.91" fill="#8c564b"/>
<rect x="2794.71" y="131.97" width="1.36" height="3.91" fill="#c49c94"/>
<rect x="2795.87" y="131.97" width="3.73" height="3.91" fill="#9467bd"/>
<rect x="2799.40" y="131.97" width="0.44" height="3.91" fill="#c5b0d5"/>
<rect x="2799.64" y="131.97" width="5.48" height="3.91" fill="#ff9896"/>
<rect x="2804.92" y="131.97" width="2.46" height="3.91" fill="#d62728"/>
<rect x="2807.17" y="131.97" width="10.07" height="3.91" fill="#98df8a"/>
<rect x="2817.04" y="131.97" width="13.47" height="3.91" fill="#2ca02c"/>
<rect x="2830.31" y="131.97" width="18.88" height="3.91" fill="#ffbb78"/>
<rect x="2849.00" y="131.97" width="15.60" height="3.91" fill="#ff7f0e"/>
<rect x="2864.40" y="131.97" width="18.26" height="3.91" fill="#aec7e8"/>
<rect x="2882.46" y="131.97" width="21.94" height="3.91" fill="#1f77b4"/>
<line x1="2776.1" y1="133.97" x2="2791" y2="133.97" stroke="#222" stroke-width="1.2" stroke-dasharray="1,0.8" opacity="0.5"/>
<rect x="2792.90" y="136.58" width="3.02" height="3.91" fill="#8c564b"/>
<rect x="2795.72" y="136.58" width="1.81" height="3.91" fill="#c49c94"/>
<rect x="2797.33" y="136.58" width="1.35" height="3.91" fill="#9467bd"/>
<rect x="2798.48" y="136.58" width="3.44" height="3.91" fill="#c5b0d5"/>
<rect x="2801.72" y="136.58" width="5.65" height="3.91" fill="#ff9896"/>
<rect x="2807.17" y="136.58" width="3.82" height="3.91" fill="#d62728"/>
<rect x="2810.79" y="136.58" width="14.76" height="3.91" fill="#98df8a"/>
<rect x="2825.35" y="136.58" width="18.43" height="3.91" fill="#2ca02c"/>
<rect x="2843.58" y="136.58" width="29.35" height="3.91" fill="#ffbb78"/>
<rect x="2872.73" y="136.58" width="3.90" height="3.91" fill="#ff7f0e"/>
<rect x="2876.42" y="136.58" width="11.82" height="3.91" fill="#aec7e8"/>
<rect x="2888.05" y="136.58" width="16.35" height="3.91" fill="#1f77b4"/>
<line x1="2779.9" y1="138.58" x2="2791" y2="138.58" stroke="#222" stroke-width="1.2" stroke-dasharray="1,0.8" opacity="0.5"/>
<rect x="2792.90" y="141.19" width="1.74" height="3.91" fill="#8c564b"/>
<rect x="2794.44" y="141.19" width="1.52" height="3.91" fill="#c49c94"/>
<rect x="2795.75" y="141.19" width="0.58" height="3.91" fill="#9467bd"/>
<rect x="2796.13" y="141.19" width="1.28" height="3.91" fill="#c5b0d5"/>
<rect x="2797.21" y="141.19" width="13.67" height="3.91" fill="#ff9896"/>
<rect x="2810.67" y="141.19" width="4.61" height="3.91" fill="#d62728"/>
<rect x="2815.09" y="141.19" width="8.45" height="3.91" fill="#98df8a"/>
<rect x="2823.34" y="141.19" width="4.38" height="3.91" fill="#2ca02c"/>
<rect x="2827.52" y="141.19" width="28.83" height="3.91" fill="#ffbb78"/>
<rect x="2856.15" y="141.19" width="22.19" height="3.91" fill="#ff7f0e"/>
<rect x="2878.14" y="141.19" width="9.15" height="3.91" fill="#aec7e8"/>
<rect x="2887.09" y="141.19" width="17.31" height="3.91" fill="#1f77b4"/>
<line x1="2777.9" y1="143.19" x2="2791" y2="143.19" stroke="#222" stroke-width="1.2" stroke-dasharray="1,0.8" opacity="0.5"/>
<rect x="2792.90" y="145.80" width="3.58" height="3.91" fill="#8c564b"/>
<rect x="2796.28" y="145.80" width="0.95" height="3.91" fill="#c49c94"/>
<rect x="2797.03" y="145.80" width="5.64" height="3.91" fill="#9467bd"/>
<rect x="2802.47" y="145.80" width="1.58" height="3.91" fill="#c5b0d5"/>
<rect x="2803.85" y="145.80" width="4.56" height="3.91" fill="#ff9896"/>
<rect x="2808.21" y="145.80" width="6.24" height="3.91" fill="#d62728"/>
<rect x="2814.25" y="145.80" width="3.49" height="3.91" fill="#98df8a"/>
<rect x="2817.54" y="145.80" width="16.70" height="3.91" fill="#2ca02c"/>
<rect x="2834.04" y="145.80" width="11.92" height="3.91" fill="#ffbb78"/>
<rect x="2845.76" y="145.80" width="23.30" height="3.91" fill="#ff7f0e"/>
<rect x="2868.86" y="145.80" width="13.22" height="3.91" fill="#aec7e8"/>
<rect x="2881.88" y="145.80" width="22.52" height="3.91" fill="#1f77b4"/>
<line x1="2775.5" y1="147.80" x2="2791" y2="147.80" stroke="#222" stroke-width="1.2" stroke-dasharray="1,0.8" opacity="0.5"/>
<rect x="2792.90" y="150.41" width="2.38" height="3.91" fill="#8c564b"/>
<rect x="2795.08" y="150.41" width="1.18" height="3.91" fill="#c49c94"/>
<rect x="2796.06" y="150.41" width="2.98" height="3.91" fill="#9467bd"/>
<rect x="2798.84" y="150.41" width="1.15" height="3.91" fill="#c5b0d5"/>
<rect x="2799.79" y="150.41" width="2.56" height="3.91" fill="#ff9896"/>
<rect x="2802.15" y="150.41" width="2.37" height="3.91" fill="#d62728"/>
<rect x="2804.32" y="150.41" width="4.80" height="3.91" fill="#98df8a"/>
<rect x="2808.92" y="150.41" width="5.43" height="3.91" fill="#2ca02c"/>
<rect x="2814.15" y="150.41" width="27.44" height="3.91" fill="#ffbb78"/>
<rect x="2841.38" y="150.41" width="4.43" height="3.91" fill="#ff7f0e"/>
<rect x="2845.61" y="150.41" width="23.67" height="3.91" fill="#aec7e8"/>
<rect x="2869.08" y="150.41" width="35.32" height="3.91" fill="#1f77b4"/>
<line x1="2777.4" y1="152.41" x2="2791" y2="152.41" stroke="#222" stroke-width="1.2" stroke-dasharray="1,0.8" opacity="0.5"/>
<rect x="2792.90" y="155.02" width="1.19" height="3.91" fill="#8c564b"/>
<rect x="2793.89" y="155.02" width="1.15" height="3.91" fill="#c49c94"/>
<rect x="2794.84" y="155.02" width="0.35" height="3.91" fill="#9467bd"/>
<rect x="2794.99" y="155.02" width="1.93" height="3.91" fill="#c5b0d5"/>
<rect x="2796.72" y="155.02" width="8.18" height="3.91" fill="#ff9896"/>
<rect x="2804.70" y="155.02" width="1.34" height="3.91" fill="#d62728"/>
<rect x="2805.84" y="155.02" width="0.31" height="3.91" fill="#98df8a"/>
<rect x="2805.95" y="155.02" width="9.34" height="3.91" fill="#2ca02c"/>
<rect x="2815.09" y="155.02" width="5.88" height="3.91" fill="#ffbb78"/>
<rect x="2820.78" y="155.02" width="9.51" height="3.91" fill="#ff7f0e"/>
<rect x="2830.08" y="155.02" width="12.54" height="3.91" fill="#aec7e8"/>
<rect x="2842.42" y="155.02" width="61.98" height="3.91" fill="#1f77b4"/>
<line x1="2780.0" y1="157.02" x2="2791" y2="157.02" stroke="#222" stroke-width="1.2" stroke-dasharray="1,0.8" opacity="0.5"/>
<rect x="2792.90" y="159.63" width="1.20" height="3.91" fill="#8c564b"/>
<rect x="2793.90" y="159.63" width="1.44" height="3.91" fill="#c49c94"/>
<rect x="2795.14" y="159.63" width="2.78" height="3.91" fill="#9467bd"/>
<rect x="2797.72" y="159.63" width="1.45" height="3.91" fill="#c5b0d5"/>
<rect x="2798.97" y="159.63" width="0.66" height="3.91" fill="#ff9896"/>
<rect x="2799.43" y="159.63" width="0.94" height="3.91" fill="#d62728"/>
<rect x="2800.16" y="159.63" width="4.94" height="3.91" fill="#98df8a"/>
<rect x="2804.91" y="159.63" width="7.83" height="3.91" fill="#2ca02c"/>
<rect x="2812.54" y="159.63" width="7.05" height="3.91" fill="#ffbb78"/>
<rect x="2819.38" y="159.63" width="16.40" height="3.91" fill="#ff7f0e"/>
<rect x="2835.59" y="159.63" width="17.11" height="3.91" fill="#aec7e8"/>
<rect x="2852.50" y="159.63" width="51.90" height="3.91" fill="#1f77b4"/>
<line x1="2775.9" y1="161.63" x2="2791" y2="161.63" stroke="#222" stroke-width="1.2" stroke-dasharray="1,0.8" opacity="0.5"/>
<rect x="2792.90" y="164.24" width="1.08" height="3.91" fill="#8c564b"/>
<rect x="2793.78" y="164.24" width="1.19" height="3.91" fill="#c49c94"/>
<rect x="2794.77" y="164.24" width="0.47" height="3.91" fill="#9467bd"/>
<rect x="2795.04" y="164.24" width="2.49" height="3.91" fill="#c5b0d5"/>
<rect x="2797.34" y="164.24" width="7.82" height="3.91" fill="#ff9896"/>
<rect x="2804.96" y="164.24" width="3.43" height="3.91" fill="#d62728"/>
<rect x="2808.18" y="164.24" width="2.60" height="3.91" fill="#98df8a"/>
<rect x="2810.58" y="164.24" width="2.61" height="3.91" fill="#2ca02c"/>
<rect x="2812.99" y="164.24" width="18.15" height="3.91" fill="#ffbb78"/>
<rect x="2830.95" y="164.24" width="14.09" height="3.91" fill="#ff7f0e"/>
<rect x="2844.84" y="164.24" width="14.35" height="3.91" fill="#aec7e8"/>
<rect x="2858.99" y="164.24" width="45.41" height="3.91" fill="#1f77b4"/>
<line x1="2776.6" y1="166.24" x2="2791" y2="166.24" stroke="#222" stroke-width="1.2" stroke-dasharray="1,0.8" opacity="0.5"/>
<rect x="2792.90" y="168.85" width="2.76" height="3.91" fill="#8c564b"/>
<rect x="2795.46" y="168.85" width="1.02" height="3.91" fill="#c49c94"/>
<rect x="2796.28" y="168.85" width="2.36" height="3.91" fill="#9467bd"/>
<rect x="2798.44" y="168.85" width="1.56" height="3.91" fill="#c5b0d5"/>
<rect x="2799.80" y="168.85" width="11.69" height="3.91" fill="#ff9896"/>
<rect x="2811.29" y="168.85" width="6.99" height="3.91" fill="#d62728"/>
<rect x="2818.09" y="168.85" width="1.83" height="3.91" fill="#98df8a"/>
<rect x="2819.71" y="168.85" width="4.70" height="3.91" fill="#2ca02c"/>
<rect x="2824.21" y="168.85" width="22.71" height="3.91" fill="#ffbb78"/>
<rect x="2846.73" y="168.85" width="27.55" height="3.91" fill="#ff7f0e"/>
<rect x="2874.08" y="168.85" width="11.15" height="3.91" fill="#aec7e8"/>
<rect x="2885.03" y="168.85" width="19.37" height="3.91" fill="#1f77b4"/>
<line x1="2782.5" y1="170.85" x2="2791" y2="170.85" stroke="#222" stroke-width="1.2" stroke-dasharray="1,0.8" opacity="0.5"/>
<rect x="2792.90" y="173.46" width="1.37" height="3.91" fill="#8c564b"/>
<rect x="2794.07" y="173.46" width="1.28" height="3.91" fill="#c49c94"/>
<rect x="2795.15" y="173.46" width="3.17" height="3.91" fill="#9467bd"/>
<rect x="2798.12" y="173.46" width="2.34" height="3.91" fill="#c5b0d5"/>
<rect x="2800.25" y="173.46" width="2.27" height="3.91" fill="#ff9896"/>
<rect x="2802.32" y="173.46" width="0.77" height="3.91" fill="#d62728"/>
<rect x="2802.89" y="173.46" width="15.41" height="3.91" fill="#98df8a"/>
<rect x="2818.10" y="173.46" width="10.59" height="3.91" fill="#2ca02c"/>
<rect x="2828.50" y="173.46" width="13.90" height="3.91" fill="#ffbb78"/>
<rect x="2842.20" y="173.46" width="20.03" height="3.91" fill="#ff7f0e"/>
<rect x="2862.03" y="173.46" width="20.92" height="3.91" fill="#aec7e8"/>
<rect x="2882.75" y="173.46" width="21.65" height="3.91" fill="#1f77b4"/>
<line x1="2782.4" y1="175.46" x2="2791" y2="175.46" stroke="#222" stroke-width="1.2" stroke-dasharray="1,0.8" opacity="0.5"/>
<rect x="2792.90" y="178.07" width="3.20" height="3.91" fill="#8c564b"/>
<rect x="2795.90" y="178.07" width="0.68" height="3.91" fill="#c49c94"/>
<rect x="2796.38" y="178.07" width="0.38" height="3.91" fill="#9467bd"/>
<rect x="2796.56" y="178.07" width="1.39" height="3.91" fill="#c5b0d5"/>
<rect x="2797.75" y="178.07" width="7.41" height="3.91" fill="#ff9896"/>
<rect x="2804.97" y="178.07" width="3.74" height="3.91" fill="#d62728"/>
<rect x="2808.51" y="178.07" width="3.15" height="3.91" fill="#98df8a"/>
<rect x="2811.46" y="178.07" width="13.67" height="3.91" fill="#2ca02c"/>
<rect x="2824.93" y="178.07" width="16.42" height="3.91" fill="#ffbb78"/>
<rect x="2841.14" y="178.07" width="7.61" height="3.91" fill="#ff7f0e"/>
<rect x="2848.55" y="178.07" width="24.71" height="3.91" fill="#aec7e8"/>
<rect x="2873.06" y="178.07" width="31.34" height="3.91" fill="#1f77b4"/>
<line x1="2775.7" y1="180.07" x2="2791" y2="180.07" stroke="#222" stroke-width="1.2" stroke-dasharray="1,0.8" opacity="0.5"/>
<rect x="2792.90" y="182.68" width="2.08" height="3.91" fill="#8c564b"/>
<rect x="2794.78" y="182.68" width="0.55" height="3.91" fill="#c49c94"/>
<rect x="2795.13" y="182.68" width="2.68" height="3.91" fill="#9467bd"/>
<rect x="2797.60" y="182.68" width="2.36" height="3.91" fill="#c5b0d5"/>
<rect x="2799.76" y="182.68" width="5.30" height="3.91" fill="#ff9896"/>
<rect x="2804.86" y="182.68" width="23.73" height="3.91" fill="#d62728"/>
<rect x="2828.39" y="182.68" width="11.79" height="3.91" fill="#98df8a"/>
<rect x="2839.98" y="182.68" width="6.14" height="3.91" fill="#2ca02c"/>
<rect x="2845.92" y="182.68" width="19.14" height="3.91" fill="#ffbb78"/>
<rect x="2864.86" y="182.68" width="19.00" height="3.91" fill="#ff7f0e"/>
<rect x="2883.67" y="182.68" width="16.50" height="3.91" fill="#aec7e8"/>
<rect x="2899.97" y="182.68" width="4.43" height="3.91" fill="#1f77b4"/>
<line x1="2780.2" y1="184.68" x2="2791" y2="184.68" stroke="#222" stroke-width="1.2" stroke-dasharray="1,0.8" opacity="0.5"/>
<rect x="2792.90" y="187.29" width="2.40" height="3.91" fill="#8c564b"/>
<rect x="2795.10" y="187.29" width="1.40" height="3.91" fill="#c49c94"/>
<rect x="2796.30" y="187.29" width="3.19" height="3.91" fill="#9467bd"/>
<rect x="2799.29" y="187.29" width="2.12" height="3.91" fill="#c5b0d5"/>
<rect x="2801.21" y="187.29" width="2.12" height="3.91" fill="#ff9896"/>
<rect x="2803.12" y="187.29" width="4.80" height="3.91" fill="#d62728"/>
<rect x="2807.72" y="187.29" width="8.15" height="3.91" fill="#98df8a"/>
<rect x="2815.67" y="187.29" width="14.38" height="3.91" fill="#2ca02c"/>
<rect x="2829.85" y="187.29" width="8.45" height="3.91" fill="#ffbb78"/>
<rect x="2838.10" y="187.29" width="24.87" height="3.91" fill="#ff7f0e"/>
<rect x="2862.76" y="187.29" width="15.23" height="3.91" fill="#aec7e8"/>
<rect x="2877.79" y="187.29" width="26.61" height="3.91" fill="#1f77b4"/>
<line x1="2777.1" y1="189.29" x2="2791" y2="189.29" stroke="#222" stroke-width="1.2" stroke-dasharray="1,0.8" opacity="0.5"/>
<rect x="2792.90" y="191.90" width="4.41" height="3.91" fill="#8c564b"/>
<rect x="2797.11" y="191.90" width="1.30" height="3.91" fill="#c49c94"/>
<rect x="2798.22" y="191.90" width="0.70" height="3.91" fill="#9467bd"/>
<rect x="2798.72" y="191.90" width="2.05" height="3.91" fill="#c5b0d5"/>
<rect x="2800.57" y="191.90" width="3.46" height="3.91" fill="#ff9896"/>
<rect x="2803.83" y="191.90" width="4.31" height="3.91" fill="#d62728"/>
<rect x="2807.94" y="191.90" width="18.82" height="3.91" fill="#98df8a"/>
<rect x="2826.56" y="191.90" width="10.97" height="3.91" fill="#2ca02c"/>
<rect x="2837.33" y="191.90" width="10.48" height="3.91" fill="#ffbb78"/>
<rect x="2847.62" y="191.90" width="5.67" height="3.91" fill="#ff7f0e"/>
<rect x="2853.09" y="191.90" width="18.94" height="3.91" fill="#aec7e8"/>
<rect x="2871.83" y="191.90" width="32.57" height="3.91" fill="#1f77b4"/>
<line x1="2782.8" y1="193.90" x2="2791" y2="193.90" stroke="#222" stroke-width="1.2" stroke-dasharray="1,0.8" opacity="0.5"/>
<rect x="2792.90" y="196.51" width="2.98" height="3.91" fill="#8c564b"/>
<rect x="2795.68" y="196.51" width="0.70" height="3.91" fill="#c49c94"/>
<rect x="2796.19" y="196.51" width="0.71" height="3.91" fill="#9467bd"/>
<rect x="2796.70" y="196.51" width="3.52" height="3.91" fill="#c5b0d5"/>
<rect x="2800.02" y="196.51" width="7.70" height="3.91" fill="#ff9896"/>
<rect x="2807.52" y="196.51" width="5.54" height="3.91" fill="#d62728"/>
<rect x="2812.86" y="196.51" width="9.41" height="3.91" fill="#98df8a"/>
<rect x="2822.07" y="196.51" width="4.64" height="3.91" fill="#2ca02c"/>
<rect x="2826.51" y="196.51" width="11.00" height="3.91" fill="#ffbb78"/>
<rect x="2837.31" y="196.51" width="14.93" height="3.91" fill="#ff7f0e"/>
<rect x="2852.03" y="196.51" width="20.62" height="3.91" fill="#aec7e8"/>
<rect x="2872.45" y="196.51" width="31.95" height="3.91" fill="#1f77b4"/>
<line x1="2777.0" y1="198.51" x2="2791" y2="198.51" stroke="#222" stroke-width="1.2" stroke-dasharray="1,0.8" opacity="0.5"/>
<rect x="2792.90" y="201.12" width="2.80" height="3.91" fill="#8c564b"/>
<rect x="2795.50" y="201.12" width="0.77" height="3.91" fill="#c49c94"/>
<rect x="2796.07" y="201.12" width="2.14" height="3.91" fill="#9467bd"/>
<rect x="2798.01" y="201.12" width="1.48" height="3.91" fill="#c5b0d5"/>
<rect x="2799.29" y="201.12" width="6.83" height="3.91" fill="#ff9896"/>
<rect x="2805.93" y="201.12" width="1.70" height="3.91" fill="#d62728"/>
<rect x="2807.42" y="201.12" width="9.31" height="3.91" fill="#98df8a"/>
<rect x="2816.53" y="201.12" width="9.71" height="3.91" fill="#2ca02c"/>
<rect x="2826.04" y="201.12" width="5.56" height="3.91" fill="#ffbb78"/>
<rect x="2831.40" y="201.12" width="24.03" height="3.91" fill="#ff7f0e"/>
<rect x="2855.23" y="201.12" width="18.15" height="3.91" fill="#aec7e8"/>
<rect x="2873.18" y="201.12" width="31.22" height="3.91" fill="#1f77b4"/>
<line x1="2777.1" y1="203.12" x2="2791" y2="203.12" stroke="#222" stroke-width="1.2" stroke-dasharray="1,0.8" opacity="0.5"/>
<rect x="2792.90" y="205.73" width="3.08" height="3.91" fill="#8c564b"/>
<rect x="2795.78" y="205.73" width="2.52" height="3.91" fill="#c49c94"/>
<rect x="2798.10" y="205.73" width="1.96" height="3.91" fill="#9467bd"/>
<rect x="2799.87" y="205.73" width="1.58" height="3.91" fill="#c5b0d5"/>
<rect x="2801.25" y="205.73" width="0.25" height="3.91" fill="#ff9896"/>
<rect x="2801.30" y="205.73" width="4.09" height="3.91" fill="#d62728"/>
<rect x="2805.19" y="205.73" width="10.40" height="3.91" fill="#98df8a"/>
<rect x="2815.39" y="205.73" width="11.98" height="3.91" fill="#2ca02c"/>
<rect x="2827.17" y="205.73" width="29.39" height="3.91" fill="#ffbb78"/>
<rect x="2856.36" y="205.73" width="8.78" height="3.91" fill="#ff7f0e"/>
<rect x="2864.94" y="205.73" width="9.56" height="3.91" fill="#aec7e8"/>
<rect x="2874.30" y="205.73" width="30.10" height="3.91" fill="#1f77b4"/>
<line x1="2776.5" y1="207.73" x2="2791" y2="207.73" stroke="#222" stroke-width="1.2" stroke-dasharray="1,0.8" opacity="0.5"/>
<rect x="2792.90" y="210.34" width="2.12" height="3.91" fill="#8c564b"/>
<rect x="2794.82" y="210.34" width="0.31" height="3.91" fill="#c49c94"/>
<rect x="2794.93" y="210.34" width="1.65" height="3.91" fill="#9467bd"/>
<rect x="2796.38" y="210.34" width="2.62" height="3.91" fill="#c5b0d5"/>
<rect x="2798.80" y="210.34" width="6.06" height="3.91" fill="#ff9896"/>
<rect x="2804.66" y="210.34" width="2.46" height="3.91" fill="#d62728"/>
<rect x="2806.92" y="210.34" width="5.91" height="3.91" fill="#98df8a"/>
<rect x="2812.63" y="210.34" width="10.75" height="3.91" fill="#2ca02c"/>
<rect x="2823.18" y="210.34" width="16.39" height="3.91" fill="#ffbb78"/>
<rect x="2839.38" y="210.34" width="18.04" height="3.91" fill="#ff7f0e"/>
<rect x="2857.21" y="210.34" width="21.74" height="3.91" fill="#aec7e8"/>
<rect x="2878.75" y="210.34" width="25.65" height="3.91" fill="#1f77b4"/>
<line x1="2780.0" y1="212.34" x2="2791" y2="212.34" stroke="#222" stroke-width="1.2" stroke-dasharray="1,0.8" opacity="0.5"/>
<rect x="2792.90" y="214.95" width="1.98" height="3.91" fill="#8c564b"/>
<rect x="2794.68" y="214.95" width="2.05" height="3.91" fill="#c49c94"/>
<rect x="2796.53" y="214.95" width="3.96" height="3.91" fill="#9467bd"/>
<rect x="2800.29" y="214.95" width="3.50" height="3.91" fill="#c5b0d5"/>
<rect x="2803.58" y="214.95" width="3.03" height="3.91" fill="#ff9896"/>
<rect x="2806.41" y="214.95" width="5.22" height="3.91" fill="#d62728"/>
<rect x="2811.43" y="214.95" width="16.02" height="3.91" fill="#98df8a"/>
<rect x="2827.25" y="214.95" width="3.85" height="3.91" fill="#2ca02c"/>
<rect x="2830.90" y="214.95" width="12.60" height="3.91" fill="#ffbb78"/>
<rect x="2843.29" y="214.95" width="20.26" height="3.91" fill="#ff7f0e"/>
<rect x="2863.36" y="214.95" width="7.56" height="3.91" fill="#aec7e8"/>
<rect x="2870.72" y="214.95" width="33.68" height="3.91" fill="#1f77b4"/>
<line x1="2780.9" y1="216.95" x2="2791" y2="216.95" stroke="#222" stroke-width="1.2" stroke-dasharray="1,0.8" opacity="0.5"/>
<rect x="2792.90" y="219.56" width="2.51" height="3.91" fill="#8c564b"/>
<rect x="2795.21" y="219.56" width="0.78" height="3.91" fill="#c49c94"/>
<rect x="2795.79" y="219.56" width="1.05" height="3.91" fill="#9467bd"/>
<rect x="2796.65" y="219.56" width="0.81" height="3.91" fill="#c5b0d5"/>
<rect x="2797.26" y="219.56" width="6.04" height="3.91" fill="#ff9896"/>
<rect x="2803.10" y="219.56" width="3.69" height="3.91" fill="#d62728"/>
<rect x="2806.59" y="219.56" width="3.40" height="3.91" fill="#98df8a"/>
<rect x="2809.79" y="219.56" width="11.57" height="3.91" fill="#2ca02c"/>
<rect x="2821.16" y="219.56" width="11.00" height="3.91" fill="#ffbb78"/>
<rect x="2831.96" y="219.56" width="17.12" height="3.91" fill="#ff7f0e"/>
<rect x="2848.88" y="219.56" width="11.07" height="3.91" fill="#aec7e8"/>
<rect x="2859.75" y="219.56" width="44.65" height="3.91" fill="#1f77b4"/>
<line x1="2781.9" y1="221.56" x2="2791" y2="221.56" stroke="#222" stroke-width="1.2" stroke-dasharray="1,0.8" opacity="0.5"/>
<rect x="2792.90" y="224.17" width="1.08" height="3.91" fill="#8c564b"/>
<rect x="2793.78" y="224.17" width="1.30" height="3.91" fill="#c49c94"/>
<rect x="2794.88" y="224.17" width="1.51" height="3.91" fill="#9467bd"/>
<rect x="2796.18" y="224.17" width="0.49" height="3.91" fill="#c5b0d5"/>
<rect x="2796.48" y="224.17" width="8.54" height="3.91" fill="#ff9896"/>
<rect x="2804.82" y="224.17" width="2.78" height="3.91" fill="#d62728"/>
<rect x="2807.40" y="224.17" width="0.45" height="3.91" fill="#98df8a"/>
<rect x="2807.65" y="224.17" width="9.78" height="3.91" fill="#2ca02c"/>
<rect x="2817.23" y="224.17" width="13.21" height="3.91" fill="#ffbb78"/>
<rect x="2830.24" y="224.17" width="10.27" height="3.91" fill="#ff7f0e"/>
<rect x="2840.32" y="224.17" width="11.26" height="3.91" fill="#aec7e8"/>
<rect x="2851.37" y="224.17" width="53.03" height="3.91" fill="#1f77b4"/>
<line x1="2780.0" y1="226.17" x2="2791" y2="226.17" stroke="#222" stroke-width="1.2" stroke-dasharray="1,0.8" opacity="0.5"/>
<rect x="2792.90" y="228.78" width="2.23" height="3.91" fill="#8c564b"/>
<rect x="2794.93" y="228.78" width="1.33" height="3.91" fill="#c49c94"/>
<rect x="2796.06" y="228.78" width="1.50" height="3.91" fill="#9467bd"/>
<rect x="2797.36" y="228.78" width="1.13" height="3.91" fill="#c5b0d5"/>
<rect x="2798.29" y="228.78" width="8.28" height="3.91" fill="#ff9896"/>
<rect x="2806.37" y="228.78" width="3.03" height="3.91" fill="#d62728"/>
<rect x="2809.20" y="228.78" width="6.31" height="3.91" fill="#98df8a"/>
<rect x="2815.31" y="228.78" width="8.40" height="3.91" fill="#2ca02c"/>
<rect x="2823.51" y="228.78" width="7.95" height="3.91" fill="#ffbb78"/>
<rect x="2831.26" y="228.78" width="18.36" height="3.91" fill="#ff7f0e"/>
<rect x="2849.42" y="228.78" width="3.26" height="3.91" fill="#aec7e8"/>
<rect x="2852.48" y="228.78" width="51.92" height="3.91" fill="#1f77b4"/>
<line x1="2779.4" y1="230.78" x2="2791" y2="230.78" stroke="#222" stroke-width="1.2" stroke-dasharray="1,0.8" opacity="0.5"/>
<rect x="2792.90" y="233.39" width="1.83" height="3.91" fill="#8c564b"/>
<rect x="2794.53" y="233.39" width="1.53" height="3.91" fill="#c49c94"/>
<rect x="2795.86" y="233.39" width="2.84" height="3.91" fill="#9467bd"/>
<rect x="2798.50" y="233.39" width="0.49" height="3.91" fill="#c5b0d5"/>
<rect x="2798.79" y="233.39" width="6.85" height="3.91" fill="#ff9896"/>
<rect x="2805.44" y="233.39" width="1.13" height="3.91" fill="#d62728"/>
<rect x="2806.38" y="233.39" width="13.76" height="3.91" fill="#98df8a"/>
<rect x="2819.94" y="233.39" width="7.64" height="3.91" fill="#2ca02c"/>
<rect x="2827.38" y="233.39" width="12.52" height="3.91" fill="#ffbb78"/>
<rect x="2839.70" y="233.39" width="8.95" height="3.91" fill="#ff7f0e"/>
<rect x="2848.45" y="233.39" width="4.79" height="3.91" fill="#aec7e8"/>
<rect x="2853.04" y="233.39" width="51.36" height="3.91" fill="#1f77b4"/>
<line x1="2781.8" y1="235.39" x2="2791" y2="235.39" stroke="#222" stroke-width="1.2" stroke-dasharray="1,0.8" opacity="0.5"/>
<rect x="2913" y="118.0" width="3.5" height="3.5" fill="#1f77b4"/>
<line x1="2918" y1="119.8" x2="2936.6" y2="119.8" stroke="#222" stroke-width="1.1" stroke-dasharray="1,0.8" opacity="0.5"/>
<rect x="2913" y="122.8" width="3.5" height="3.5" fill="#aec7e8"/>
<line x1="2918" y1="124.6" x2="2940.4" y2="124.6" stroke="#222" stroke-width="1.1" stroke-dasharray="1,0.8" opacity="0.5"/>
<rect x="2913" y="127.6" width="3.5" height="3.5" fill="#ff7f0e"/>
<line x1="2918" y1="129.4" x2="2929.8" y2="129.4" stroke="#222" stroke-width="1.1" stroke-dasharray="1,0.8" opacity="0.5"/>
<rect x="2913" y="132.4" width="3.5" height="3.5" fill="#ffbb78"/>
<line x1="2918" y1="134.2" x2="2927.9" y2="134.2" stroke="#222" stroke-width="1.1" stroke-dasharray="1,0.8" opacity="0.5"/>
<rect x="2913" y="137.2" width="3.5" height="3.5" fill="#2ca02c"/>
<line x1="2918" y1="139.0" x2="2935.1" y2="139.0" stroke="#222" stroke-width="1.1" stroke-dasharray="1,0.8" opacity="0.5"/>
<rect x="2913" y="142.0" width="3.5" height="3.5" fill="#98df8a"/>
<line x1="2918" y1="143.8" x2="2928.0" y2="143.8" stroke="#222" stroke-width="1.1" stroke-dasharray="1,0.8" opacity="0.5"/>
<rect x="2913" y="146.8" width="3.5" height="3.5" fill="#d62728"/>
<line x1="2918" y1="148.6" x2="2932.9" y2="148.6" stroke="#222" stroke-width="1.1" stroke-dasharray="1,0.8" opacity="0.5"/>
<rect x="2913" y="151.6" width="3.5" height="3.5" fill="#ff9896"/>
<line x1="2918" y1="153.4" x2="2938.9" y2="153.4" stroke="#222" stroke-width="1.1" stroke-dasharray="1,0.8" opacity="0.5"/>
<rect x="2913" y="156.4" width="3.5" height="3.5" fill="#c5b0d5"/>
<line x1="2918" y1="158.2" x2="2929.5" y2="158.2" stroke="#222" stroke-width="1.1" stroke-dasharray="1,0.8" opacity="0.5"/>
<rect x="2913" y="161.2" width="3.5" height="3.5" fill="#9467bd"/>
<line x1="2918" y1="163.0" x2="2937.9" y2="163.0" stroke="#222" stroke-width="1.1" stroke-dasharray="1,0.8" opacity="0.5"/>
<rect x="2913" y="166.0" width="3.5" height="3.5" fill="#c49c94"/>
<line x1="2918" y1="167.8" x2="2935.2" y2="167.8" stroke="#222" stroke-width="1.1" stroke-dasharray="1,0.8" opacity="0.5"/>
<rect x="2913" y="170.8" width="3.5" height="3.5" fill="#8c564b"/>
<line x1="2918" y1="172.6" x2="2927.4" y2="172.6" stroke="#222" stroke-width="1.1" stroke-dasharray="1,0.8" opacity="0.5"/>
<rect x="2912" y="113" width="8" height="1.2" fill="#333" opacity="0.6"/>
<rect x="2820" y="241" width="22" height="1" fill="#333" opacity="0.6"/>
<rect x="2534.4" y="295" width="98.40000000000009" height="71.80000000000001" fill="#fff" stroke="#bbb" stroke-width="0.6"/>
<rect x="2535.4" y="303.0" width="96.40000000000009" height="0.5" fill="#e6e6e6"/>
<rect x="2530.4" y="302.5" width="2.5" height="1" fill="#555" opacity="0.5"/>
<rect x="2535.4" y="318.4" width="96.40000000000009" height="0.5" fill="#e6e6e6"/>
<rect x="2530.4" y="317.9" width="2.5" height="1" fill="#555" opacity="0.5"/>
<rect x="2535.4" y="333.9" width="96.40000000000009" height="0.5" fill="#e6e6e6"/>
<rect x="2530.4" y="333.4" width="2.5" height="1" fill="#555" opacity="0.5"/>
<rect x="2535.4" y="349.4" width="96.40000000000009" height="0.5" fill="#e6e6e6"/>
<rect x="2530.4" y="348.9" width="2.5" height="1" fill="#555" opacity="0.5"/>
<rect x="2535.4" y="364.8" width="96.40000000000009" height="0.5" fill="#e6e6e6"/>
<rect x="2530.4" y="364.3" width="2.5" height="1" fill="#555" opacity="0.5"/>
<rect x="2534.4" y="295" width="98.40000000000009" height="3.8" fill="#cfcfcf" stroke="#999" stroke-width="0.4"/>
<rect x="2580.6000000000004" y="296.4" width="6" height="1" fill="#333" opacity="0.5"/>
<rect x="2545.0" y="303.8" width="4.7" height="59.9" fill="#3f7fbf"/>
<rect x="2547.2" y="300.8" width="0.6" height="3" fill="#3f7fbf"/>
<rect x="2546.2" y="300.8" width="2.6" height="0.6" fill="#3f7fbf"/>
<rect x="2550.2" y="313.0" width="4.7" height="50.7" fill="#c0d4ec"/>
<rect x="2552.4" y="309.0" width="0.6" height="4" fill="#c0d4ec"/>
<rect x="2551.4" y="309.0" width="2.6" height="0.6" fill="#c0d4ec"/>
<rect x="2555.4" y="306.9" width="4.7" height="56.9" fill="#f58b2a"/>
<rect x="2557.6" y="301.9" width="0.6" height="5" fill="#f58b2a"/>
<rect x="2556.6" y="301.9" width="2.6" height="0.6" fill="#f58b2a"/>
<line x1="2552.2" y1="368.8" x2="2552.2" y2="377.8" stroke="#333" stroke-width="0.9" stroke-dasharray="1,0.8" opacity="0.5"/>
<rect x="2576.0" y="307.8" width="4.7" height="55.9" fill="#3f7fbf"/>
<rect x="2578.2" y="303.8" width="0.6" height="4" fill="#3f7fbf"/>
<rect x="2577.2" y="303.8" width="2.6" height="0.6" fill="#3f7fbf"/>
<rect x="2581.3" y="311.5" width="4.7" height="52.2" fill="#c0d4ec"/>
<rect x="2583.5" y="306.5" width="0.6" height="5" fill="#c0d4ec"/>
<rect x="2582.5" y="306.5" width="2.6" height="0.6" fill="#c0d4ec"/>
<rect x="2586.5" y="305.3" width="4.7" height="58.4" fill="#f58b2a"/>
<rect x="2588.7" y="302.3" width="0.6" height="3" fill="#f58b2a"/>
<rect x="2587.7" y="302.3" width="2.6" height="0.6" fill="#f58b2a"/>
<line x1="2583.2" y1="368.8" x2="2583.2" y2="373.8" stroke="#333" stroke-width="0.9" stroke-dasharray="1,0.8" opacity="0.5"/>
<rect x="2607.1" y="307.5" width="4.7" height="56.2" fill="#3f7fbf"/>
<rect x="2609.3" y="302.5" width="0.6" height="5" fill="#3f7fbf"/>
<rect x="2608.3" y="302.5" width="2.6" height="0.6" fill="#3f7fbf"/>
<rect x="2612.3" y="307.8" width="4.7" height="55.9" fill="#c0d4ec"/>
<rect x="2614.5" y="304.8" width="0.6" height="3" fill="#c0d4ec"/>
<rect x="2613.5" y="304.8" width="2.6" height="0.6" fill="#c0d4ec"/>
<rect x="2617.5" y="307.8" width="4.7" height="55.9" fill="#f58b2a"/>
<rect x="2619.7" y="303.8" width="0.6" height="4" fill="#f58b2a"/>
<rect x="2618.7" y="303.8" width="2.6" height="0.6" fill="#f58b2a"/>
<line x1="2614.3" y1="368.8" x2="2614.3" y2="371.8" stroke="#333" stroke-width="0.9" stroke-dasharray="1,0.8" opacity="0.5"/>
<rect x="2639.2" y="295" width="98.40000000000009" height="71.80000000000001" fill="#fff" stroke="#bbb" stroke-width="0.6"/>
<rect x="2640.2" y="303.0" width="96.40000000000009" height="0.5" fill="#e6e6e6"/>
<rect x="2635.2" y="302.5" width="2.5" height="1" fill="#555" opacity="0.5"/>
<rect x="2640.2" y="318.4" width="96.40000000000009" height="0.5" fill="#e6e6e6"/>
<rect x="2635.2" y="317.9" width="2.5" height="1" fill="#555" opacity="0.5"/>
<rect x="2640.2" y="333.9" width="96.40000000000009" height="0.5" fill="#e6e6e6"/>
<rect x="2635.2" y="333.4" width="2.5" height="1" fill="#555" opacity="0.5"/>
<rect x="2640.2" y="349.4" width="96.40000000000009" height="0.5" fill="#e6e6e6"/>
<rect x="2635.2" y="348.9" width="2.5" height="1" fill="#555" opacity="0.5"/>
<rect x="2640.2" y="364.8" width="96.40000000000009" height="0.5" fill="#e6e6e6"/>
<rect x="2635.2" y="364.3" width="2.5" height="1" fill="#555" opacity="0.5"/>
<rect x="2639.2" y="295" width="98.40000000000009" height="3.8" fill="#cfcfcf" stroke="#999" stroke-width="0.4"/>
<rect x="2685.3999999999996" y="296.4" width="6" height="1" fill="#333" opacity="0.5"/>
<rect x="2649.8" y="326.8" width="4.7" height="36.9" fill="#3f7fbf"/>
<rect x="2652.0" y="324.8" width="0.6" height="2" fill="#3f7fbf"/>
<rect x="2651.0" y="324.8" width="2.6" height="0.6" fill="#3f7fbf"/>
<rect x="2655.0" y="329.0" width="4.7" height="34.7" fill="#c0d4ec"/>
<rect x="2657.2" y="324.0" width="0.6" height="5" fill="#c0d4ec"/>
<rect x="2656.2" y="324.0" width="2.6" height="0.6" fill="#c0d4ec"/>
<rect x="2660.2" y="319.8" width="4.7" height="43.9" fill="#f58b2a"/>
<rect x="2662.4" y="311.8" width="0.6" height="8" fill="#f58b2a"/>
<rect x="2661.4" y="311.8" width="2.6" height="0.6" fill="#f58b2a"/>
<line x1="2657.0" y1="368.8" x2="2657.0" y2="377.8" stroke="#333" stroke-width="0.9" stroke-dasharray="1,0.8" opacity="0.5"/>
<rect x="2680.5" y="331.4" width="4.7" height="32.3" fill="#3f7fbf"/>
<rect x="2682.7" y="324.4" width="0.6" height="7" fill="#3f7fbf"/>
<rect x="2681.7" y="324.4" width="2.6" height="0.6" fill="#3f7fbf"/>
<rect x="2685.7" y="319.1" width="4.7" height="44.6" fill="#c0d4ec"/>
<rect x="2687.9" y="309.1" width="0.6" height="10" fill="#c0d4ec"/>
<rect x="2686.9" y="309.1" width="2.6" height="0.6" fill="#c0d4ec"/>
<rect x="2691.0" y="316.7" width="4.7" height="47.0" fill="#f58b2a"/>
<rect x="2693.2" y="314.7" width="0.6" height="2" fill="#f58b2a"/>
<rect x="2692.2" y="314.7" width="2.6" height="0.6" fill="#f58b2a"/>
<line x1="2687.7" y1="368.8" x2="2687.7" y2="373.8" stroke="#333" stroke-width="0.9" stroke-dasharray="1,0.8" opacity="0.5"/>
<rect x="2711.3" y="329.9" width="4.7" height="33.8" fill="#3f7fbf"/>
<rect x="2713.5" y="317.9" width="0.6" height="12" fill="#3f7fbf"/>
<rect x="2712.5" y="317.9" width="2.6" height="0.6" fill="#3f7fbf"/>
<rect x="2716.5" y="330.5" width="4.7" height="33.2" fill="#c0d4ec"/>
<rect x="2718.7" y="326.5" width="0.6" height="4" fill="#c0d4ec"/>
<rect x="2717.7" y="326.5" width="2.6" height="0.6" fill="#c0d4ec"/>
<rect x="2721.7" y="313.6" width="4.7" height="50.1" fill="#f58b2a"/>
<rect x="2723.9" y="306.6" width="0.6" height="7" fill="#f58b2a"/>
<rect x="2722.9" y="306.6" width="2.6" height="0.6" fill="#f58b2a"/>
<line x1="2718.5" y1="368.8" x2="2718.5" y2="371.8" stroke="#333" stroke-width="0.9" stroke-dasharray="1,0.8" opacity="0.5"/>
<rect x="2534.4" y="379" width="98.40000000000009" height="72.30000000000001" fill="#fff" stroke="#bbb" stroke-width="0.6"/>
<rect x="2535.4" y="387.0" width="96.40000000000009" height="0.5" fill="#e6e6e6"/>
<rect x="2530.4" y="386.5" width="2.5" height="1" fill="#555" opacity="0.5"/>
<rect x="2535.4" y="402.6" width="96.40000000000009" height="0.5" fill="#e6e6e6"/>
<rect x="2530.4" y="402.1" width="2.5" height="1" fill="#555" opacity="0.5"/>
<rect x="2535.4" y="418.1" width="96.40000000000009" height="0.5" fill="#e6e6e6"/>
<rect x="2530.4" y="417.6" width="2.5" height="1" fill="#555" opacity="0.5"/>
<rect x="2535.4" y="433.7" width="96.40000000000009" height="0.5" fill="#e6e6e6"/>
<rect x="2530.4" y="433.2" width="2.5" height="1" fill="#555" opacity="0.5"/>
<rect x="2535.4" y="449.3" width="96.40000000000009" height="0.5" fill="#e6e6e6"/>
<rect x="2530.4" y="448.8" width="2.5" height="1" fill="#555" opacity="0.5"/>
<rect x="2534.4" y="379" width="98.40000000000009" height="3.8" fill="#cfcfcf" stroke="#999" stroke-width="0.4"/>
<rect x="2580.6000000000004" y="380.4" width="6" height="1" fill="#333" opacity="0.5"/>
<rect x="2545.0" y="396.6" width="4.7" height="52.6" fill="#3f7fbf"/>
<rect x="2547.2" y="393.6" width="0.6" height="3" fill="#3f7fbf"/>
<rect x="2546.2" y="393.6" width="2.6" height="0.6" fill="#3f7fbf"/>
<rect x="2550.2" y="398.4" width="4.7" height="50.7" fill="#c0d4ec"/>
<rect x="2552.4" y="394.4" width="0.6" height="4" fill="#c0d4ec"/>
<rect x="2551.4" y="394.4" width="2.6" height="0.6" fill="#c0d4ec"/>
<rect x="2555.4" y="393.2" width="4.7" height="55.9" fill="#f58b2a"/>
<rect x="2557.6" y="388.2" width="0.6" height="5" fill="#f58b2a"/>
<rect x="2556.6" y="388.2" width="2.6" height="0.6" fill="#f58b2a"/>
<line x1="2552.2" y1="453.3" x2="2552.2" y2="462.3" stroke="#333" stroke-width="0.9" stroke-dasharray="1,0.8" opacity="0.5"/>
<rect x="2576.0" y="399.7" width="4.7" height="49.5" fill="#3f7fbf"/>
<rect x="2578.2" y="395.7" width="0.6" height="4" fill="#3f7fbf"/>
<rect x="2577.2" y="395.7" width="2.6" height="0.6" fill="#3f7fbf"/>
<rect x="2581.3" y="395.1" width="4.7" height="54.1" fill="#c0d4ec"/>
<rect x="2583.5" y="390.1" width="0.6" height="5" fill="#c0d4ec"/>
<rect x="2582.5" y="390.1" width="2.6" height="0.6" fill="#c0d4ec"/>
<rect x="2586.5" y="391.7" width="4.7" height="57.5" fill="#f58b2a"/>
<rect x="2588.7" y="388.7" width="0.6" height="3" fill="#f58b2a"/>
<rect x="2587.7" y="388.7" width="2.6" height="0.6" fill="#f58b2a"/>
<line x1="2583.2" y1="453.3" x2="2583.2" y2="458.3" stroke="#333" stroke-width="0.9" stroke-dasharray="1,0.8" opacity="0.5"/>
<rect x="2607.1" y="399.4" width="4.7" height="49.8" fill="#3f7fbf"/>
<rect x="2609.3" y="394.4" width="0.6" height="5" fill="#3f7fbf"/>
<rect x="2608.3" y="394.4" width="2.6" height="0.6" fill="#3f7fbf"/>
<rect x="2612.3" y="396.6" width="4.7" height="52.6" fill="#c0d4ec"/>
<rect x="2614.5" y="393.6" width="0.6" height="3" fill="#c0d4ec"/>
<rect x="2613.5" y="393.6" width="2.6" height="0.6" fill="#c0d4ec"/>
<rect x="2617.5" y="391.1" width="4.7" height="58.1" fill="#f58b2a"/>
<rect x="2619.7" y="387.1" width="0.6" height="4" fill="#f58b2a"/>
<rect x="2618.7" y="387.1" width="2.6" height="0.6" fill="#f58b2a"/>
<line x1="2614.3" y1="453.3" x2="2614.3" y2="456.3" stroke="#333" stroke-width="0.9" stroke-dasharray="1,0.8" opacity="0.5"/>
<rect x="2639.2" y="379" width="98.40000000000009" height="72.30000000000001" fill="#fff" stroke="#bbb" stroke-width="0.6"/>
<rect x="2640.2" y="387.0" width="96.40000000000009" height="0.5" fill="#e6e6e6"/>
<rect x="2635.2" y="386.5" width="2.5" height="1" fill="#555" opacity="0.5"/>
<rect x="2640.2" y="402.6" width="96.40000000000009" height="0.5" fill="#e6e6e6"/>
<rect x="2635.2" y="402.1" width="2.5" height="1" fill="#555" opacity="0.5"/>
<rect x="2640.2" y="418.1" width="96.40000000000009" height="0.5" fill="#e6e6e6"/>
<rect x="2635.2" y="417.6" width="2.5" height="1" fill="#555" opacity="0.5"/>
<rect x="2640.2" y="433.7" width="96.40000000000009" height="0.5" fill="#e6e6e6"/>
<rect x="2635.2" y="433.2" width="2.5" height="1" fill="#555" opacity="0.5"/>
<rect x="2640.2" y="449.3" width="96.40000000000009" height="0.5" fill="#e6e6e6"/>
<rect x="2635.2" y="448.8" width="2.5" height="1" fill="#555" opacity="0.5"/>
<rect x="2639.2" y="379" width="98.40000000000009" height="3.8" fill="#cfcfcf" stroke="#999" stroke-width="0.4"/>
<rect x="2685.3999999999996" y="380.4" width="6" height="1" fill="#333" opacity="0.5"/>
<rect x="2649.8" y="392.9" width="4.7" height="56.2" fill="#3f7fbf"/>
<rect x="2652.0" y="389.9" width="0.6" height="3" fill="#3f7fbf"/>
<rect x="2651.0" y="389.9" width="2.6" height="0.6" fill="#3f7fbf"/>
<rect x="2655.0" y="392.3" width="4.7" height="56.9" fill="#c0d4ec"/>
<rect x="2657.2" y="388.3" width="0.6" height="4" fill="#c0d4ec"/>
<rect x="2656.2" y="388.3" width="2.6" height="0.6" fill="#c0d4ec"/>
<rect x="2660.2" y="389.8" width="4.7" height="59.3" fill="#f58b2a"/>
<rect x="2662.4" y="384.8" width="0.6" height="5" fill="#f58b2a"/>
<rect x="2661.4" y="384.8" width="2.6" height="0.6" fill="#f58b2a"/>
<line x1="2657.0" y1="453.3" x2="2657.0" y2="462.3" stroke="#333" stroke-width="0.9" stroke-dasharray="1,0.8" opacity="0.5"/>
<rect x="2680.5" y="393.2" width="4.7" height="55.9" fill="#3f7fbf"/>
<rect x="2682.7" y="389.2" width="0.6" height="4" fill="#3f7fbf"/>
<rect x="2681.7" y="389.2" width="2.6" height="0.6" fill="#3f7fbf"/>
<rect x="2685.7" y="390.4" width="4.7" height="58.7" fill="#c0d4ec"/>
<rect x="2687.9" y="385.4" width="0.6" height="5" fill="#c0d4ec"/>
<rect x="2686.9" y="385.4" width="2.6" height="0.6" fill="#c0d4ec"/>
<rect x="2691.0" y="389.2" width="4.7" height="59.9" fill="#f58b2a"/>
<rect x="2693.2" y="386.2" width="0.6" height="3" fill="#f58b2a"/>
<rect x="2692.2" y="386.2" width="2.6" height="0.6" fill="#f58b2a"/>
<line x1="2687.7" y1="453.3" x2="2687.7" y2="458.3" stroke="#333" stroke-width="0.9" stroke-dasharray="1,0.8" opacity="0.5"/>
<rect x="2711.3" y="394.7" width="4.7" height="54.4" fill="#3f7fbf"/>
<rect x="2713.5" y="389.7" width="0.6" height="5" fill="#3f7fbf"/>
<rect x="2712.5" y="389.7" width="2.6" height="0.6" fill="#3f7fbf"/>
<rect x="2716.5" y="392.9" width="4.7" height="56.2" fill="#c0d4ec"/>
<rect x="2718.7" y="389.9" width="0.6" height="3" fill="#c0d4ec"/>
<rect x="2717.7" y="389.9" width="2.6" height="0.6" fill="#c0d4ec"/>
<rect x="2721.7" y="388.3" width="4.7" height="60.8" fill="#f58b2a"/>
<rect x="2723.9" y="384.3" width="0.6" height="4" fill="#f58b2a"/>
<rect x="2722.9" y="384.3" width="2.6" height="0.6" fill="#f58b2a"/>
<line x1="2718.5" y1="453.3" x2="2718.5" y2="456.3" stroke="#333" stroke-width="0.9" stroke-dasharray="1,0.8" opacity="0.5"/>
<line x1="2529" y1="368" x2="2529" y2="378" stroke="#333" stroke-width="1" stroke-dasharray="1,0.8" opacity="0.6"/>
<rect x="2631" y="455.5" width="8" height="1" fill="#333" opacity="0.5"/>
<rect x="2741" y="370" width="3" height="2.5" fill="#3f7fbf"/><rect x="2741" y="373.5" width="3" height="2.5" fill="#c0d4ec"/><rect x="2741" y="377" width="3" height="2.5" fill="#f58b2a"/>
<rect x="2772.9" y="294.6" width="76.8" height="104.4" fill="#fff" stroke="#ccc" stroke-width="0.6"/>
<rect x="2850.6" y="294.6" width="76.9" height="104.4" fill="#fff" stroke="#ccc" stroke-width="0.6"/>
<rect x="2772.9" y="294.6" width="76.8" height="3" fill="#d6d6d6"/><rect x="2850.6" y="294.6" width="76.9" height="3" fill="#d6d6d6"/>
<line x1="2780.7" y1="336.0" x2="2780.7" y2="346.8" stroke="#999" stroke-width="0.5"/>
<rect x="2776.0" y="338.5" width="9.5" height="6.1" fill="#3f7fbf" opacity="0.85" stroke="#999" stroke-width="0.4"/>
<rect x="2776.0" y="341.6" width="9.5" height="0.6" fill="#555"/>
<line x1="2793.0" y1="337.6" x2="2793.0" y2="376.0" stroke="#999" stroke-width="0.5"/>
<rect x="2788.3" y="355.4" width="9.5" height="16.0" fill="#c0d4ec" opacity="0.85" stroke="#999" stroke-width="0.4"/>
<rect x="2788.3" y="363.4" width="9.5" height="0.6" fill="#555"/>
<line x1="2805.5" y1="346.8" x2="2805.5" y2="356.0" stroke="#999" stroke-width="0.5"/>
<rect x="2800.9" y="347.4" width="9.2" height="7.1" fill="#f58b2a" opacity="0.85" stroke="#999" stroke-width="0.4"/>
<rect x="2800.9" y="350.9" width="9.2" height="0.6" fill="#555"/>
<line x1="2817.9" y1="336.6" x2="2817.9" y2="360.6" stroke="#999" stroke-width="0.5"/>
<rect x="2813.2" y="343.1" width="9.5" height="12.0" fill="#fdd0a2" opacity="0.85" stroke="#999" stroke-width="0.4"/>
<rect x="2813.2" y="349.1" width="9.5" height="0.6" fill="#555"/>
<line x1="2830.1" y1="333.0" x2="2830.1" y2="355.1" stroke="#999" stroke-width="0.5"/>
<rect x="2825.4" y="338.5" width="9.2" height="14.4" fill="#3fa34d" opacity="0.85" stroke="#999" stroke-width="0.4"/>
<rect x="2825.4" y="345.7" width="9.2" height="0.6" fill="#555"/>
<line x1="2842.5" y1="359.1" x2="2842.5" y2="383.7" stroke="#999" stroke-width="0.5"/>
<rect x="2837.4" y="359.1" width="10.1" height="15.4" fill="#b5e2a6" opacity="0.85" stroke="#999" stroke-width="0.4"/>
<rect x="2837.4" y="366.8" width="10.1" height="0.6" fill="#555"/>
<line x1="2858.0" y1="301.6" x2="2858.0" y2="314.5" stroke="#999" stroke-width="0.5"/>
<rect x="2853.1" y="303.2" width="9.8" height="9.2" fill="#3f7fbf" opacity="0.85" stroke="#999" stroke-width="0.4"/>
<rect x="2853.1" y="307.8" width="9.8" height="0.6" fill="#555"/>
<line x1="2870.5" y1="352.9" x2="2870.5" y2="387.7" stroke="#999" stroke-width="0.5"/>
<rect x="2865.4" y="371.4" width="10.1" height="12.9" fill="#c0d4ec" opacity="0.85" stroke="#999" stroke-width="0.4"/>
<rect x="2865.4" y="377.8" width="10.1" height="0.6" fill="#555"/>
<line x1="2882.8" y1="311.5" x2="2882.8" y2="340.6" stroke="#999" stroke-width="0.5"/>
<rect x="2878.0" y="318.2" width="9.5" height="9.2" fill="#f58b2a" opacity="0.85" stroke="#999" stroke-width="0.4"/>
<rect x="2878.0" y="322.8" width="9.5" height="0.6" fill="#555"/>
<line x1="2895.0" y1="317.6" x2="2895.0" y2="395.0" stroke="#999" stroke-width="0.5"/>
<rect x="2890.3" y="348.3" width="9.5" height="40.9" fill="#fdd0a2" opacity="0.85" stroke="#999" stroke-width="0.4"/>
<rect x="2890.3" y="368.8" width="9.5" height="0.6" fill="#555"/>
<line x1="2907.2" y1="301.6" x2="2907.2" y2="320.1" stroke="#999" stroke-width="0.5"/>
<rect x="2902.3" y="309.0" width="9.8" height="10.8" fill="#3fa34d" opacity="0.85" stroke="#999" stroke-width="0.4"/>
<rect x="2902.3" y="314.4" width="9.8" height="0.6" fill="#555"/>
<line x1="2919.9" y1="372.9" x2="2919.9" y2="387.7" stroke="#999" stroke-width="0.5"/>
<rect x="2915.2" y="372.9" width="9.5" height="11.4" fill="#b5e2a6" opacity="0.85" stroke="#999" stroke-width="0.4"/>
<rect x="2915.2" y="378.6" width="9.5" height="0.6" fill="#555"/>
<line x1="2780.6" y1="401" x2="2780.6" y2="416.0" stroke="#333" stroke-width="0.9" stroke-dasharray="1,0.8" opacity="0.55"/>
<line x1="2793.0" y1="401" x2="2793.0" y2="417.5" stroke="#333" stroke-width="0.9" stroke-dasharray="1,0.8" opacity="0.55"/>
<line x1="2805.4" y1="401" x2="2805.4" y2="419.0" stroke="#333" stroke-width="0.9" stroke-dasharray="1,0.8" opacity="0.55"/>
<line x1="2817.8" y1="401" x2="2817.8" y2="416.0" stroke="#333" stroke-width="0.9" stroke-dasharray="1,0.8" opacity="0.55"/>
<line x1="2830.2" y1="401" x2="2830.2" y2="417.5" stroke="#333" stroke-width="0.9" stroke-dasharray="1,0.8" opacity="0.55"/>
<line x1="2842.7" y1="401" x2="2842.7" y2="419.0" stroke="#333" stroke-width="0.9" stroke-dasharray="1,0.8" opacity="0.55"/>
<line x1="2855.1" y1="401" x2="2855.1" y2="416.0" stroke="#333" stroke-width="0.9" stroke-dasharray="1,0.8" opacity="0.55"/>
<line x1="2867.5" y1="401" x2="2867.5" y2="417.5" stroke="#333" stroke-width="0.9" stroke-dasharray="1,0.8" opacity="0.55"/>
<line x1="2879.9" y1="401" x2="2879.9" y2="419.0" stroke="#333" stroke-width="0.9" stroke-dasharray="1,0.8" opacity="0.55"/>
<line x1="2892.3" y1="401" x2="2892.3" y2="416.0" stroke="#333" stroke-width="0.9" stroke-dasharray="1,0.8" opacity="0.55"/>
<line x1="2904.7" y1="401" x2="2904.7" y2="417.5" stroke="#333" stroke-width="0.9" stroke-dasharray="1,0.8" opacity="0.55"/>
<line x1="2917.1" y1="401" x2="2917.1" y2="419.0" stroke="#333" stroke-width="0.9" stroke-dasharray="1,0.8" opacity="0.55"/>
<line x1="2767.5" y1="336" x2="2767.5" y2="350" stroke="#333" stroke-width="1" stroke-dasharray="1,0.8" opacity="0.6"/>
<rect x="2769" y="305.5" width="2.5" height="1" fill="#555" opacity="0.5"/>
<rect x="2769" y="335" width="2.5" height="1" fill="#555" opacity="0.5"/>
<rect x="2769" y="365" width="2.5" height="1" fill="#555" opacity="0.5"/>
<rect x="2769" y="394.5" width="2.5" height="1" fill="#555" opacity="0.5"/>
<line x1="2634" y1="520.5" x2="2654.4" y2="530.6" stroke="#f05040" stroke-width="0.7" stroke-dasharray="0.8,1.4" opacity="0.75"/>
<line x1="2654.4" y1="530.6" x2="2677" y2="541.8" stroke="#f05040" stroke-width="0.7" stroke-dasharray="0.8,1.4" opacity="0.75"/>
<line x1="2654.4" y1="530.6" x2="2659.4" y2="550.9" stroke="#f05040" stroke-width="0.7" stroke-dasharray="0.8,1.4" opacity="0.75"/>
<line x1="2677" y1="541.8" x2="2659.4" y2="550.9" stroke="#f05040" stroke-width="0.7" stroke-dasharray="0.8,1.4" opacity="0.75"/>
<line x1="2677" y1="541.8" x2="2678" y2="561" stroke="#f05040" stroke-width="0.7" stroke-dasharray="0.8,1.4" opacity="0.75"/>
<line x1="2659.4" y1="550.9" x2="2678" y2="561" stroke="#f05040" stroke-width="0.7" stroke-dasharray="0.8,1.4" opacity="0.75"/>
<line x1="2678" y1="561" x2="2696.3" y2="553.4" stroke="#f05040" stroke-width="0.7" stroke-dasharray="0.8,1.4" opacity="0.75"/>
<line x1="2677" y1="541.8" x2="2696.3" y2="553.4" stroke="#f05040" stroke-width="0.7" stroke-dasharray="0.8,1.4" opacity="0.75"/>
<line x1="2585" y1="538" x2="2577.5" y2="564.5" stroke="#f05040" stroke-width="0.7" stroke-dasharray="0.8,1.4" opacity="0.75"/>
<line x1="2577.5" y1="564.5" x2="2558.3" y2="568.6" stroke="#f05040" stroke-width="0.7" stroke-dasharray="0.8,1.4" opacity="0.75"/>
<line x1="2577.5" y1="564.5" x2="2602.8" y2="569.6" stroke="#f05040" stroke-width="0.7" stroke-dasharray="0.8,1.4" opacity="0.75"/>
<line x1="2577.5" y1="564.5" x2="2575" y2="588.3" stroke="#f05040" stroke-width="0.7" stroke-dasharray="0.8,1.4" opacity="0.75"/>
<line x1="2558.3" y1="568.6" x2="2558.3" y2="585.2" stroke="#f05040" stroke-width="0.7" stroke-dasharray="0.8,1.4" opacity="0.75"/>
<line x1="2558.3" y1="585.2" x2="2575" y2="588.3" stroke="#f05040" stroke-width="0.7" stroke-dasharray="0.8,1.4" opacity="0.75"/>
<line x1="2575" y1="588.3" x2="2603.8" y2="592.8" stroke="#f05040" stroke-width="0.7" stroke-dasharray="0.8,1.4" opacity="0.75"/>
<line x1="2602.8" y1="569.6" x2="2603.8" y2="592.8" stroke="#f05040" stroke-width="0.7" stroke-dasharray="0.8,1.4" opacity="0.75"/>
<line x1="2558.3" y1="585.2" x2="2559.9" y2="611.5" stroke="#f05040" stroke-width="0.7" stroke-dasharray="0.8,1.4" opacity="0.75"/>
<line x1="2603.8" y1="592.8" x2="2620" y2="610.5" stroke="#f05040" stroke-width="0.7" stroke-dasharray="0.8,1.4" opacity="0.75"/>
<line x1="2559.9" y1="611.5" x2="2544.2" y2="629.2" stroke="#f05040" stroke-width="0.7" stroke-dasharray="0.8,1.4" opacity="0.75"/>
<line x1="2559.9" y1="611.5" x2="2570" y2="634.3" stroke="#3050d0" stroke-width="0.7" stroke-dasharray="0.8,1.4" opacity="0.75"/>
<line x1="2674.6" y1="611.5" x2="2664.5" y2="627.7" stroke="#f05040" stroke-width="0.7" stroke-dasharray="0.8,1.4" opacity="0.75"/>
<line x1="2718.6" y1="590.3" x2="2721" y2="607.5" stroke="#f05040" stroke-width="0.7" stroke-dasharray="0.8,1.4" opacity="0.75"/>
<line x1="2711" y1="640.3" x2="2706.4" y2="657" stroke="#f05040" stroke-width="0.7" stroke-dasharray="0.8,1.4" opacity="0.75"/>
<line x1="2626.6" y1="662" x2="2627.6" y2="681.3" stroke="#f05040" stroke-width="0.7" stroke-dasharray="0.8,1.4" opacity="0.75"/>
<line x1="2627.6" y1="681.3" x2="2632.6" y2="700" stroke="#f05040" stroke-width="0.7" stroke-dasharray="0.8,1.4" opacity="0.75"/>
<line x1="2574.5" y1="674.7" x2="2587.7" y2="686.3" stroke="#f05040" stroke-width="0.7" stroke-dasharray="0.8,1.4" opacity="0.75"/>
<line x1="2672" y1="670.6" x2="2675.6" y2="688.3" stroke="#f05040" stroke-width="0.7" stroke-dasharray="0.8,1.4" opacity="0.75"/>
<circle cx="2634" cy="520.5" r="3.1" fill="#f4c0a0" stroke="#bbb" stroke-width="0.4"/>
<circle cx="2654.4" cy="530.6" r="3.1" fill="#d87a60" stroke="#bbb" stroke-width="0.4"/>
<circle cx="2677" cy="541.8" r="3.1" fill="#e0907a" stroke="#bbb" stroke-width="0.4"/>
<circle cx="2659.4" cy="550.9" r="3.1" fill="#d06a55" stroke="#bbb" stroke-width="0.4"/>
<circle cx="2678" cy="561" r="3.1" fill="#e6a088" stroke="#bbb" stroke-width="0.4"/>
<circle cx="2696.3" cy="553.4" r="3.1" fill="#f0b898" stroke="#bbb" stroke-width="0.4"/>
<circle cx="2585" cy="538" r="3.1" fill="#eef2f6" stroke="#bbb" stroke-width="0.4"/>
<circle cx="2577.5" cy="564.5" r="3.1" fill="#d0e0ee" stroke="#bbb" stroke-width="0.4"/>
<circle cx="2558.3" cy="568.6" r="3.1" fill="#c6d9ec" stroke="#bbb" stroke-width="0.4"/>
<circle cx="2602.8" cy="569.6" r="3.1" fill="#c6d9ec" stroke="#bbb" stroke-width="0.4"/>
<circle cx="2558.3" cy="585.2" r="3.1" fill="#f0f0f0" stroke="#bbb" stroke-width="0.4"/>
<circle cx="2575" cy="588.3" r="3.1" fill="#d0e0ee" stroke="#bbb" stroke-width="0.4"/>
<circle cx="2603.8" cy="592.8" r="3.1" fill="#c6d9ec" stroke="#bbb" stroke-width="0.4"/>
<circle cx="2559.9" cy="611.5" r="3.1" fill="#f2efee" stroke="#bbb" stroke-width="0.4"/>
<circle cx="2620" cy="610.5" r="3.1" fill="#dbe6f0" stroke="#bbb" stroke-width="0.4"/>
<circle cx="2544.2" cy="629.2" r="3.1" fill="#e4edf4" stroke="#bbb" stroke-width="0.4"/>
<circle cx="2570" cy="634.3" r="3.1" fill="#d4e3ef" stroke="#bbb" stroke-width="0.4"/>
<circle cx="2674.6" cy="611.5" r="3.1" fill="#c6d9ec" stroke="#bbb" stroke-width="0.4"/>
<circle cx="2664.5" cy="627.7" r="3.1" fill="#f6e0d6" stroke="#bbb" stroke-width="0.4"/>
<circle cx="2718.6" cy="590.3" r="3.1" fill="#f4c8b0" stroke="#bbb" stroke-width="0.4"/>
<circle cx="2721" cy="607.5" r="3.1" fill="#f0c0a6" stroke="#bbb" stroke-width="0.4"/>
<circle cx="2711" cy="640.3" r="3.1" fill="#a8c4e0" stroke="#bbb" stroke-width="0.4"/>
<circle cx="2706.4" cy="657" r="3.1" fill="#a8c4e0" stroke="#bbb" stroke-width="0.4"/>
<circle cx="2626.6" cy="662" r="3.1" fill="#eeeeee" stroke="#bbb" stroke-width="0.4"/>
<circle cx="2627.6" cy="681.3" r="3.1" fill="#f4c8b0" stroke="#bbb" stroke-width="0.4"/>
<circle cx="2632.6" cy="700" r="3.1" fill="#f0b898" stroke="#bbb" stroke-width="0.4"/>
<circle cx="2574.5" cy="674.7" r="3.1" fill="#d87a60" stroke="#bbb" stroke-width="0.4"/>
<circle cx="2587.7" cy="686.3" r="3.1" fill="#e09070" stroke="#bbb" stroke-width="0.4"/>
<circle cx="2672" cy="670.6" r="3.1" fill="#eef2f4" stroke="#bbb" stroke-width="0.4"/>
<circle cx="2675.6" cy="688.3" r="3.1" fill="#f4f4f4" stroke="#bbb" stroke-width="0.4"/>
<rect x="2843.2" y="515.5" width="0.8" height="177" fill="#ddd"/>
<rect x="2861" y="515.5" width="0.8" height="177" fill="#eee"/>
<rect x="2795.7" y="631.5" width="159.3" height="0.8" fill="#ddd"/>
<line x1="2798" y1="523" x2="2816" y2="523" stroke="#f07070" stroke-width="2.2" stroke-dasharray="1.3,0.9" opacity="0.7"/>
<line x1="2798" y1="539" x2="2823" y2="539" stroke="#f07070" stroke-width="2.2" stroke-dasharray="1.3,0.9" opacity="0.7"/>
<line x1="2801" y1="542" x2="2816" y2="542" stroke="#f07070" stroke-width="2.2" stroke-dasharray="1.3,0.9" opacity="0.7"/>
<line x1="2811" y1="559" x2="2820" y2="559" stroke="#f07070" stroke-width="2.2" stroke-dasharray="1.3,0.9" opacity="0.7"/>
<line x1="2801" y1="588" x2="2824" y2="588" stroke="#f07070" stroke-width="2.2" stroke-dasharray="1.3,0.9" opacity="0.7"/>
<line x1="2798" y1="551" x2="2809" y2="551" stroke="#5a8ee0" stroke-width="2.2" stroke-dasharray="1.3,0.9" opacity="0.7"/>
<line x1="2801" y1="612" x2="2815" y2="612" stroke="#5a8ee0" stroke-width="2.2" stroke-dasharray="1.3,0.9" opacity="0.7"/>
<line x1="2812" y1="620" x2="2822" y2="620" stroke="#5a8ee0" stroke-width="2.2" stroke-dasharray="1.3,0.9" opacity="0.7"/>
<line x1="2800" y1="662" x2="2822" y2="662" stroke="#5a8ee0" stroke-width="2.2" stroke-dasharray="1.3,0.9" opacity="0.7"/>
<line x1="2800" y1="670" x2="2823" y2="670" stroke="#5a8ee0" stroke-width="2.2" stroke-dasharray="1.3,0.9" opacity="0.7"/>
<line x1="2822" y1="682" x2="2837" y2="682" stroke="#5a8ee0" stroke-width="2.2" stroke-dasharray="1.3,0.9" opacity="0.7"/>
<line x1="2857" y1="670" x2="2866" y2="670" stroke="#5a8ee0" stroke-width="2.2" stroke-dasharray="1.3,0.9" opacity="0.7"/>
<line x1="2941" y1="551" x2="2951" y2="551" stroke="#22b030" stroke-width="2.2" stroke-dasharray="1.3,0.9" opacity="0.7"/>
<line x1="2905" y1="573" x2="2915" y2="573" stroke="#22b030" stroke-width="2.2" stroke-dasharray="1.3,0.9" opacity="0.7"/>
<line x1="2907" y1="581" x2="2915" y2="581" stroke="#22b030" stroke-width="2.2" stroke-dasharray="1.3,0.9" opacity="0.7"/>
<line x1="2860" y1="593" x2="2882" y2="593" stroke="#22b030" stroke-width="2.2" stroke-dasharray="1.3,0.9" opacity="0.7"/>
<line x1="2886" y1="594" x2="2902" y2="594" stroke="#22b030" stroke-width="2.2" stroke-dasharray="1.3,0.9" opacity="0.7"/>
<line x1="2888" y1="608" x2="2898" y2="608" stroke="#22b030" stroke-width="2.2" stroke-dasharray="1.3,0.9" opacity="0.7"/>
<line x1="2909" y1="611" x2="2921" y2="611" stroke="#22b030" stroke-width="2.2" stroke-dasharray="1.3,0.9" opacity="0.7"/>
<line x1="2860" y1="618" x2="2894" y2="618" stroke="#22b030" stroke-width="2.2" stroke-dasharray="1.3,0.9" opacity="0.7"/>
<line x1="2895" y1="630" x2="2907" y2="630" stroke="#22b030" stroke-width="2.2" stroke-dasharray="1.3,0.9" opacity="0.7"/>
<line x1="2858" y1="633" x2="2880" y2="633" stroke="#22b030" stroke-width="2.2" stroke-dasharray="1.3,0.9" opacity="0.7"/>
<line x1="2858" y1="646" x2="2867" y2="646" stroke="#22b030" stroke-width="2.2" stroke-dasharray="1.3,0.9" opacity="0.7"/>
<line x1="2864" y1="652" x2="2886" y2="652" stroke="#22b030" stroke-width="2.2" stroke-dasharray="1.3,0.9" opacity="0.7"/>
<rect x="2793" y="598" width="2" height="6" fill="#222" opacity="0.6"/>
<rect x="2958" y="583" width="8" height="1" fill="#222" opacity="0.5"/><rect x="2958" y="596" width="10" height="1" fill="#222" opacity="0.5"/>
<rect x="2871" y="696" width="8" height="1" fill="#222" opacity="0.6"/>
<text x="2621.5" y="36.9" font-family="Liberation Sans, sans-serif" font-size="16.00" font-weight="normal" font-style="normal" fill="#000" text-anchor="middle" transform="translate(0,36.9) scale(1,1.02) translate(0,-36.9)" >Heatmap</text>
<text x="2839.5" y="28.3" font-family="Liberation Sans, sans-serif" font-size="16.00" font-weight="normal" font-style="normal" fill="#000" text-anchor="middle" transform="translate(0,28.3) scale(1,1.02) translate(0,-28.3)" >Barplot</text>
<text x="2626" y="274.6" font-family="Liberation Sans, sans-serif" font-size="16.00" font-weight="normal" font-style="normal" fill="#000" text-anchor="middle" transform="translate(0,274.6) scale(1,1.02) translate(0,-274.6)" >Diversity</text>
<text x="2843.5" y="279" font-family="Liberation Sans, sans-serif" font-size="16.00" font-weight="normal" font-style="normal" fill="#000" text-anchor="middle" transform="translate(0,279) scale(1,1.02) translate(0,-279)" >Boxplot</text>
<text x="2639" y="513" font-family="Liberation Sans, sans-serif" font-size="16.00" font-weight="normal" font-style="normal" fill="#000" text-anchor="middle" transform="translate(0,513) scale(1,1.02) translate(0,-513)" >Network</text>
<text x="2884.7" y="492.8" font-family="Liberation Sans, sans-serif" font-size="16.00" font-weight="normal" font-style="normal" fill="#000" text-anchor="middle" transform="translate(0,492.8) scale(1,1.02) translate(0,-492.8)" >Scatterplot</text>
<text x="2728" y="808.2" font-family="Liberation Sans, sans-serif" font-size="43.13" font-weight="normal" font-style="italic" fill="#000" text-anchor="middle" transform="translate(0,808.2) scale(1,1.04) translate(0,-808.2)" >Visualization plots</text>
</svg></body></html>
